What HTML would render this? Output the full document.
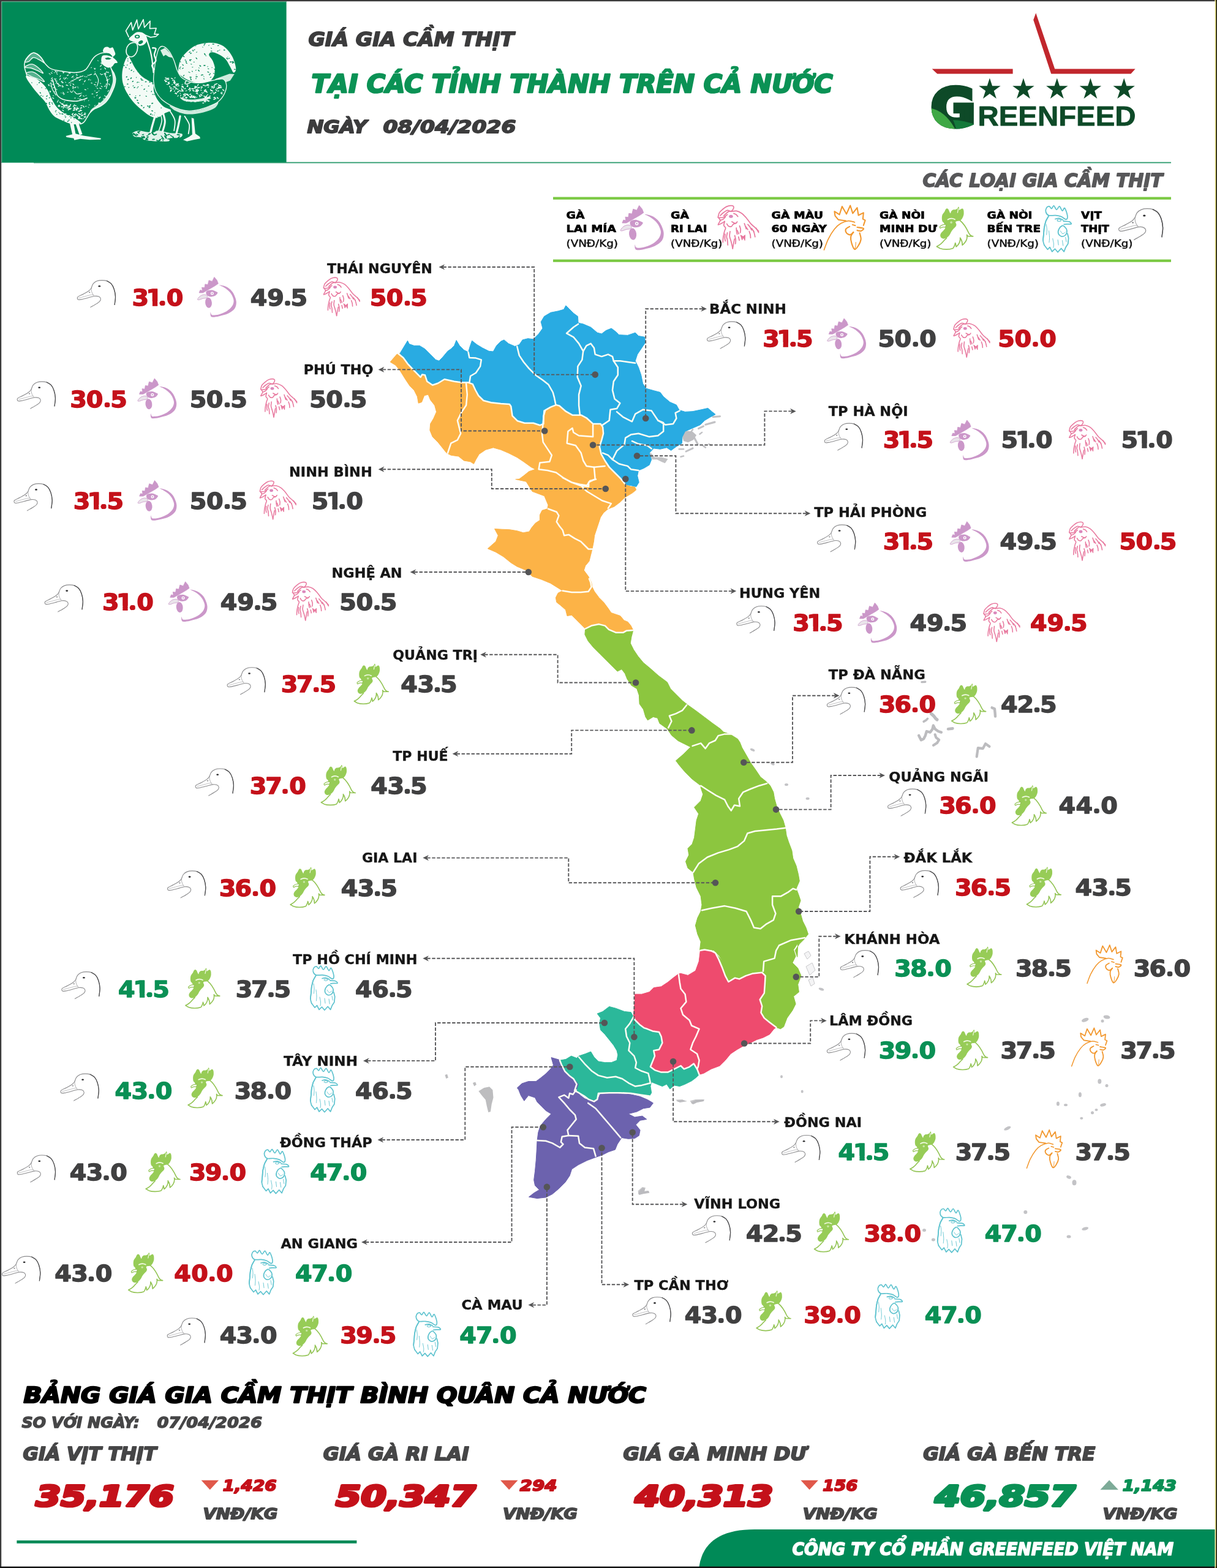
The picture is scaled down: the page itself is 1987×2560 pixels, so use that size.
<!DOCTYPE html>
<html lang="vi">
<head>
<meta charset="utf-8">
<title>Giá gia cầm thịt tại các tỉnh thành trên cả nước - GreenFeed</title>
<style>
html,body{margin:0;padding:0;background:#fff;}
body{width:1987px;height:2560px;overflow:hidden;}
svg{display:block;}
text{font-family:"Liberation Sans","DejaVu Sans",sans-serif;font-weight:bold;}
.lb,.nm,.hd{font-family:"DejaVu Sans","Liberation Sans",sans-serif;}
.it{font-style:italic;}
.rg{font-weight:normal;}
</style>
</head>
<body>
<svg width="1987" height="2560" viewBox="0 0 1987 2560">
<rect x="0" y="0" width="1987" height="2560" fill="#ffffff"/>
<defs>
<g id="ic-duck" fill="none" stroke-linecap="round" stroke-linejoin="round"><path d="M61.4,40.5 C61.6,38.3 62.9,31.6 62.8,27.4 C62.6,23.1 61.7,18.5 60.5,15.0 C59.3,11.5 57.8,8.4 55.8,6.2 C53.8,4.0 51.2,2.5 48.7,1.6 C46.2,0.7 43.4,0.6 40.7,0.6 C38.0,0.6 35.1,0.9 32.7,1.8 C30.3,2.7 28.1,4.3 26.5,6.2 C24.9,8.1 23.9,12.1 23.4,13.3" stroke="#8c8c8e" stroke-width="1.15"/><path d="M61.4,40.5 C61.6,38.3 62.9,31.6 62.8,27.4 C62.6,23.1 61.7,18.5 60.5,15.0 C59.3,11.5 57.8,8.4 55.8,6.2 C53.8,4.0 49.9,2.4 48.7,1.6" stroke="#4a4a4c" stroke-width="1.2"/><path d="M23.4,13.3 C22.8,14.0 21.6,16.1 19.5,17.7 C17.4,19.3 13.5,21.4 10.6,23.0 C7.7,24.6 3.5,26.2 1.8,27.4 C0.1,28.6 0.5,29.3 0.6,30.1 C0.7,30.9 1.1,31.9 2.2,32.2 C3.3,32.5 4.2,32.5 7.1,31.9 C10.0,31.3 16.0,29.7 19.5,28.8 C23.0,27.9 25.7,26.8 28.3,26.5 C30.9,26.2 33.7,26.4 35.4,27.1 C37.1,27.8 38.3,29.3 38.6,30.6 C38.9,31.9 38.3,33.5 37.2,34.9 C36.1,36.3 34.4,37.3 31.9,38.9 C29.4,40.5 23.7,43.6 22.1,44.6" stroke="#8e8e90" stroke-width="1.1"/><path d="M23.4,13.3 C23.5,14.2 23.4,16.9 23.8,18.5 C24.2,20.1 24.9,21.7 25.6,23.0 C26.4,24.3 27.9,25.9 28.3,26.5" stroke="#a5a5a7" stroke-width="0.9"/><path d="M3.0,29.6 C4.5,29.2 8.8,28.0 12.0,27.2 C15.2,26.4 19.5,25.1 22.0,24.6 C24.5,24.1 26.2,24.4 27.0,24.4" stroke="#b0b0b2" stroke-width="0.8"/><ellipse cx="36.6" cy="10.3" rx="1.9" ry="1.3" fill="#2e2e30" stroke="none"/><ellipse cx="20.4" cy="20.3" rx="1.3" ry="0.8" fill="#77777a" stroke="none"/></g>
<g id="ic-laimia"><path d="M36.3,13.2 C36.5,12.9 41.1,13.9 43.5,14.6 C45.9,15.3 48.2,16.2 50.4,17.6 C52.6,19.0 54.8,20.9 56.6,23.0 C58.4,25.1 59.9,27.4 61.2,30.4 C62.5,33.4 64.1,37.5 64.2,41.0 C64.3,44.5 63.8,48.6 61.6,51.7 C59.4,54.8 55.2,57.7 51.0,59.8 C46.8,61.9 40.5,63.2 36.3,64.2 C32.1,65.2 28.0,65.8 25.7,65.7 C23.4,65.6 22.9,64.8 22.3,63.4 C21.7,62.0 21.9,57.9 22.1,57.5 C22.3,57.1 22.7,60.4 23.4,61.2 C24.1,62.0 24.4,62.5 26.5,62.5 C28.6,62.5 32.6,62.3 36.3,61.2 C40.0,60.1 45.2,58.1 48.7,55.9 C52.2,53.7 55.3,50.9 57.2,48.1 C59.1,45.3 60.0,42.2 60.0,39.3 C60.0,36.4 58.4,33.0 57.3,30.6 C56.2,28.2 54.6,26.3 53.2,24.6 C51.8,22.9 50.5,21.9 48.7,20.5 C46.9,19.1 44.5,17.5 42.4,16.3 C40.3,15.1 36.1,13.5 36.3,13.2Z" fill="#cb97c9"/><path d="M3.5,26.0 L5.3,21.6 L8.8,22.5 L8.0,17.2 L12.4,17.7 L13.3,11.9 L17.7,12.7 L19.5,5.7 L24.8,7.4 L28.3,0.4 L32.7,5.7 L34.7,11.0 L29.2,14.8 L22.1,18.9 L15.9,22.5 L9.7,26.0Z" fill="#cb97c9" stroke="#cb97c9" stroke-width="0.8" stroke-linejoin="round"/><path d="M15.9,23.2 C17.4,22.1 21.4,21.3 23.9,21.4 C26.4,21.5 29.4,23.2 31.0,24.0 C32.6,24.8 33.9,24.9 33.8,26.0 C33.6,27.1 31.8,29.5 30.1,30.6 C28.5,31.7 25.8,32.2 23.9,32.4 C22.0,32.5 20.1,32.3 18.6,31.5 C17.1,30.7 15.4,29.2 15.0,27.8 C14.6,26.4 14.4,24.3 15.9,23.2Z" fill="#cb97c9"/><circle cx="24.8" cy="26.9" r="2.5" fill="#fff"/><circle cx="24.8" cy="26.9" r="1.1" fill="#cb97c9"/><path d="M0.9,36.6 C1.2,35.6 3.5,32.6 5.3,31.3 C7.1,30.0 9.6,29.1 11.5,29.0 C13.4,28.9 16.1,29.5 16.8,30.4 C17.5,31.3 17.1,33.5 15.9,34.3 C14.7,35.1 11.8,34.9 9.7,35.4 C7.6,35.9 5.0,37.3 3.5,37.5 C2.0,37.7 0.6,37.6 0.9,36.6Z" fill="#e9e4ea" stroke="#cb97c9" stroke-width="0.8"/><ellipse cx="18.9" cy="42.2" rx="5.4" ry="8.6" fill="#cb97c9" transform="rotate(-6 18.9 42.2)"/></g>
<g id="ic-rilai" fill="none" stroke="#e8799f" stroke-width="1.55" stroke-linecap="round" stroke-linejoin="round"><path d="M0.8,17.5 C1.1,16.4 1.4,12.9 2.6,11.0 C3.8,9.1 6.1,7.3 7.8,5.8 C9.5,4.3 11.1,3.0 13.0,2.1 C14.9,1.2 17.8,0.6 19.5,0.6 C21.2,0.6 22.9,1.2 23.4,2.1 C23.9,3.0 23.3,4.6 22.7,5.8 C22.1,7.0 20.0,8.5 19.5,9.1"/><path d="M4.0,15.0 C4.8,14.2 7.2,11.8 9.0,10.5 C10.8,9.2 12.8,7.7 14.5,7.5 C16.2,7.3 17.4,8.9 19.5,9.1 C21.6,9.2 24.7,8.0 27.3,8.4 C29.9,8.8 32.6,10.1 35.0,11.7 C37.4,13.3 39.4,15.7 41.6,18.2 C43.8,20.7 45.9,24.2 48.0,26.6 C50.1,29.0 52.5,30.6 54.5,32.5 C56.5,34.4 58.8,36.8 59.7,37.7"/><path d="M0.8,17.5 C1.3,18.2 3.9,20.2 3.9,22.0 C3.9,23.8 0.4,27.7 0.8,28.4 C1.2,29.1 4.9,26.8 6.5,26.0 C8.1,25.2 9.8,23.8 10.4,23.4"/><path d="M3.9,22.0 C4.6,21.8 6.7,21.3 8.0,20.5 C9.3,19.7 10.9,17.6 11.5,17.0"/><path d="M10.4,24.0 C10.2,24.9 8.9,27.7 9.1,29.2 C9.3,30.7 11.5,31.8 11.7,33.1 C11.9,34.4 10.7,35.9 10.4,37.0 C10.1,38.1 10.1,37.9 9.7,39.6 C9.3,41.3 8.5,44.6 8.2,47.0 C7.9,49.4 7.9,52.8 7.8,53.9"/><path d="M13.5,27.0 C13.9,27.6 14.9,29.8 16.0,30.5 C17.1,31.2 18.8,31.5 20.0,31.0 C21.2,30.5 21.8,28.3 23.0,27.5 C24.2,26.7 26.3,26.2 27.0,26.0"/><path d="M14.3,40.0 C14.1,41.0 13.2,44.2 13.2,46.0 C13.2,47.8 14.0,48.5 14.3,50.5 C14.6,52.5 14.8,56.6 14.9,57.8"/><path d="M18.2,38.0 C18.1,39.2 17.3,42.7 17.5,45.0 C17.7,47.3 18.9,49.8 19.5,52.0 C20.1,54.2 20.6,56.2 21.0,58.0 C21.4,59.8 21.8,62.2 22.0,63.0"/><path d="M22.0,63.0 C22.2,61.7 23.0,57.5 23.4,55.2 C23.8,52.9 24.4,50.0 24.6,49.0"/><path d="M27.3,33.0 C27.4,33.8 27.4,36.5 27.6,38.0 C27.8,39.5 28.4,41.5 28.6,42.2"/><path d="M28.6,36.5 L30.8,41.5"/><path d="M39.0,26.6 C39.2,27.2 39.8,28.7 40.2,30.0 C40.6,31.3 41.4,33.7 41.6,34.4"/><path d="M41.0,31.0 L44.0,35.5"/><path d="M52.0,37.0 C52.2,37.7 53.0,39.5 53.4,41.0 C53.8,42.5 54.3,45.2 54.5,46.0"/><path d="M55.8,33.0 C56.1,33.5 57.0,34.9 57.6,36.0 C58.2,37.1 59.4,39.0 59.7,39.6"/><path d="M49.5,33.5 L52.8,38.4"/><path d="M23.5,12.0 C24.1,12.2 26.0,12.8 27.0,13.5 C28.0,14.2 29.1,16.0 29.5,16.5"/><path d="M9.0,15.5 C9.9,14.7 12.8,11.6 14.3,10.4 C15.8,9.2 17.6,8.7 18.2,8.4"/><path d="M2.6,18.2 C3.7,18.1 7.0,18.3 9.0,17.5 C10.9,16.7 13.4,14.2 14.3,13.6"/><path d="M20.8,24.0 C21.7,24.4 24.7,26.6 26.0,26.6 C27.3,26.6 28.2,24.4 28.6,24.0"/><path d="M32.0,30.0 C32.2,30.8 33.3,33.3 33.5,35.0 C33.7,36.7 33.1,39.2 33.0,40.0"/><path d="M44.0,28.0 C44.5,28.6 46.1,30.2 47.0,31.5 C47.9,32.8 49.1,35.2 49.5,36.0"/><path d="M11.0,42.0 C10.9,43.0 10.5,46.3 10.6,48.0 C10.7,49.7 11.3,51.3 11.4,52.0"/><path d="M25.0,44.0 C25.2,45.0 26.2,48.0 26.4,50.0 C26.6,52.0 26.1,55.0 26.0,56.0"/><path d="M46.0,38.0 C46.3,38.8 47.3,41.4 47.6,43.0 C47.9,44.6 47.9,46.8 48.0,47.5"/><path d="M30.5,46.0 L31.6,51.0"/><path d="M33.6,43.6 L35.6,50.4 L37.4,46.4 L39.6,51 L40,43.4 L37.2,45.8Z" fill="#e8799f" stroke-width="1"/><ellipse cx="19.5" cy="16.2" rx="2.9" ry="2.3" fill="#d982b8" stroke="none" opacity="0.95"/></g>
<g id="ic-green"><path d="M36.4,21.9 C41,25.5 45.5,32 49.6,40.9 C50.6,43 52.6,45.4 56.2,46.1 L48.3,45.9 L46.7,43.8 C47.4,47 46.6,51 45,53.7 C43.6,56 41.5,58.2 39.7,59.5 C39.8,56.5 38.6,51.5 36.4,48.3 C36.8,51.5 36.5,55 32.6,59.9 L30.2,62 C30,59.6 29.6,57.8 28.9,56.2 C28.6,58.4 28,60 27.3,61.2 C26.8,62.6 26,63.8 25.2,64.5 C20,66.4 11,66.6 5.4,64.5 L0.3,61.6 C4,60 8.4,56.6 11.6,52.5 L15.5,48.6" fill="none" stroke="#93c455" stroke-width="1.6" stroke-linejoin="round" stroke-linecap="round"/><path d="M14.0,4.6 C14.6,3.8 15.4,3.0 16.1,3.0 C16.8,3.0 17.8,3.8 18.4,4.6 C19.0,5.4 19.3,6.8 19.8,7.8 C20.3,8.8 21.0,10.6 21.5,10.6 C22.0,10.6 22.0,8.5 22.6,7.6 C23.2,6.7 23.9,5.8 25.0,5.3 C26.1,4.8 27.8,5.2 29.0,4.9 C30.2,4.6 31.2,4.0 32.0,3.2 C32.8,2.5 33.4,0.4 33.9,0.4 C34.4,0.4 34.8,2.1 34.9,3.0 C35.0,3.9 34.6,5.3 34.8,5.6 C35.0,5.9 35.6,5.3 36.2,5.0 C36.8,4.7 37.8,3.9 38.5,3.6 C39.2,3.3 39.9,3.0 40.4,3.4 C40.9,3.8 41.4,4.9 41.7,6.0 C42.0,7.1 42.0,8.8 42.0,10.0 C42.0,11.2 42.1,11.8 41.7,13.2 C41.3,14.6 40.6,16.8 39.7,18.2 C38.8,19.6 37.7,21.2 36.4,21.9 C35.1,22.6 33.2,22.2 32.0,22.6 C30.8,23.0 29.5,23.1 29.3,24.0 C29.1,24.9 30.6,26.9 30.6,28.1 C30.6,29.3 30.1,30.3 29.3,31.4 C28.5,32.5 27.0,33.5 26.0,34.7 C25.0,35.9 24.1,36.9 23.1,38.4 C22.1,39.9 21.4,42.2 20.2,43.8 C19.0,45.4 17.6,46.9 16.1,47.9 C14.6,48.9 12.6,49.5 11.2,49.6 C9.8,49.7 8.3,49.1 7.4,48.3 C6.5,47.5 5.8,45.9 5.8,44.6 C5.8,43.3 6.5,41.9 7.4,40.5 C8.3,39.1 10.2,37.8 11.2,36.4 C12.2,35.0 13.6,34.1 13.6,32.2 C13.6,30.3 11.9,26.7 11.2,25.2 C10.4,23.7 9.6,24.3 9.1,23.1 C8.6,21.9 8.3,19.9 8.3,18.2 C8.3,16.5 8.4,14.5 9.1,12.8 C9.8,11.1 11.6,9.3 12.4,7.9 C13.2,6.5 13.4,5.4 14.0,4.6Z" fill="#97cc57"/><path d="M15.3,27.7 C11,27.6 7,29 5,31.4 C5,32.6 5.4,33.2 5.8,33.5 C8,32 10.4,30.8 13.6,32.2Z" fill="#ffffff" stroke="#93c455" stroke-width="1.2" stroke-linejoin="round"/><path d="M17.4,20.2 Q22.5,17 28.3,20" fill="none" stroke="#f4fbe9" stroke-width="1.7" stroke-linecap="round"/><path d="M33.6,3.4 Q33,6.5 32.4,9.5" fill="none" stroke="#f4fbe9" stroke-width="1.2" stroke-linecap="round"/><circle cx="22.7" cy="24.6" r="1.7" fill="#c9e7a6"/></g>
<g id="ic-cyan" fill="none" stroke="#5fc3cf" stroke-width="1.7" stroke-linecap="round" stroke-linejoin="round"><path d="M9.7,15.9 C7.2,15.0 5.9,12.5 5.3,10.6 C4.7,8.7 5.3,5.9 6.2,4.4 C7.1,2.9 9.3,1.7 10.6,1.8 C11.9,1.9 13.0,5.5 14.2,5.3 C15.4,5.1 16.4,0.6 17.7,0.9 C19.0,1.2 20.5,6.8 22.0,7.0 C23.5,7.2 25.0,1.5 26.5,1.8 C28.0,2.1 29.7,8.4 31.0,8.8 C32.3,9.2 33.3,3.8 34.5,4.4 C35.7,5.0 37.2,9.9 38.0,12.4 C38.8,14.9 39.3,17.9 39.0,19.5 C38.7,21.1 37.9,22.4 36.3,22.1 C34.7,21.8 31.8,18.7 29.2,17.7 C26.6,16.7 23.6,16.2 20.4,15.9 C17.1,15.6 12.2,16.8 9.7,15.9Z" fill="#ffffff"/><path d="M9.7,16.8 L5.3,24.8 L2.7,35.4 L1.8,46.0 L0.9,54.9" stroke-width="1.6"/><path d="M9.7,16.8 C9.0,18.1 6.5,21.7 5.3,24.8 C4.1,27.9 3.3,31.9 2.7,35.4 C2.1,38.9 2.1,42.8 1.8,46.0 C1.5,49.2 0.8,52.2 0.9,54.9 C1.1,57.6 2.4,60.8 2.7,62.0"/><path d="M2.7,62.0 L8.0,69.0 L11.5,65.5 L15.0,72.4 L19.5,68.0 L23.9,73.2 L29.2,67.3 L33.6,72.4 L36.3,65.5 L39.8,60.2 L40.7,51.3 L39.0,44.2"/><path d="M32.7,24.8 C34.2,24.9 39.6,25.0 41.6,25.7 C43.6,26.4 45.6,28.6 45.0,29.2 C44.4,29.8 39.9,29.3 38.0,29.4 C36.1,29.5 34.3,29.9 33.6,30.0"/><path d="M20.0,21.5 C21.0,21.3 24.0,20.2 26.0,20.5 C28.0,20.8 31.0,22.6 32.0,23.0"/><ellipse cx="26" cy="23.6" rx="3" ry="1.6" stroke-width="1"/><path d="M31.0,31.9 C29.5,32.5 26.7,35.2 25.7,37.2 C24.7,39.2 24.1,42.3 24.8,44.2 C25.5,46.1 28.1,48.4 30.0,48.7 C31.9,49.0 35.0,47.6 36.3,46.0 C37.6,44.4 38.3,41.1 38.0,39.0 C37.7,36.9 35.7,34.8 34.5,33.6 C33.3,32.4 32.5,31.3 31.0,31.9Z"/><path d="M28.0,40.0 C28.6,40.8 30.2,44.2 31.5,44.5 C32.8,44.8 34.8,42.4 35.5,42.0" stroke-width="0.9"/><path d="M6.0,30.0 C6.2,31.3 6.9,35.3 7.0,38.0 C7.1,40.7 6.5,44.7 6.4,46.0" stroke-width="0.9"/><path d="M10.0,40.0 C10.2,41.7 10.9,47.0 11.0,50.0 C11.1,53.0 10.5,56.7 10.4,58.0" stroke-width="0.9"/><path d="M16.0,52.0 C16.2,53.3 17.3,57.7 17.5,60.0 C17.7,62.3 17.1,65.0 17.0,66.0" stroke-width="0.9"/><path d="M24.0,54.0 L25.0,62.0" stroke-width="0.9"/><path d="M31.0,55.0 L32.2,63.0" stroke-width="0.9"/><path d="M36.0,50.0 L37.2,57.0" stroke-width="0.9"/></g>
<g id="ic-orange" fill="none" stroke="#f2982f" stroke-width="1.8" stroke-linecap="round" stroke-linejoin="round"><path d="M31.0,22.0 L20.4,20.4 L15.9,15.0 L15.0,8.8 L22.0,13.3 L25.7,1.8 L31.9,12.4 L37.2,0.4 L40.7,11.5 L46.9,3.5 L48.7,14.2 L55.8,10.6 L54.9,19.5 L58.2,21.2 L55.8,28.3"/><path d="M0.4,62.8 C1.4,60.3 3.8,52.7 6.2,47.8 C8.6,42.9 12.1,37.3 15.0,33.6 C17.9,29.9 20.6,27.6 23.9,25.7 C27.1,23.8 31.2,22.3 34.5,22.0 C37.8,21.7 41.9,23.6 43.4,23.9" stroke-width="1.5"/><path d="M46.9,31.0 C48.4,31.3 54.9,31.8 55.8,32.7 C56.7,33.6 53.7,35.8 52.2,36.3 C50.7,36.8 47.8,35.5 46.9,35.4"/><path d="M36.3,30.0 C35.4,30.6 31.7,32.1 31.0,33.6 C30.3,35.1 30.9,37.7 31.9,39.0 C32.9,40.3 35.6,41.8 37.2,41.6 C38.8,41.4 40.9,38.6 41.6,38.0"/><path d="M41.6,38.0 C41.0,39.0 38.4,41.7 38.0,44.2 C37.6,46.7 38.1,50.0 39.0,53.0 C39.9,56.0 41.8,61.4 43.4,62.0 C45.0,62.6 47.2,59.0 48.7,56.6 C50.2,54.2 51.9,50.7 52.2,47.8 C52.5,44.9 50.7,40.5 50.4,39.0"/><path d="M43.4,62.0 C43.6,61.3 44.3,59.7 44.6,58.0 C44.9,56.3 44.9,53.0 45.0,52.0" stroke-width="0.9"/><path d="M40.2,27.4 L44.4,28.6" stroke-width="1.6"/></g>
</defs>
<rect x="2" y="2" width="465.6" height="263.6" fill="#008a57"/>
<rect x="2.2" y="2.2" width="465" height="1" fill="#8fcdb4"/>
<rect x="2.2" y="2.2" width="1" height="263" fill="#8fcdb4"/>
<rect x="55" y="264.6" width="1857" height="1.8" fill="#2a9a6c"/>
<g id="chickens">
<path d="M81.0,111.0 C83.8,112.9 85.6,113.2 89.5,114.2 C93.4,115.1 99.2,116.1 104.3,116.8 C109.5,117.5 115.7,118.3 120.3,118.4 C124.9,118.5 128.6,118.2 131.9,117.3 C135.3,116.5 138.1,115.0 140.4,113.1 C142.7,111.1 144.2,108.1 145.7,105.7 C147.3,103.2 148.4,100.5 150.0,98.2 C151.6,95.9 153.2,93.6 155.3,91.9 C157.4,90.1 160.3,88.6 162.7,87.6 C165.2,86.6 167.5,86.2 170.2,86.0 C172.8,85.8 176.4,85.6 178.7,86.5 C181.0,87.5 183.6,88.0 184.0,91.9 C184.3,95.8 180.4,105.3 180.8,109.9 C181.1,114.5 184.8,116.3 186.1,119.5 C187.4,122.7 188.6,125.7 188.8,129.0 C188.9,132.4 188.1,136.1 187.2,139.6 C186.2,143.2 184.3,147.1 182.9,150.3 C181.5,153.4 180.4,155.9 178.7,158.8 C176.9,161.6 174.8,164.8 172.3,167.3 C169.8,169.7 166.8,171.9 163.8,173.6 C160.8,175.4 157.1,176.1 154.2,177.9 C151.4,179.6 148.9,181.8 146.8,184.2 C144.7,186.7 143.1,190.3 141.5,192.7 C139.9,195.2 138.8,197.5 137.3,199.1 C135.7,200.7 134.2,201.8 131.9,202.3 C129.6,202.8 126.3,202.5 123.4,202.3 C120.6,202.1 118.1,202.1 115.0,201.2 C111.8,200.3 108.6,198.9 104.3,197.0 C100.1,195.0 93.4,192.6 89.5,189.6 C85.6,186.5 83.4,182.8 81.0,178.9 C78.5,175.0 77.3,170.1 74.6,166.2 C71.9,162.3 68.4,159.5 65.0,155.6 C61.7,151.7 57.6,147.3 54.4,142.8 C51.2,138.4 47.9,132.9 45.9,129.0 C44.0,125.1 43.7,122.7 42.7,119.5 C41.8,116.3 40.4,113.1 40.1,109.9 C39.7,106.7 39.6,103.4 40.6,100.4 C41.6,97.3 43.8,94.2 45.9,91.9 C48.1,89.6 50.9,87.2 53.4,86.5 C55.8,85.9 58.5,86.9 60.8,88.1 C63.1,89.4 65.2,91.6 67.2,94.0 C69.1,96.4 70.2,99.6 72.5,102.5 C74.8,105.3 78.1,109.0 81.0,111.0Z" fill="#008a57" stroke="#f3fbf6" stroke-width="1.5" stroke-linejoin="round"/>
<path d="M42.7,123.7 C44.5,123.0 52.3,125.8 56.5,128.0 C60.8,130.1 64.7,133.3 68.2,136.5 C71.8,139.6 75.3,143.4 77.8,147.1 C80.3,150.8 81.1,154.9 83.1,158.8 C85.0,162.7 87.0,166.9 89.5,170.4 C91.9,174.0 94.8,177.3 98.0,180.0 C101.1,182.7 105.0,185.0 108.6,186.9 C112.1,188.8 116.0,190.1 119.2,191.7 C122.4,193.3 125.4,194.7 127.7,196.5 C130.0,198.2 133.7,201.2 133.0,202.3 C132.3,203.4 126.5,202.9 123.4,202.8 C120.4,202.7 118.1,202.6 115.0,201.8 C111.8,200.9 108.6,199.5 104.3,197.5 C100.1,195.6 93.4,193.1 89.5,190.1 C85.6,187.1 83.4,183.4 81.0,179.5 C78.5,175.6 77.3,170.6 74.6,166.7 C71.9,162.8 68.4,160.0 65.0,156.1 C61.7,152.2 57.6,147.3 54.4,143.4 C51.2,139.4 47.9,135.5 45.9,132.2 C44.0,128.9 41.0,124.4 42.7,123.7Z" fill="#f3fbf6"/>
<path d="M180.8,109.9 C181.2,109.4 184.8,116.3 186.1,119.5 C187.4,122.7 188.6,125.7 188.8,129.0 C188.9,132.4 188.1,136.1 187.2,139.6 C186.2,143.2 184.3,147.1 182.9,150.3 C181.5,153.4 180.4,155.9 178.7,158.8 C176.9,161.6 174.8,164.8 172.3,167.3 C169.8,169.7 166.8,171.9 163.8,173.6 C160.8,175.4 157.1,176.1 154.2,177.9 C151.4,179.6 147.7,184.1 146.8,184.2 C145.9,184.4 147.2,180.9 148.9,178.9 C150.7,177.0 154.2,175.0 157.4,172.6 C160.6,170.1 165.0,167.1 168.0,164.1 C171.1,161.1 173.4,157.9 175.5,154.5 C177.6,151.1 179.4,147.4 180.8,143.9 C182.2,140.4 183.5,136.8 184.0,133.3 C184.4,129.7 184.0,126.5 183.4,122.7 C182.9,118.8 180.3,110.4 180.8,109.9Z" fill="#f3fbf6" opacity="0.9"/>
<path d="M166.5,91.9 C167.6,90.2 169.9,90.3 172.3,90.3 C174.7,90.3 178.3,90.9 180.8,91.9 C183.3,92.8 185.3,94.4 187.2,96.1 C189.0,97.8 191.9,100.7 191.9,101.9 C191.9,103.2 188.7,102.4 187.2,103.5 C185.7,104.7 184.7,107.7 182.9,108.8 C181.1,110.0 178.8,110.8 176.5,110.4 C174.2,110.1 171.0,108.4 169.1,106.7 C167.3,105.0 165.8,102.8 165.4,100.4 C165.0,97.9 165.3,93.5 166.5,91.9Z" fill="#f3fbf6"/>
<path d="M168.0,83.9 C167.7,82.6 168.9,79.3 170.2,78.1 C171.4,76.8 173.9,76.4 175.5,76.5 C177.1,76.5 178.3,78.4 179.7,78.6 C181.1,78.8 182.8,76.8 184.0,77.5 C185.1,78.2 185.9,81.0 186.6,82.8 C187.3,84.7 188.7,87.2 188.2,88.7 C187.8,90.2 185.6,92.1 184.0,91.9 C182.4,91.6 180.6,88.1 178.7,87.1 C176.7,86.1 174.1,86.5 172.3,86.0 C170.5,85.5 168.4,85.2 168.0,83.9Z" fill="#f3fbf6"/>
<path d="M171.2,95.0 L176.5,93.8 L181.9,95.6 L178.7,97.2 L173.4,97.2Z" fill="#008a57"/>
<path d="M40.6,100.4 C41.7,98.1 49.3,88.0 53.4,86.5 C57.4,85.1 61.9,89.2 65.0,91.9 C68.2,94.5 72.5,101.4 72.5,102.5 C72.5,103.5 68.1,99.6 65.0,98.2 C62.0,96.8 57.4,93.6 54.4,94.0 C51.4,94.3 49.3,99.3 47.0,100.4 C44.7,101.4 39.6,102.7 40.6,100.4Z" fill="#f3fbf6" fill-opacity="0.35" stroke="#f3fbf6" stroke-width="1.3"/>
<path d="M40.1,109.9 C40.3,108.8 47.6,104.6 51.2,104.6 C54.9,104.6 58.7,107.4 61.9,109.9 C65.0,112.4 70.5,118.6 70.4,119.5 C70.2,120.4 64.2,116.6 60.8,115.2 C57.4,113.8 53.6,111.9 50.2,111.0 C46.7,110.1 39.9,111.0 40.1,109.9Z" fill="#f3fbf6" fill-opacity="0.35" stroke="#f3fbf6" stroke-width="1.3"/>
<path d="M42.7,119.5 C43.1,118.2 49.8,116.6 53.4,117.3 C56.9,118.1 60.8,121.1 64.0,123.7 C67.2,126.4 72.8,132.4 72.5,133.3 C72.1,134.2 65.4,130.4 61.9,129.0 C58.3,127.6 54.4,126.4 51.2,124.8 C48.1,123.2 42.4,120.7 42.7,119.5Z" fill="#f3fbf6" fill-opacity="0.35" stroke="#f3fbf6" stroke-width="1.3"/>
<path d="M45.9,129.0 C46.1,127.6 52.1,127.1 55.5,128.0 C58.8,128.8 62.9,131.7 66.1,134.3 C69.3,137.0 75.0,143.0 74.6,143.9 C74.2,144.8 67.3,140.9 64.0,139.6 C60.6,138.4 57.4,138.2 54.4,136.5 C51.4,134.7 45.8,130.4 45.9,129.0Z" fill="#f3fbf6" fill-opacity="0.35" stroke="#f3fbf6" stroke-width="1.3"/>
<path d="M85.2,129.0 C85.9,131.3 88.1,138.4 89.5,142.8 C90.9,147.3 91.6,152.4 93.7,155.6 C95.8,158.8 98.7,160.4 102.2,161.9 C105.7,163.4 111.1,164.1 115.0,164.6 C118.8,165.1 122.0,165.5 125.6,165.1 C129.1,164.8 133.4,163.4 136.2,162.5 C139.0,161.6 141.5,160.3 142.6,159.8" fill="none" stroke="#f3fbf6" stroke-width="1.6"/>
<path d="M115.0,133.3 C116.7,132.4 122.0,129.6 125.6,128.0 C129.1,126.4 134.4,124.4 136.2,123.7" fill="none" stroke="#f3fbf6" stroke-width="1.1"/>
<path d="M113.9,201.2 L120.3,201.8 L123.4,218.2 L136.2,221.4 L164.9,225.7 L164.3,227.8 L146.8,228.3 L130.9,226.7 L121.3,228.8 L120.3,225.7 L108.6,224.1 L107.5,221.9 L118.1,219.3Z" fill="#f3fbf6"/>
<path d="M123.4,202.3 L128.8,202.8 L134.6,219.3 L129.8,220.3Z" fill="#f3fbf6"/>
<g fill="#f3fbf6"><ellipse cx="134.1" cy="129.2" rx="1.0" ry="0.4" transform="rotate(1 134.1 129.2)"/><ellipse cx="81.7" cy="136.4" rx="1.1" ry="0.4" transform="rotate(-49 81.7 136.4)"/><ellipse cx="122.4" cy="177.7" rx="1.1" ry="0.4" transform="rotate(-33 122.4 177.7)"/><ellipse cx="138.5" cy="132.5" rx="2.1" ry="0.7" transform="rotate(-54 138.5 132.5)"/><ellipse cx="168.0" cy="121.2" rx="1.1" ry="0.4" transform="rotate(-46 168.0 121.2)"/><ellipse cx="110.2" cy="176.6" rx="1.2" ry="0.4" transform="rotate(10 110.2 176.6)"/><ellipse cx="145.0" cy="129.9" rx="1.6" ry="0.6" transform="rotate(-52 145.0 129.9)"/><ellipse cx="149.3" cy="135.7" rx="1.3" ry="0.5" transform="rotate(10 149.3 135.7)"/><ellipse cx="125.4" cy="122.3" rx="1.9" ry="0.7" transform="rotate(24 125.4 122.3)"/><ellipse cx="103.4" cy="151.2" rx="1.6" ry="0.6" transform="rotate(45 103.4 151.2)"/><ellipse cx="154.5" cy="121.1" rx="2.1" ry="0.7" transform="rotate(-46 154.5 121.1)"/><ellipse cx="121.7" cy="170.4" rx="1.2" ry="0.4" transform="rotate(-1 121.7 170.4)"/><ellipse cx="158.2" cy="151.0" rx="2.0" ry="0.7" transform="rotate(-22 158.2 151.0)"/><ellipse cx="150.9" cy="153.3" rx="1.6" ry="0.6" transform="rotate(-5 150.9 153.3)"/><ellipse cx="127.6" cy="160.6" rx="1.0" ry="0.4" transform="rotate(24 127.6 160.6)"/><ellipse cx="164.2" cy="120.7" rx="1.4" ry="0.5" transform="rotate(20 164.2 120.7)"/><ellipse cx="80.2" cy="139.3" rx="1.2" ry="0.4" transform="rotate(-46 80.2 139.3)"/><ellipse cx="91.4" cy="116.8" rx="1.4" ry="0.5" transform="rotate(45 91.4 116.8)"/><ellipse cx="86.3" cy="138.0" rx="1.6" ry="0.6" transform="rotate(46 86.3 138.0)"/><ellipse cx="107.1" cy="134.5" rx="1.4" ry="0.5" transform="rotate(46 107.1 134.5)"/><ellipse cx="102.3" cy="141.8" rx="1.6" ry="0.6" transform="rotate(-28 102.3 141.8)"/><ellipse cx="116.6" cy="150.3" rx="2.0" ry="0.7" transform="rotate(23 116.6 150.3)"/><ellipse cx="132.0" cy="155.7" rx="1.7" ry="0.6" transform="rotate(-54 132.0 155.7)"/><ellipse cx="119.0" cy="132.7" rx="1.1" ry="0.4" transform="rotate(16 119.0 132.7)"/><ellipse cx="88.5" cy="129.0" rx="1.0" ry="0.4" transform="rotate(45 88.5 129.0)"/><ellipse cx="104.3" cy="127.3" rx="1.4" ry="0.5" transform="rotate(-45 104.3 127.3)"/><ellipse cx="126.8" cy="141.7" rx="1.1" ry="0.4" transform="rotate(-48 126.8 141.7)"/><ellipse cx="113.8" cy="118.6" rx="1.9" ry="0.7" transform="rotate(-41 113.8 118.6)"/><ellipse cx="133.3" cy="193.7" rx="1.9" ry="0.7" transform="rotate(24 133.3 193.7)"/><ellipse cx="105.2" cy="129.3" rx="1.2" ry="0.4" transform="rotate(33 105.2 129.3)"/><ellipse cx="133.8" cy="172.7" rx="1.3" ry="0.5" transform="rotate(-33 133.8 172.7)"/><ellipse cx="163.8" cy="168.6" rx="1.2" ry="0.4" transform="rotate(2 163.8 168.6)"/><ellipse cx="80.7" cy="120.2" rx="1.3" ry="0.5" transform="rotate(23 80.7 120.2)"/><ellipse cx="178.3" cy="137.8" rx="2.0" ry="0.7" transform="rotate(59 178.3 137.8)"/><ellipse cx="178.2" cy="129.1" rx="1.2" ry="0.4" transform="rotate(-33 178.2 129.1)"/><ellipse cx="166.1" cy="141.2" rx="1.7" ry="0.6" transform="rotate(36 166.1 141.2)"/><ellipse cx="86.7" cy="160.2" rx="2.0" ry="0.7" transform="rotate(34 86.7 160.2)"/><ellipse cx="156.6" cy="141.1" rx="1.2" ry="0.4" transform="rotate(35 156.6 141.1)"/><ellipse cx="112.7" cy="175.0" rx="2.1" ry="0.7" transform="rotate(-12 112.7 175.0)"/><ellipse cx="120.0" cy="190.3" rx="1.8" ry="0.6" transform="rotate(-40 120.0 190.3)"/><ellipse cx="114.6" cy="148.5" rx="1.1" ry="0.4" transform="rotate(-58 114.6 148.5)"/><ellipse cx="133.1" cy="188.9" rx="1.5" ry="0.5" transform="rotate(45 133.1 188.9)"/><ellipse cx="164.6" cy="113.0" rx="1.3" ry="0.5" transform="rotate(-25 164.6 113.0)"/><ellipse cx="103.1" cy="152.4" rx="1.3" ry="0.5" transform="rotate(-10 103.1 152.4)"/><ellipse cx="115.0" cy="139.0" rx="1.6" ry="0.6" transform="rotate(49 115.0 139.0)"/><ellipse cx="122.0" cy="187.3" rx="1.5" ry="0.6" transform="rotate(4 122.0 187.3)"/><ellipse cx="95.9" cy="140.6" rx="1.8" ry="0.6" transform="rotate(7 95.9 140.6)"/><ellipse cx="112.1" cy="145.3" rx="1.6" ry="0.6" transform="rotate(34 112.1 145.3)"/><ellipse cx="88.9" cy="149.7" rx="1.3" ry="0.4" transform="rotate(-27 88.9 149.7)"/><ellipse cx="159.0" cy="144.2" rx="1.6" ry="0.6" transform="rotate(31 159.0 144.2)"/><ellipse cx="173.7" cy="137.4" rx="1.7" ry="0.6" transform="rotate(1 173.7 137.4)"/><ellipse cx="131.6" cy="163.6" rx="1.5" ry="0.5" transform="rotate(4 131.6 163.6)"/><ellipse cx="128.0" cy="189.8" rx="1.8" ry="0.6" transform="rotate(45 128.0 189.8)"/><ellipse cx="176.8" cy="118.1" rx="1.6" ry="0.6" transform="rotate(53 176.8 118.1)"/><ellipse cx="166.1" cy="105.2" rx="1.1" ry="0.4" transform="rotate(-7 166.1 105.2)"/><ellipse cx="85.4" cy="116.1" rx="1.1" ry="0.4" transform="rotate(20 85.4 116.1)"/><ellipse cx="94.0" cy="166.1" rx="1.7" ry="0.6" transform="rotate(-43 94.0 166.1)"/><ellipse cx="119.7" cy="142.0" rx="2.1" ry="0.7" transform="rotate(40 119.7 142.0)"/><ellipse cx="94.8" cy="136.2" rx="1.6" ry="0.6" transform="rotate(-19 94.8 136.2)"/><ellipse cx="98.4" cy="124.3" rx="1.8" ry="0.6" transform="rotate(-58 98.4 124.3)"/><ellipse cx="136.0" cy="137.1" rx="1.0" ry="0.4" transform="rotate(-20 136.0 137.1)"/><ellipse cx="143.4" cy="144.6" rx="1.1" ry="0.4" transform="rotate(58 143.4 144.6)"/><ellipse cx="88.8" cy="118.7" rx="1.0" ry="0.4" transform="rotate(33 88.8 118.7)"/><ellipse cx="122.2" cy="186.6" rx="1.9" ry="0.7" transform="rotate(-29 122.2 186.6)"/><ellipse cx="137.8" cy="164.4" rx="1.1" ry="0.4" transform="rotate(-53 137.8 164.4)"/><ellipse cx="150.1" cy="135.5" rx="1.1" ry="0.4" transform="rotate(53 150.1 135.5)"/><ellipse cx="144.5" cy="175.1" rx="1.1" ry="0.4" transform="rotate(43 144.5 175.1)"/><ellipse cx="125.5" cy="126.5" rx="1.6" ry="0.6" transform="rotate(51 125.5 126.5)"/><ellipse cx="110.6" cy="122.9" rx="1.8" ry="0.7" transform="rotate(-25 110.6 122.9)"/><ellipse cx="154.9" cy="148.7" rx="1.2" ry="0.4" transform="rotate(-3 154.9 148.7)"/><ellipse cx="163.9" cy="136.2" rx="1.5" ry="0.5" transform="rotate(40 163.9 136.2)"/><ellipse cx="119.1" cy="144.1" rx="1.8" ry="0.6" transform="rotate(58 119.1 144.1)"/><ellipse cx="113.8" cy="178.3" rx="1.8" ry="0.6" transform="rotate(16 113.8 178.3)"/><ellipse cx="120.3" cy="127.3" rx="1.0" ry="0.4" transform="rotate(-44 120.3 127.3)"/><ellipse cx="169.3" cy="161.3" rx="1.3" ry="0.5" transform="rotate(-31 169.3 161.3)"/><ellipse cx="108.6" cy="139.1" rx="1.2" ry="0.4" transform="rotate(-7 108.6 139.1)"/><ellipse cx="110.3" cy="128.3" rx="1.0" ry="0.4" transform="rotate(-14 110.3 128.3)"/><ellipse cx="127.7" cy="143.7" rx="1.2" ry="0.4" transform="rotate(1 127.7 143.7)"/><ellipse cx="87.2" cy="132.8" rx="1.0" ry="0.4" transform="rotate(-57 87.2 132.8)"/><ellipse cx="139.3" cy="146.4" rx="1.8" ry="0.7" transform="rotate(19 139.3 146.4)"/><ellipse cx="118.7" cy="125.1" rx="2.1" ry="0.7" transform="rotate(-42 118.7 125.1)"/><ellipse cx="153.9" cy="158.4" rx="1.0" ry="0.4" transform="rotate(40 153.9 158.4)"/><ellipse cx="171.6" cy="156.7" rx="1.8" ry="0.6" transform="rotate(37 171.6 156.7)"/><ellipse cx="92.4" cy="145.9" rx="1.5" ry="0.6" transform="rotate(40 92.4 145.9)"/><ellipse cx="139.2" cy="184.7" rx="1.7" ry="0.6" transform="rotate(23 139.2 184.7)"/><ellipse cx="91.8" cy="128.7" rx="1.1" ry="0.4" transform="rotate(40 91.8 128.7)"/><ellipse cx="136.5" cy="156.8" rx="1.7" ry="0.6" transform="rotate(22 136.5 156.8)"/><ellipse cx="161.6" cy="169.5" rx="1.5" ry="0.6" transform="rotate(4 161.6 169.5)"/><ellipse cx="155.2" cy="117.3" rx="1.1" ry="0.4" transform="rotate(-28 155.2 117.3)"/><ellipse cx="154.5" cy="112.4" rx="1.8" ry="0.6" transform="rotate(57 154.5 112.4)"/><ellipse cx="129.7" cy="131.0" rx="1.5" ry="0.5" transform="rotate(22 129.7 131.0)"/><ellipse cx="158.4" cy="155.7" rx="1.7" ry="0.6" transform="rotate(-51 158.4 155.7)"/><ellipse cx="93.3" cy="117.5" rx="1.8" ry="0.6" transform="rotate(-23 93.3 117.5)"/><ellipse cx="84.2" cy="119.1" rx="1.7" ry="0.6" transform="rotate(23 84.2 119.1)"/><ellipse cx="148.8" cy="121.4" rx="1.6" ry="0.6" transform="rotate(-4 148.8 121.4)"/><ellipse cx="171.7" cy="111.7" rx="2.1" ry="0.7" transform="rotate(52 171.7 111.7)"/><ellipse cx="79.6" cy="139.0" rx="1.9" ry="0.7" transform="rotate(56 79.6 139.0)"/><ellipse cx="125.0" cy="119.0" rx="1.2" ry="0.4" transform="rotate(53 125.0 119.0)"/><ellipse cx="99.9" cy="151.9" rx="1.1" ry="0.4" transform="rotate(3 99.9 151.9)"/><ellipse cx="164.0" cy="144.3" rx="2.0" ry="0.7" transform="rotate(24 164.0 144.3)"/><ellipse cx="125.2" cy="122.5" rx="1.1" ry="0.4" transform="rotate(-19 125.2 122.5)"/><ellipse cx="111.0" cy="179.1" rx="1.0" ry="0.4" transform="rotate(30 111.0 179.1)"/><ellipse cx="166.0" cy="103.4" rx="2.0" ry="0.7" transform="rotate(26 166.0 103.4)"/><ellipse cx="172.6" cy="121.3" rx="1.4" ry="0.5" transform="rotate(-13 172.6 121.3)"/><ellipse cx="115.7" cy="135.8" rx="1.3" ry="0.5" transform="rotate(-54 115.7 135.8)"/><ellipse cx="104.0" cy="118.7" rx="1.6" ry="0.6" transform="rotate(-37 104.0 118.7)"/><ellipse cx="117.0" cy="191.3" rx="2.0" ry="0.7" transform="rotate(37 117.0 191.3)"/><ellipse cx="176.7" cy="148.5" rx="1.8" ry="0.6" transform="rotate(-54 176.7 148.5)"/><ellipse cx="154.8" cy="138.2" rx="1.8" ry="0.7" transform="rotate(17 154.8 138.2)"/><ellipse cx="127.4" cy="126.9" rx="1.3" ry="0.5" transform="rotate(29 127.4 126.9)"/><ellipse cx="146.8" cy="122.4" rx="1.6" ry="0.6" transform="rotate(-13 146.8 122.4)"/><ellipse cx="102.9" cy="118.0" rx="1.6" ry="0.6" transform="rotate(46 102.9 118.0)"/><ellipse cx="156.6" cy="134.2" rx="1.4" ry="0.5" transform="rotate(3 156.6 134.2)"/><ellipse cx="117.4" cy="126.4" rx="1.0" ry="0.4" transform="rotate(-27 117.4 126.4)"/><ellipse cx="130.7" cy="157.0" rx="1.9" ry="0.7" transform="rotate(-34 130.7 157.0)"/><ellipse cx="119.8" cy="137.7" rx="2.0" ry="0.7" transform="rotate(42 119.8 137.7)"/><ellipse cx="171.9" cy="140.5" rx="1.6" ry="0.6" transform="rotate(-60 171.9 140.5)"/><ellipse cx="118.9" cy="188.2" rx="1.9" ry="0.7" transform="rotate(43 118.9 188.2)"/><ellipse cx="132.7" cy="162.5" rx="2.0" ry="0.7" transform="rotate(27 132.7 162.5)"/><ellipse cx="145.8" cy="171.2" rx="1.5" ry="0.5" transform="rotate(6 145.8 171.2)"/><ellipse cx="145.6" cy="122.7" rx="1.1" ry="0.4" transform="rotate(-30 145.6 122.7)"/><ellipse cx="144.7" cy="164.2" rx="1.1" ry="0.4" transform="rotate(-52 144.7 164.2)"/><ellipse cx="132.9" cy="152.1" rx="1.4" ry="0.5" transform="rotate(-33 132.9 152.1)"/><ellipse cx="109.5" cy="139.2" rx="2.1" ry="0.7" transform="rotate(17 109.5 139.2)"/><ellipse cx="170.7" cy="140.8" rx="1.2" ry="0.4" transform="rotate(-30 170.7 140.8)"/><ellipse cx="130.2" cy="161.7" rx="1.5" ry="0.5" transform="rotate(-29 130.2 161.7)"/><ellipse cx="113.3" cy="135.0" rx="1.7" ry="0.6" transform="rotate(-36 113.3 135.0)"/><ellipse cx="161.6" cy="168.5" rx="1.5" ry="0.6" transform="rotate(-35 161.6 168.5)"/><ellipse cx="179.7" cy="123.6" rx="1.9" ry="0.7" transform="rotate(-32 179.7 123.6)"/><ellipse cx="101.1" cy="170.7" rx="1.3" ry="0.5" transform="rotate(54 101.1 170.7)"/><ellipse cx="101.3" cy="134.6" rx="1.7" ry="0.6" transform="rotate(54 101.3 134.6)"/><ellipse cx="93.2" cy="132.2" rx="1.2" ry="0.4" transform="rotate(57 93.2 132.2)"/><ellipse cx="84.1" cy="132.1" rx="2.0" ry="0.7" transform="rotate(46 84.1 132.1)"/><ellipse cx="175.7" cy="125.4" rx="1.2" ry="0.4" transform="rotate(52 175.7 125.4)"/><ellipse cx="147.6" cy="130.6" rx="1.4" ry="0.5" transform="rotate(-20 147.6 130.6)"/><ellipse cx="107.2" cy="127.7" rx="2.1" ry="0.7" transform="rotate(-45 107.2 127.7)"/><ellipse cx="115.3" cy="177.2" rx="1.9" ry="0.7" transform="rotate(-8 115.3 177.2)"/><ellipse cx="83.0" cy="140.6" rx="1.4" ry="0.5" transform="rotate(50 83.0 140.6)"/><ellipse cx="98.1" cy="129.1" rx="2.0" ry="0.7" transform="rotate(-56 98.1 129.1)"/><ellipse cx="121.0" cy="176.1" rx="1.8" ry="0.7" transform="rotate(-55 121.0 176.1)"/><ellipse cx="174.5" cy="117.8" rx="1.8" ry="0.6" transform="rotate(48 174.5 117.8)"/><ellipse cx="113.4" cy="119.4" rx="2.1" ry="0.7" transform="rotate(14 113.4 119.4)"/><ellipse cx="105.3" cy="166.1" rx="1.3" ry="0.5" transform="rotate(-27 105.3 166.1)"/><ellipse cx="174.1" cy="157.4" rx="2.0" ry="0.7" transform="rotate(-57 174.1 157.4)"/><ellipse cx="102.4" cy="140.8" rx="2.1" ry="0.7" transform="rotate(54 102.4 140.8)"/><ellipse cx="123.0" cy="142.7" rx="2.0" ry="0.7" transform="rotate(-38 123.0 142.7)"/><ellipse cx="162.2" cy="168.4" rx="1.9" ry="0.7" transform="rotate(33 162.2 168.4)"/><ellipse cx="141.6" cy="125.3" rx="1.3" ry="0.5" transform="rotate(-17 141.6 125.3)"/><ellipse cx="160.0" cy="99.1" rx="1.2" ry="0.4" transform="rotate(30 160.0 99.1)"/><ellipse cx="81.3" cy="148.9" rx="1.3" ry="0.5" transform="rotate(58 81.3 148.9)"/><ellipse cx="87.9" cy="143.2" rx="1.8" ry="0.6" transform="rotate(-6 87.9 143.2)"/><ellipse cx="102.4" cy="134.6" rx="1.7" ry="0.6" transform="rotate(21 102.4 134.6)"/><ellipse cx="166.2" cy="121.7" rx="1.6" ry="0.6" transform="rotate(-15 166.2 121.7)"/><ellipse cx="155.4" cy="111.7" rx="1.3" ry="0.4" transform="rotate(-31 155.4 111.7)"/><ellipse cx="138.6" cy="125.1" rx="1.4" ry="0.5" transform="rotate(59 138.6 125.1)"/><ellipse cx="162.8" cy="159.5" rx="2.1" ry="0.7" transform="rotate(-48 162.8 159.5)"/><ellipse cx="127.7" cy="176.9" rx="1.9" ry="0.7" transform="rotate(50 127.7 176.9)"/><ellipse cx="82.0" cy="121.7" rx="1.1" ry="0.4" transform="rotate(-37 82.0 121.7)"/><ellipse cx="175.6" cy="129.9" rx="2.0" ry="0.7" transform="rotate(-6 175.6 129.9)"/><ellipse cx="105.1" cy="172.6" rx="2.0" ry="0.7" transform="rotate(-47 105.1 172.6)"/><ellipse cx="140.5" cy="156.0" rx="1.2" ry="0.4" transform="rotate(-16 140.5 156.0)"/><ellipse cx="104.6" cy="153.8" rx="1.7" ry="0.6" transform="rotate(-36 104.6 153.8)"/><ellipse cx="149.1" cy="110.3" rx="1.3" ry="0.5" transform="rotate(-36 149.1 110.3)"/><ellipse cx="161.4" cy="148.4" rx="1.1" ry="0.4" transform="rotate(-48 161.4 148.4)"/><ellipse cx="119.3" cy="148.6" rx="1.7" ry="0.6" transform="rotate(-49 119.3 148.6)"/><ellipse cx="95.0" cy="163.9" rx="1.4" ry="0.5" transform="rotate(-26 95.0 163.9)"/><ellipse cx="110.6" cy="150.4" rx="1.4" ry="0.5" transform="rotate(-10 110.6 150.4)"/><ellipse cx="154.3" cy="112.2" rx="1.0" ry="0.4" transform="rotate(48 154.3 112.2)"/><ellipse cx="122.3" cy="177.0" rx="1.4" ry="0.5" transform="rotate(46 122.3 177.0)"/><ellipse cx="87.1" cy="156.2" rx="1.4" ry="0.5" transform="rotate(1 87.1 156.2)"/><ellipse cx="93.1" cy="120.6" rx="1.6" ry="0.6" transform="rotate(51 93.1 120.6)"/><ellipse cx="89.2" cy="142.4" rx="1.9" ry="0.7" transform="rotate(56 89.2 142.4)"/><ellipse cx="175.2" cy="131.6" rx="2.0" ry="0.7" transform="rotate(14 175.2 131.6)"/><ellipse cx="164.5" cy="107.6" rx="1.9" ry="0.7" transform="rotate(-33 164.5 107.6)"/><ellipse cx="120.3" cy="179.8" rx="1.9" ry="0.7" transform="rotate(-38 120.3 179.8)"/><ellipse cx="100.7" cy="132.8" rx="1.6" ry="0.6" transform="rotate(-14 100.7 132.8)"/><ellipse cx="90.7" cy="116.8" rx="1.8" ry="0.6" transform="rotate(48 90.7 116.8)"/><ellipse cx="82.1" cy="149.9" rx="1.8" ry="0.7" transform="rotate(-55 82.1 149.9)"/><ellipse cx="165.9" cy="103.2" rx="1.7" ry="0.6" transform="rotate(6 165.9 103.2)"/><ellipse cx="143.7" cy="123.0" rx="1.5" ry="0.5" transform="rotate(10 143.7 123.0)"/><ellipse cx="122.5" cy="160.1" rx="1.5" ry="0.5" transform="rotate(-7 122.5 160.1)"/><ellipse cx="158.1" cy="172.8" rx="1.5" ry="0.5" transform="rotate(-38 158.1 172.8)"/><ellipse cx="91.3" cy="136.1" rx="1.1" ry="0.4" transform="rotate(-7 91.3 136.1)"/><ellipse cx="154.9" cy="172.5" rx="1.6" ry="0.6" transform="rotate(-53 154.9 172.5)"/><ellipse cx="130.8" cy="130.5" rx="2.0" ry="0.7" transform="rotate(-44 130.8 130.5)"/><ellipse cx="129.5" cy="191.4" rx="2.0" ry="0.7" transform="rotate(-40 129.5 191.4)"/><ellipse cx="84.7" cy="127.7" rx="1.8" ry="0.7" transform="rotate(-41 84.7 127.7)"/><ellipse cx="172.0" cy="119.7" rx="1.9" ry="0.7" transform="rotate(-43 172.0 119.7)"/><ellipse cx="130.6" cy="187.5" rx="1.2" ry="0.4" transform="rotate(-28 130.6 187.5)"/><ellipse cx="131.0" cy="124.3" rx="1.0" ry="0.4" transform="rotate(-38 131.0 124.3)"/></g>
<g fill="#f3fbf6"><ellipse cx="128.4" cy="193.8" rx="1.5" ry="0.6" transform="rotate(34 128.4 193.8)"/><ellipse cx="126.0" cy="177.3" rx="2.2" ry="0.8" transform="rotate(7 126.0 177.3)"/><ellipse cx="122.7" cy="193.4" rx="1.4" ry="0.5" transform="rotate(59 122.7 193.4)"/><ellipse cx="125.6" cy="178.3" rx="2.1" ry="0.8" transform="rotate(-28 125.6 178.3)"/><ellipse cx="114.8" cy="171.6" rx="2.1" ry="0.8" transform="rotate(-54 114.8 171.6)"/><ellipse cx="136.5" cy="174.0" rx="2.0" ry="0.8" transform="rotate(58 136.5 174.0)"/><ellipse cx="123.1" cy="186.6" rx="1.6" ry="0.6" transform="rotate(-60 123.1 186.6)"/><ellipse cx="124.8" cy="179.5" rx="1.8" ry="0.7" transform="rotate(47 124.8 179.5)"/><ellipse cx="97.0" cy="173.2" rx="2.0" ry="0.8" transform="rotate(-57 97.0 173.2)"/><ellipse cx="123.2" cy="172.5" rx="1.9" ry="0.7" transform="rotate(-3 123.2 172.5)"/><ellipse cx="103.4" cy="170.8" rx="1.4" ry="0.5" transform="rotate(17 103.4 170.8)"/><ellipse cx="139.4" cy="190.3" rx="1.7" ry="0.7" transform="rotate(-28 139.4 190.3)"/><ellipse cx="121.7" cy="177.0" rx="2.0" ry="0.8" transform="rotate(-7 121.7 177.0)"/><ellipse cx="112.7" cy="173.5" rx="1.4" ry="0.5" transform="rotate(33 112.7 173.5)"/><ellipse cx="118.5" cy="185.9" rx="2.1" ry="0.8" transform="rotate(-39 118.5 185.9)"/><ellipse cx="107.2" cy="175.4" rx="1.4" ry="0.5" transform="rotate(47 107.2 175.4)"/><ellipse cx="134.4" cy="188.2" rx="1.3" ry="0.5" transform="rotate(41 134.4 188.2)"/><ellipse cx="132.2" cy="180.5" rx="2.1" ry="0.8" transform="rotate(-6 132.2 180.5)"/><ellipse cx="102.4" cy="169.4" rx="1.5" ry="0.6" transform="rotate(-55 102.4 169.4)"/><ellipse cx="129.3" cy="192.2" rx="2.0" ry="0.8" transform="rotate(-28 129.3 192.2)"/><ellipse cx="121.2" cy="179.6" rx="2.1" ry="0.8" transform="rotate(3 121.2 179.6)"/><ellipse cx="104.4" cy="173.5" rx="2.1" ry="0.8" transform="rotate(53 104.4 173.5)"/><ellipse cx="132.3" cy="176.3" rx="2.2" ry="0.9" transform="rotate(-21 132.3 176.3)"/><ellipse cx="125.6" cy="187.5" rx="2.0" ry="0.8" transform="rotate(57 125.6 187.5)"/><ellipse cx="129.5" cy="192.6" rx="1.8" ry="0.7" transform="rotate(27 129.5 192.6)"/><ellipse cx="122.2" cy="175.7" rx="1.5" ry="0.6" transform="rotate(15 122.2 175.7)"/><ellipse cx="97.8" cy="167.0" rx="1.4" ry="0.5" transform="rotate(51 97.8 167.0)"/><ellipse cx="109.2" cy="170.6" rx="1.3" ry="0.5" transform="rotate(-55 109.2 170.6)"/><ellipse cx="129.2" cy="185.7" rx="2.0" ry="0.8" transform="rotate(28 129.2 185.7)"/><ellipse cx="136.5" cy="193.6" rx="1.4" ry="0.5" transform="rotate(44 136.5 193.6)"/><ellipse cx="95.6" cy="172.5" rx="1.4" ry="0.5" transform="rotate(-56 95.6 172.5)"/><ellipse cx="138.1" cy="191.2" rx="2.0" ry="0.8" transform="rotate(39 138.1 191.2)"/><ellipse cx="125.7" cy="175.0" rx="1.4" ry="0.5" transform="rotate(-48 125.7 175.0)"/><ellipse cx="132.9" cy="172.5" rx="1.6" ry="0.6" transform="rotate(-9 132.9 172.5)"/><ellipse cx="110.6" cy="176.1" rx="2.3" ry="0.9" transform="rotate(0 110.6 176.1)"/><ellipse cx="138.3" cy="185.2" rx="1.3" ry="0.5" transform="rotate(-10 138.3 185.2)"/><ellipse cx="114.5" cy="190.0" rx="1.7" ry="0.6" transform="rotate(25 114.5 190.0)"/><ellipse cx="120.3" cy="172.9" rx="2.2" ry="0.8" transform="rotate(-49 120.3 172.9)"/><ellipse cx="117.7" cy="190.7" rx="1.5" ry="0.6" transform="rotate(-1 117.7 190.7)"/><ellipse cx="105.7" cy="172.8" rx="2.0" ry="0.8" transform="rotate(-0 105.7 172.8)"/><ellipse cx="129.4" cy="190.4" rx="2.0" ry="0.8" transform="rotate(-17 129.4 190.4)"/><ellipse cx="112.5" cy="178.3" rx="2.2" ry="0.9" transform="rotate(-50 112.5 178.3)"/><ellipse cx="101.3" cy="174.3" rx="2.2" ry="0.9" transform="rotate(0 101.3 174.3)"/><ellipse cx="102.9" cy="180.4" rx="1.9" ry="0.7" transform="rotate(31 102.9 180.4)"/><ellipse cx="132.6" cy="186.1" rx="1.7" ry="0.6" transform="rotate(-21 132.6 186.1)"/><ellipse cx="127.4" cy="189.0" rx="1.5" ry="0.6" transform="rotate(-7 127.4 189.0)"/><ellipse cx="133.8" cy="184.0" rx="1.4" ry="0.6" transform="rotate(-5 133.8 184.0)"/><ellipse cx="140.2" cy="173.5" rx="1.5" ry="0.6" transform="rotate(-24 140.2 173.5)"/><ellipse cx="129.8" cy="192.2" rx="1.5" ry="0.6" transform="rotate(-41 129.8 192.2)"/><ellipse cx="103.7" cy="176.2" rx="1.8" ry="0.7" transform="rotate(-41 103.7 176.2)"/><ellipse cx="108.3" cy="172.0" rx="2.3" ry="0.9" transform="rotate(27 108.3 172.0)"/><ellipse cx="131.5" cy="179.6" rx="1.5" ry="0.6" transform="rotate(17 131.5 179.6)"/><ellipse cx="95.6" cy="172.5" rx="1.7" ry="0.7" transform="rotate(-56 95.6 172.5)"/><ellipse cx="129.2" cy="181.6" rx="2.0" ry="0.8" transform="rotate(-4 129.2 181.6)"/><ellipse cx="112.7" cy="189.0" rx="2.2" ry="0.9" transform="rotate(-8 112.7 189.0)"/><ellipse cx="122.4" cy="189.3" rx="1.7" ry="0.7" transform="rotate(-33 122.4 189.3)"/><ellipse cx="130.9" cy="193.3" rx="2.1" ry="0.8" transform="rotate(24 130.9 193.3)"/><ellipse cx="138.3" cy="187.1" rx="2.0" ry="0.8" transform="rotate(-6 138.3 187.1)"/><ellipse cx="107.4" cy="185.5" rx="1.4" ry="0.5" transform="rotate(-10 107.4 185.5)"/><ellipse cx="134.3" cy="188.2" rx="2.0" ry="0.8" transform="rotate(-30 134.3 188.2)"/></g>
<path d="M83.1,134.3 C83.4,136.1 83.8,141.4 85.2,145.0 C86.6,148.5 90.5,153.8 91.6,155.6" fill="none" stroke="#f3fbf6" stroke-width="1.2"/>
<path d="M89.5,128.0 C90.2,129.4 91.9,134.3 93.7,136.5 C95.5,138.6 99.0,140.0 100.1,140.7" fill="none" stroke="#f3fbf6" stroke-width="1.2"/>
<path d="M98.0,167.3 C99.4,168.1 103.6,171.5 106.5,172.6 C109.3,173.6 113.5,173.4 115.0,173.6" fill="none" stroke="#f3fbf6" stroke-width="1.2"/>
<path d="M155.3,119.5 C156.2,121.2 160.1,126.5 160.6,130.1 C161.1,133.6 158.8,138.9 158.5,140.7" fill="none" stroke="#f3fbf6" stroke-width="1.2"/>
<path d="M170.2,119.5 C171.1,121.6 175.0,128.0 175.5,132.2 C176.0,136.5 173.7,142.8 173.4,145.0" fill="none" stroke="#f3fbf6" stroke-width="1.2"/>
<path d="M121.3,149.2 C122.0,149.9 123.8,152.9 125.6,153.4 C127.3,154.0 130.9,152.6 131.9,152.4" fill="none" stroke="#f3fbf6" stroke-width="1.2"/>
<g fill="#008a57"><ellipse cx="81.0" cy="159.7" rx="1.3" ry="0.6" transform="rotate(-11 81.0 159.7)"/><ellipse cx="91.6" cy="180.5" rx="1.2" ry="0.6" transform="rotate(17 91.6 180.5)"/><ellipse cx="67.5" cy="155.3" rx="0.8" ry="0.4" transform="rotate(-10 67.5 155.3)"/><ellipse cx="74.5" cy="144.7" rx="1.0" ry="0.5" transform="rotate(29 74.5 144.7)"/><ellipse cx="85.1" cy="168.2" rx="1.0" ry="0.5" transform="rotate(56 85.1 168.2)"/><ellipse cx="68.1" cy="143.1" rx="1.0" ry="0.5" transform="rotate(-2 68.1 143.1)"/><ellipse cx="81.4" cy="174.1" rx="1.3" ry="0.7" transform="rotate(-17 81.4 174.1)"/><ellipse cx="51.9" cy="135.0" rx="1.0" ry="0.5" transform="rotate(33 51.9 135.0)"/><ellipse cx="97.7" cy="185.5" rx="1.3" ry="0.7" transform="rotate(47 97.7 185.5)"/><ellipse cx="113.9" cy="190.1" rx="1.0" ry="0.5" transform="rotate(23 113.9 190.1)"/><ellipse cx="90.7" cy="182.4" rx="1.2" ry="0.6" transform="rotate(46 90.7 182.4)"/><ellipse cx="63.9" cy="134.7" rx="1.2" ry="0.6" transform="rotate(-53 63.9 134.7)"/><ellipse cx="85.0" cy="168.2" rx="1.3" ry="0.7" transform="rotate(41 85.0 168.2)"/><ellipse cx="76.6" cy="156.8" rx="1.6" ry="0.8" transform="rotate(-51 76.6 156.8)"/><ellipse cx="104.4" cy="197.4" rx="1.1" ry="0.5" transform="rotate(58 104.4 197.4)"/><ellipse cx="75.8" cy="161.3" rx="1.2" ry="0.6" transform="rotate(32 75.8 161.3)"/><ellipse cx="80.9" cy="167.5" rx="1.5" ry="0.7" transform="rotate(-25 80.9 167.5)"/><ellipse cx="101.8" cy="186.4" rx="1.1" ry="0.5" transform="rotate(-22 101.8 186.4)"/><ellipse cx="100.0" cy="185.8" rx="0.8" ry="0.4" transform="rotate(27 100.0 185.8)"/><ellipse cx="102.1" cy="186.1" rx="1.5" ry="0.8" transform="rotate(13 102.1 186.1)"/><ellipse cx="112.7" cy="196.0" rx="1.3" ry="0.7" transform="rotate(-16 112.7 196.0)"/><ellipse cx="70.0" cy="157.1" rx="1.1" ry="0.5" transform="rotate(-8 70.0 157.1)"/><ellipse cx="107.1" cy="191.4" rx="1.4" ry="0.7" transform="rotate(-50 107.1 191.4)"/><ellipse cx="75.9" cy="169.2" rx="1.2" ry="0.6" transform="rotate(21 75.9 169.2)"/><ellipse cx="106.2" cy="189.2" rx="1.1" ry="0.5" transform="rotate(13 106.2 189.2)"/><ellipse cx="80.9" cy="170.1" rx="1.5" ry="0.7" transform="rotate(46 80.9 170.1)"/><ellipse cx="116.0" cy="192.3" rx="1.3" ry="0.6" transform="rotate(-27 116.0 192.3)"/><ellipse cx="104.5" cy="196.0" rx="1.1" ry="0.5" transform="rotate(-50 104.5 196.0)"/><ellipse cx="92.7" cy="186.8" rx="1.0" ry="0.5" transform="rotate(30 92.7 186.8)"/><ellipse cx="85.8" cy="170.3" rx="1.0" ry="0.5" transform="rotate(-37 85.8 170.3)"/><ellipse cx="75.5" cy="168.4" rx="1.1" ry="0.6" transform="rotate(2 75.5 168.4)"/><ellipse cx="116.7" cy="199.9" rx="1.0" ry="0.5" transform="rotate(-55 116.7 199.9)"/><ellipse cx="60.9" cy="138.0" rx="0.9" ry="0.4" transform="rotate(-54 60.9 138.0)"/><ellipse cx="129.9" cy="202.2" rx="1.0" ry="0.5" transform="rotate(-55 129.9 202.2)"/><ellipse cx="65.8" cy="151.6" rx="1.5" ry="0.8" transform="rotate(49 65.8 151.6)"/><ellipse cx="110.9" cy="198.0" rx="1.3" ry="0.7" transform="rotate(-24 110.9 198.0)"/><ellipse cx="96.1" cy="183.7" rx="0.9" ry="0.4" transform="rotate(-21 96.1 183.7)"/><ellipse cx="64.3" cy="135.0" rx="1.3" ry="0.7" transform="rotate(-58 64.3 135.0)"/><ellipse cx="121.0" cy="194.0" rx="0.9" ry="0.5" transform="rotate(-6 121.0 194.0)"/><ellipse cx="66.8" cy="156.3" rx="0.9" ry="0.5" transform="rotate(-27 66.8 156.3)"/></g>
<path d="M291.6,109.2 C292.2,105.5 293.3,100.8 295.3,96.8 C297.4,92.9 300.1,89.4 304.0,85.7 C307.9,82.0 313.5,77.1 318.9,74.5 C324.2,71.9 330.4,70.8 336.2,70.2 C342.0,69.6 348.2,69.5 353.6,70.8 C358.9,72.1 364.1,74.5 368.4,78.2 C372.8,82.0 376.8,87.5 379.6,93.1 C382.4,98.7 384.9,107.5 385.2,111.7 C385.5,115.9 383.0,118.9 381.4,118.5 C379.9,118.1 378.0,112.8 375.9,109.2 C373.7,105.6 371.3,100.1 368.4,96.8 C365.5,93.5 362.2,91.3 358.5,89.4 C354.8,87.5 349.0,85.7 346.1,85.7 C343.2,85.7 341.0,87.1 341.2,89.4 C341.4,91.7 345.7,95.6 347.4,99.3 C349.0,103.0 350.7,107.8 351.1,111.7 C351.5,115.6 351.1,119.5 349.9,122.9 C348.6,126.2 345.9,129.5 343.7,131.5 C341.4,133.6 339.5,134.5 336.2,135.2 C332.9,136.0 328.4,136.5 323.8,135.9 C319.3,135.2 313.3,133.3 309.0,131.5 C304.6,129.8 300.7,127.4 297.8,125.3 C294.9,123.3 292.6,121.8 291.6,119.1 C290.6,116.4 291.0,112.9 291.6,109.2Z" fill="#f3fbf6"/>
<path d="M342.4,86.9 C342.8,84.8 346.8,84.8 349.9,85.7 C352.9,86.5 357.7,89.2 361.0,91.9 C364.3,94.6 367.2,98.1 369.7,101.8 C372.2,105.5 375.3,111.1 375.9,114.2 C376.5,117.3 375.5,118.7 373.4,120.4 C371.3,122.0 367.0,122.9 363.5,124.1 C360.0,125.3 354.5,128.6 352.3,127.8 C350.2,127.0 350.7,122.2 350.5,119.1 C350.3,116.0 351.6,112.7 351.1,109.2 C350.6,105.7 348.8,101.8 347.4,98.1 C345.9,94.3 342.0,89.0 342.4,86.9Z" fill="#008a57"/>
<g fill="#008a57"><ellipse cx="333.9" cy="106.9" rx="1.8" ry="0.8" transform="rotate(-4 333.9 106.9)"/><ellipse cx="339.1" cy="108.8" rx="1.1" ry="0.5" transform="rotate(1 339.1 108.8)"/><ellipse cx="300.1" cy="123.4" rx="1.6" ry="0.7" transform="rotate(-55 300.1 123.4)"/><ellipse cx="341.0" cy="74.1" rx="1.1" ry="0.5" transform="rotate(-31 341.0 74.1)"/><ellipse cx="294.4" cy="100.7" rx="1.4" ry="0.6" transform="rotate(41 294.4 100.7)"/><ellipse cx="340.2" cy="112.2" rx="1.4" ry="0.6" transform="rotate(19 340.2 112.2)"/><ellipse cx="334.4" cy="88.5" rx="1.9" ry="0.8" transform="rotate(59 334.4 88.5)"/><ellipse cx="321.1" cy="85.3" rx="1.2" ry="0.5" transform="rotate(-52 321.1 85.3)"/><ellipse cx="370.8" cy="95.6" rx="1.9" ry="0.8" transform="rotate(42 370.8 95.6)"/><ellipse cx="376.8" cy="101.1" rx="1.9" ry="0.8" transform="rotate(-12 376.8 101.1)"/><ellipse cx="298.4" cy="111.5" rx="1.7" ry="0.7" transform="rotate(-28 298.4 111.5)"/><ellipse cx="299.8" cy="92.0" rx="1.9" ry="0.8" transform="rotate(31 299.8 92.0)"/><ellipse cx="366.2" cy="81.9" rx="1.5" ry="0.6" transform="rotate(-6 366.2 81.9)"/><ellipse cx="309.5" cy="118.3" rx="1.1" ry="0.5" transform="rotate(17 309.5 118.3)"/><ellipse cx="302.5" cy="97.8" rx="1.2" ry="0.5" transform="rotate(-28 302.5 97.8)"/><ellipse cx="320.1" cy="128.3" rx="1.2" ry="0.5" transform="rotate(-13 320.1 128.3)"/><ellipse cx="311.6" cy="87.1" rx="1.7" ry="0.7" transform="rotate(-21 311.6 87.1)"/><ellipse cx="319.3" cy="75.0" rx="1.0" ry="0.4" transform="rotate(10 319.3 75.0)"/><ellipse cx="314.3" cy="109.7" rx="1.3" ry="0.5" transform="rotate(-6 314.3 109.7)"/><ellipse cx="381.3" cy="102.0" rx="1.5" ry="0.6" transform="rotate(44 381.3 102.0)"/><ellipse cx="315.0" cy="82.7" rx="1.7" ry="0.7" transform="rotate(53 315.0 82.7)"/><ellipse cx="331.0" cy="77.0" rx="1.0" ry="0.4" transform="rotate(56 331.0 77.0)"/><ellipse cx="313.9" cy="116.5" rx="1.2" ry="0.5" transform="rotate(39 313.9 116.5)"/><ellipse cx="308.0" cy="117.5" rx="1.0" ry="0.4" transform="rotate(-33 308.0 117.5)"/><ellipse cx="343.9" cy="126.2" rx="1.5" ry="0.6" transform="rotate(-26 343.9 126.2)"/><ellipse cx="333.3" cy="74.2" rx="1.1" ry="0.5" transform="rotate(-16 333.3 74.2)"/><ellipse cx="345.1" cy="78.8" rx="1.3" ry="0.5" transform="rotate(47 345.1 78.8)"/><ellipse cx="383.3" cy="113.3" rx="1.6" ry="0.7" transform="rotate(10 383.3 113.3)"/><ellipse cx="293.6" cy="112.0" rx="1.4" ry="0.6" transform="rotate(28 293.6 112.0)"/><ellipse cx="298.7" cy="106.1" rx="1.7" ry="0.7" transform="rotate(48 298.7 106.1)"/><ellipse cx="324.5" cy="115.2" rx="1.8" ry="0.8" transform="rotate(45 324.5 115.2)"/><ellipse cx="330.6" cy="122.1" rx="1.8" ry="0.7" transform="rotate(9 330.6 122.1)"/><ellipse cx="346.1" cy="110.2" rx="1.0" ry="0.4" transform="rotate(17 346.1 110.2)"/><ellipse cx="332.8" cy="125.2" rx="1.0" ry="0.4" transform="rotate(30 332.8 125.2)"/><ellipse cx="294.4" cy="109.7" rx="1.4" ry="0.6" transform="rotate(-32 294.4 109.7)"/><ellipse cx="319.8" cy="114.7" rx="1.2" ry="0.5" transform="rotate(-40 319.8 114.7)"/><ellipse cx="333.0" cy="128.8" rx="1.3" ry="0.5" transform="rotate(20 333.0 128.8)"/><ellipse cx="310.2" cy="98.5" rx="1.7" ry="0.7" transform="rotate(50 310.2 98.5)"/><ellipse cx="374.0" cy="95.4" rx="1.5" ry="0.6" transform="rotate(-22 374.0 95.4)"/><ellipse cx="304.4" cy="102.8" rx="1.8" ry="0.7" transform="rotate(42 304.4 102.8)"/><ellipse cx="317.5" cy="81.3" rx="1.4" ry="0.6" transform="rotate(-27 317.5 81.3)"/><ellipse cx="311.6" cy="97.4" rx="1.6" ry="0.7" transform="rotate(-1 311.6 97.4)"/><ellipse cx="321.1" cy="125.3" rx="1.9" ry="0.8" transform="rotate(-6 321.1 125.3)"/><ellipse cx="320.5" cy="122.2" rx="1.0" ry="0.4" transform="rotate(-44 320.5 122.2)"/><ellipse cx="334.2" cy="71.8" rx="1.8" ry="0.7" transform="rotate(-32 334.2 71.8)"/><ellipse cx="350.5" cy="113.2" rx="1.7" ry="0.7" transform="rotate(55 350.5 113.2)"/><ellipse cx="355.6" cy="83.3" rx="1.4" ry="0.6" transform="rotate(-39 355.6 83.3)"/><ellipse cx="358.4" cy="81.9" rx="1.2" ry="0.5" transform="rotate(-19 358.4 81.9)"/><ellipse cx="349.1" cy="119.9" rx="1.3" ry="0.6" transform="rotate(35 349.1 119.9)"/><ellipse cx="303.8" cy="100.0" rx="1.6" ry="0.7" transform="rotate(49 303.8 100.0)"/><ellipse cx="326.9" cy="107.5" rx="1.8" ry="0.8" transform="rotate(36 326.9 107.5)"/><ellipse cx="380.0" cy="100.6" rx="1.6" ry="0.7" transform="rotate(-35 380.0 100.6)"/><ellipse cx="311.6" cy="129.3" rx="1.9" ry="0.8" transform="rotate(57 311.6 129.3)"/><ellipse cx="341.8" cy="122.1" rx="1.3" ry="0.5" transform="rotate(49 341.8 122.1)"/><ellipse cx="371.7" cy="93.1" rx="1.0" ry="0.4" transform="rotate(-7 371.7 93.1)"/><ellipse cx="343.1" cy="120.6" rx="1.4" ry="0.6" transform="rotate(-57 343.1 120.6)"/><ellipse cx="366.4" cy="81.5" rx="1.3" ry="0.5" transform="rotate(35 366.4 81.5)"/><ellipse cx="339.9" cy="117.7" rx="1.8" ry="0.7" transform="rotate(23 339.9 117.7)"/><ellipse cx="380.1" cy="102.5" rx="1.9" ry="0.8" transform="rotate(-50 380.1 102.5)"/><ellipse cx="312.3" cy="104.8" rx="1.2" ry="0.5" transform="rotate(27 312.3 104.8)"/><ellipse cx="320.8" cy="95.2" rx="1.8" ry="0.7" transform="rotate(48 320.8 95.2)"/><ellipse cx="311.1" cy="126.1" rx="1.9" ry="0.8" transform="rotate(3 311.1 126.1)"/><ellipse cx="345.2" cy="83.4" rx="1.5" ry="0.6" transform="rotate(0 345.2 83.4)"/><ellipse cx="348.2" cy="72.0" rx="1.9" ry="0.8" transform="rotate(2 348.2 72.0)"/><ellipse cx="329.1" cy="122.8" rx="1.5" ry="0.6" transform="rotate(-1 329.1 122.8)"/><ellipse cx="356.3" cy="74.5" rx="1.5" ry="0.6" transform="rotate(-10 356.3 74.5)"/><ellipse cx="316.8" cy="101.3" rx="1.1" ry="0.5" transform="rotate(-8 316.8 101.3)"/><ellipse cx="336.2" cy="91.0" rx="1.1" ry="0.5" transform="rotate(14 336.2 91.0)"/><ellipse cx="309.8" cy="85.1" rx="1.6" ry="0.7" transform="rotate(-21 309.8 85.1)"/><ellipse cx="324.9" cy="110.9" rx="1.1" ry="0.4" transform="rotate(28 324.9 110.9)"/></g>
<path d="M351.1,129.0 L374.6,120.4 L382.7,121.0 L375.9,131.5 L366.0,135.2 L354.8,132.8Z" fill="#f3fbf6" opacity="0.85"/>
<path d="M259.4,79.5 C261.5,76.0 263.9,74.9 266.8,75.8 C269.7,76.6 273.8,80.5 276.7,84.4 C279.6,88.4 282.1,94.3 284.2,99.3 C286.2,104.3 287.1,109.6 289.1,114.2 C291.2,118.7 292.9,123.3 296.6,126.6 C300.3,129.9 306.1,132.6 311.4,134.0 C316.8,135.4 323.0,135.7 328.8,135.2 C334.6,134.8 340.4,132.6 346.1,131.5 C351.9,130.5 359.6,127.8 363.5,129.0 C367.4,130.3 369.3,134.8 369.7,139.0 C370.1,143.1 368.2,149.3 366.0,153.8 C363.7,158.4 360.2,162.9 356.0,166.2 C351.9,169.5 346.1,171.6 341.2,173.7 C336.2,175.7 331.7,177.4 326.3,178.6 C320.9,179.9 314.3,181.1 309.0,181.1 C303.6,181.1 299.0,180.1 294.1,178.6 C289.1,177.2 284.2,175.1 279.2,172.4 C274.3,169.7 268.5,166.4 264.3,162.5 C260.2,158.6 256.7,154.0 254.4,148.9 C252.2,143.7 251.1,137.3 250.7,131.5 C250.3,125.7 251.3,120.0 252.0,114.2 C252.6,108.4 253.2,102.6 254.4,96.8 C255.7,91.0 257.3,83.0 259.4,79.5Z" fill="#008a57" stroke="#f3fbf6" stroke-width="1.3"/>
<g fill="#f3fbf6"><ellipse cx="279.0" cy="146.9" rx="1.6" ry="0.6" transform="rotate(-36 279.0 146.9)"/><ellipse cx="319.4" cy="143.6" rx="1.8" ry="0.7" transform="rotate(-10 319.4 143.6)"/><ellipse cx="287.1" cy="152.3" rx="2.1" ry="0.8" transform="rotate(4 287.1 152.3)"/><ellipse cx="351.2" cy="151.4" rx="2.4" ry="0.9" transform="rotate(-32 351.2 151.4)"/><ellipse cx="340.3" cy="160.2" rx="2.5" ry="1.0" transform="rotate(-22 340.3 160.2)"/><ellipse cx="290.6" cy="156.5" rx="1.6" ry="0.6" transform="rotate(-48 290.6 156.5)"/><ellipse cx="349.3" cy="142.9" rx="2.3" ry="0.9" transform="rotate(-45 349.3 142.9)"/><ellipse cx="306.8" cy="154.7" rx="1.3" ry="0.5" transform="rotate(-36 306.8 154.7)"/><ellipse cx="334.5" cy="164.7" rx="2.6" ry="1.0" transform="rotate(-46 334.5 164.7)"/><ellipse cx="317.0" cy="157.9" rx="2.0" ry="0.8" transform="rotate(22 317.0 157.9)"/><ellipse cx="285.6" cy="127.2" rx="1.4" ry="0.6" transform="rotate(-56 285.6 127.2)"/><ellipse cx="321.5" cy="147.1" rx="2.0" ry="0.8" transform="rotate(-42 321.5 147.1)"/><ellipse cx="285.1" cy="133.2" rx="2.4" ry="0.9" transform="rotate(59 285.1 133.2)"/><ellipse cx="312.6" cy="158.2" rx="1.7" ry="0.7" transform="rotate(-4 312.6 158.2)"/><ellipse cx="317.9" cy="143.3" rx="2.1" ry="0.8" transform="rotate(-58 317.9 143.3)"/><ellipse cx="336.3" cy="161.8" rx="1.5" ry="0.6" transform="rotate(-6 336.3 161.8)"/><ellipse cx="340.1" cy="142.2" rx="1.6" ry="0.6" transform="rotate(-40 340.1 142.2)"/><ellipse cx="355.4" cy="159.9" rx="2.2" ry="0.9" transform="rotate(43 355.4 159.9)"/><ellipse cx="329.2" cy="142.1" rx="2.1" ry="0.8" transform="rotate(1 329.2 142.1)"/><ellipse cx="340.6" cy="158.8" rx="2.4" ry="0.9" transform="rotate(-11 340.6 158.8)"/><ellipse cx="335.7" cy="158.3" rx="2.3" ry="0.9" transform="rotate(-11 335.7 158.3)"/><ellipse cx="300.7" cy="145.0" rx="1.3" ry="0.5" transform="rotate(-17 300.7 145.0)"/><ellipse cx="330.1" cy="151.9" rx="1.6" ry="0.6" transform="rotate(53 330.1 151.9)"/><ellipse cx="332.9" cy="139.2" rx="2.2" ry="0.8" transform="rotate(8 332.9 139.2)"/><ellipse cx="319.7" cy="141.5" rx="2.6" ry="1.0" transform="rotate(17 319.7 141.5)"/><ellipse cx="336.3" cy="158.1" rx="2.6" ry="1.0" transform="rotate(-57 336.3 158.1)"/><ellipse cx="327.8" cy="157.0" rx="1.6" ry="0.6" transform="rotate(-12 327.8 157.0)"/><ellipse cx="271.8" cy="132.8" rx="1.8" ry="0.7" transform="rotate(-48 271.8 132.8)"/><ellipse cx="321.4" cy="146.7" rx="2.6" ry="1.0" transform="rotate(8 321.4 146.7)"/><ellipse cx="326.1" cy="158.0" rx="1.4" ry="0.5" transform="rotate(52 326.1 158.0)"/><ellipse cx="282.7" cy="145.1" rx="1.5" ry="0.6" transform="rotate(-1 282.7 145.1)"/><ellipse cx="360.5" cy="142.9" rx="2.0" ry="0.8" transform="rotate(12 360.5 142.9)"/><ellipse cx="303.1" cy="136.8" rx="2.2" ry="0.8" transform="rotate(7 303.1 136.8)"/><ellipse cx="294.9" cy="156.1" rx="1.7" ry="0.6" transform="rotate(-58 294.9 156.1)"/><ellipse cx="305.5" cy="164.1" rx="2.3" ry="0.9" transform="rotate(-54 305.5 164.1)"/><ellipse cx="309.4" cy="145.4" rx="2.6" ry="1.0" transform="rotate(-31 309.4 145.4)"/><ellipse cx="318.7" cy="165.9" rx="2.2" ry="0.9" transform="rotate(-4 318.7 165.9)"/><ellipse cx="328.7" cy="144.4" rx="1.6" ry="0.6" transform="rotate(-54 328.7 144.4)"/><ellipse cx="310.7" cy="153.9" rx="1.9" ry="0.7" transform="rotate(-29 310.7 153.9)"/><ellipse cx="324.5" cy="142.8" rx="2.3" ry="0.9" transform="rotate(4 324.5 142.8)"/><ellipse cx="344.6" cy="152.0" rx="1.8" ry="0.7" transform="rotate(-27 344.6 152.0)"/><ellipse cx="334.7" cy="149.3" rx="2.1" ry="0.8" transform="rotate(16 334.7 149.3)"/><ellipse cx="270.7" cy="126.8" rx="1.7" ry="0.6" transform="rotate(-9 270.7 126.8)"/><ellipse cx="321.4" cy="152.2" rx="1.8" ry="0.7" transform="rotate(-3 321.4 152.2)"/><ellipse cx="287.7" cy="139.4" rx="2.3" ry="0.9" transform="rotate(41 287.7 139.4)"/><ellipse cx="274.2" cy="129.4" rx="2.4" ry="0.9" transform="rotate(15 274.2 129.4)"/><ellipse cx="308.9" cy="135.6" rx="2.4" ry="0.9" transform="rotate(-16 308.9 135.6)"/><ellipse cx="331.6" cy="168.2" rx="1.7" ry="0.7" transform="rotate(6 331.6 168.2)"/><ellipse cx="340.8" cy="165.2" rx="1.9" ry="0.7" transform="rotate(-16 340.8 165.2)"/><ellipse cx="274.6" cy="127.8" rx="2.0" ry="0.8" transform="rotate(-2 274.6 127.8)"/><ellipse cx="288.0" cy="153.6" rx="1.4" ry="0.5" transform="rotate(-24 288.0 153.6)"/><ellipse cx="338.7" cy="155.0" rx="1.7" ry="0.6" transform="rotate(-43 338.7 155.0)"/><ellipse cx="302.3" cy="156.5" rx="1.8" ry="0.7" transform="rotate(-46 302.3 156.5)"/><ellipse cx="337.1" cy="149.5" rx="2.5" ry="1.0" transform="rotate(53 337.1 149.5)"/><ellipse cx="357.4" cy="143.6" rx="2.3" ry="0.9" transform="rotate(-23 357.4 143.6)"/><ellipse cx="298.3" cy="141.9" rx="2.5" ry="1.0" transform="rotate(47 298.3 141.9)"/><ellipse cx="291.4" cy="140.2" rx="1.8" ry="0.7" transform="rotate(-16 291.4 140.2)"/><ellipse cx="306.0" cy="141.4" rx="1.6" ry="0.6" transform="rotate(8 306.0 141.4)"/><ellipse cx="345.8" cy="148.2" rx="2.4" ry="0.9" transform="rotate(8 345.8 148.2)"/><ellipse cx="354.2" cy="136.6" rx="1.3" ry="0.5" transform="rotate(2 354.2 136.6)"/><ellipse cx="320.8" cy="149.4" rx="2.6" ry="1.0" transform="rotate(18 320.8 149.4)"/><ellipse cx="321.0" cy="159.2" rx="1.4" ry="0.5" transform="rotate(-50 321.0 159.2)"/><ellipse cx="339.9" cy="164.2" rx="1.4" ry="0.5" transform="rotate(16 339.9 164.2)"/><ellipse cx="318.5" cy="158.2" rx="1.8" ry="0.7" transform="rotate(-19 318.5 158.2)"/><ellipse cx="315.8" cy="148.1" rx="2.2" ry="0.9" transform="rotate(25 315.8 148.1)"/><ellipse cx="357.5" cy="142.4" rx="2.4" ry="0.9" transform="rotate(20 357.5 142.4)"/><ellipse cx="351.4" cy="160.0" rx="2.4" ry="0.9" transform="rotate(47 351.4 160.0)"/><ellipse cx="361.8" cy="152.7" rx="2.0" ry="0.8" transform="rotate(25 361.8 152.7)"/><ellipse cx="346.4" cy="142.9" rx="1.8" ry="0.7" transform="rotate(-42 346.4 142.9)"/><ellipse cx="287.1" cy="143.0" rx="1.7" ry="0.6" transform="rotate(56 287.1 143.0)"/><ellipse cx="272.7" cy="137.8" rx="1.4" ry="0.6" transform="rotate(18 272.7 137.8)"/><ellipse cx="324.7" cy="164.7" rx="1.3" ry="0.5" transform="rotate(-47 324.7 164.7)"/><ellipse cx="285.1" cy="133.8" rx="1.6" ry="0.6" transform="rotate(26 285.1 133.8)"/><ellipse cx="285.2" cy="136.6" rx="1.5" ry="0.6" transform="rotate(31 285.2 136.6)"/><ellipse cx="297.7" cy="148.5" rx="2.4" ry="0.9" transform="rotate(-2 297.7 148.5)"/><ellipse cx="357.5" cy="139.3" rx="2.0" ry="0.8" transform="rotate(55 357.5 139.3)"/><ellipse cx="346.3" cy="141.3" rx="2.0" ry="0.8" transform="rotate(2 346.3 141.3)"/><ellipse cx="303.7" cy="159.6" rx="2.2" ry="0.9" transform="rotate(13 303.7 159.6)"/><ellipse cx="282.4" cy="131.1" rx="1.7" ry="0.7" transform="rotate(-29 282.4 131.1)"/><ellipse cx="353.0" cy="147.1" rx="2.1" ry="0.8" transform="rotate(59 353.0 147.1)"/><ellipse cx="293.2" cy="147.9" rx="1.5" ry="0.6" transform="rotate(32 293.2 147.9)"/><ellipse cx="350.7" cy="160.8" rx="1.4" ry="0.5" transform="rotate(-28 350.7 160.8)"/><ellipse cx="314.4" cy="145.0" rx="2.5" ry="1.0" transform="rotate(10 314.4 145.0)"/><ellipse cx="351.8" cy="137.6" rx="2.3" ry="0.9" transform="rotate(-10 351.8 137.6)"/><ellipse cx="320.7" cy="147.5" rx="1.5" ry="0.6" transform="rotate(40 320.7 147.5)"/><ellipse cx="297.7" cy="138.0" rx="1.4" ry="0.5" transform="rotate(-23 297.7 138.0)"/><ellipse cx="313.1" cy="156.0" rx="1.8" ry="0.7" transform="rotate(22 313.1 156.0)"/><ellipse cx="277.3" cy="141.7" rx="1.9" ry="0.7" transform="rotate(56 277.3 141.7)"/><ellipse cx="349.1" cy="153.3" rx="1.3" ry="0.5" transform="rotate(-15 349.1 153.3)"/><ellipse cx="322.8" cy="144.5" rx="1.3" ry="0.5" transform="rotate(59 322.8 144.5)"/><ellipse cx="304.1" cy="148.2" rx="1.7" ry="0.6" transform="rotate(-20 304.1 148.2)"/><ellipse cx="305.7" cy="153.8" rx="1.6" ry="0.6" transform="rotate(-36 305.7 153.8)"/><ellipse cx="339.3" cy="138.8" rx="2.5" ry="1.0" transform="rotate(8 339.3 138.8)"/><ellipse cx="338.6" cy="138.9" rx="2.4" ry="0.9" transform="rotate(-49 338.6 138.9)"/><ellipse cx="280.8" cy="128.3" rx="2.2" ry="0.8" transform="rotate(25 280.8 128.3)"/><ellipse cx="284.7" cy="142.0" rx="2.4" ry="0.9" transform="rotate(11 284.7 142.0)"/><ellipse cx="275.8" cy="134.2" rx="1.5" ry="0.6" transform="rotate(-45 275.8 134.2)"/><ellipse cx="358.1" cy="143.1" rx="2.0" ry="0.8" transform="rotate(18 358.1 143.1)"/><ellipse cx="342.8" cy="160.7" rx="1.8" ry="0.7" transform="rotate(-20 342.8 160.7)"/><ellipse cx="306.6" cy="155.3" rx="2.6" ry="1.0" transform="rotate(35 306.6 155.3)"/><ellipse cx="332.3" cy="151.2" rx="1.3" ry="0.5" transform="rotate(-20 332.3 151.2)"/><ellipse cx="300.8" cy="153.1" rx="1.4" ry="0.6" transform="rotate(-15 300.8 153.1)"/><ellipse cx="317.3" cy="159.3" rx="2.4" ry="0.9" transform="rotate(13 317.3 159.3)"/><ellipse cx="356.3" cy="148.5" rx="1.8" ry="0.7" transform="rotate(0 356.3 148.5)"/><ellipse cx="364.6" cy="147.1" rx="2.2" ry="0.9" transform="rotate(40 364.6 147.1)"/><ellipse cx="275.1" cy="135.0" rx="2.0" ry="0.8" transform="rotate(24 275.1 135.0)"/><ellipse cx="302.6" cy="144.7" rx="1.5" ry="0.6" transform="rotate(57 302.6 144.7)"/><ellipse cx="320.7" cy="149.1" rx="2.0" ry="0.8" transform="rotate(-28 320.7 149.1)"/><ellipse cx="347.9" cy="150.9" rx="1.5" ry="0.6" transform="rotate(39 347.9 150.9)"/><ellipse cx="290.7" cy="149.7" rx="2.4" ry="0.9" transform="rotate(-38 290.7 149.7)"/><ellipse cx="270.0" cy="132.1" rx="2.6" ry="1.0" transform="rotate(53 270.0 132.1)"/><ellipse cx="333.4" cy="157.0" rx="1.8" ry="0.7" transform="rotate(11 333.4 157.0)"/><ellipse cx="286.6" cy="145.0" rx="1.5" ry="0.6" transform="rotate(-14 286.6 145.0)"/><ellipse cx="323.1" cy="138.9" rx="2.1" ry="0.8" transform="rotate(-55 323.1 138.9)"/><ellipse cx="361.9" cy="150.9" rx="1.9" ry="0.7" transform="rotate(-11 361.9 150.9)"/><ellipse cx="328.7" cy="154.8" rx="2.3" ry="0.9" transform="rotate(30 328.7 154.8)"/><ellipse cx="349.9" cy="162.2" rx="1.8" ry="0.7" transform="rotate(-8 349.9 162.2)"/><ellipse cx="322.9" cy="164.5" rx="2.0" ry="0.8" transform="rotate(3 322.9 164.5)"/><ellipse cx="309.7" cy="164.4" rx="1.7" ry="0.7" transform="rotate(-53 309.7 164.4)"/><ellipse cx="338.8" cy="164.2" rx="2.3" ry="0.9" transform="rotate(12 338.8 164.2)"/><ellipse cx="279.2" cy="144.0" rx="2.0" ry="0.8" transform="rotate(-12 279.2 144.0)"/><ellipse cx="297.2" cy="141.7" rx="1.6" ry="0.6" transform="rotate(-52 297.2 141.7)"/><ellipse cx="332.8" cy="162.7" rx="1.8" ry="0.7" transform="rotate(37 332.8 162.7)"/><ellipse cx="323.0" cy="164.4" rx="1.4" ry="0.5" transform="rotate(35 323.0 164.4)"/><ellipse cx="279.1" cy="148.1" rx="2.5" ry="1.0" transform="rotate(-60 279.1 148.1)"/><ellipse cx="291.0" cy="137.4" rx="1.7" ry="0.7" transform="rotate(-52 291.0 137.4)"/><ellipse cx="306.2" cy="140.0" rx="2.1" ry="0.8" transform="rotate(-54 306.2 140.0)"/><ellipse cx="297.3" cy="146.3" rx="2.5" ry="1.0" transform="rotate(57 297.3 146.3)"/><ellipse cx="349.9" cy="139.9" rx="1.9" ry="0.7" transform="rotate(-39 349.9 139.9)"/><ellipse cx="286.9" cy="152.3" rx="1.5" ry="0.6" transform="rotate(46 286.9 152.3)"/><ellipse cx="271.8" cy="128.8" rx="2.2" ry="0.9" transform="rotate(-22 271.8 128.8)"/><ellipse cx="335.8" cy="165.9" rx="1.9" ry="0.7" transform="rotate(-51 335.8 165.9)"/><ellipse cx="289.0" cy="137.8" rx="2.2" ry="0.9" transform="rotate(-36 289.0 137.8)"/><ellipse cx="284.8" cy="134.6" rx="2.2" ry="0.8" transform="rotate(35 284.8 134.6)"/><ellipse cx="303.8" cy="153.6" rx="2.4" ry="0.9" transform="rotate(11 303.8 153.6)"/><ellipse cx="289.5" cy="137.5" rx="2.5" ry="1.0" transform="rotate(20 289.5 137.5)"/><ellipse cx="294.3" cy="152.6" rx="1.4" ry="0.5" transform="rotate(58 294.3 152.6)"/><ellipse cx="310.5" cy="147.7" rx="2.0" ry="0.8" transform="rotate(-55 310.5 147.7)"/><ellipse cx="275.5" cy="136.8" rx="2.3" ry="0.9" transform="rotate(-30 275.5 136.8)"/><ellipse cx="294.5" cy="148.5" rx="1.5" ry="0.6" transform="rotate(48 294.5 148.5)"/><ellipse cx="312.6" cy="157.6" rx="1.8" ry="0.7" transform="rotate(52 312.6 157.6)"/><ellipse cx="321.9" cy="152.9" rx="1.8" ry="0.7" transform="rotate(19 321.9 152.9)"/><ellipse cx="344.4" cy="147.1" rx="2.0" ry="0.8" transform="rotate(41 344.4 147.1)"/><ellipse cx="334.7" cy="147.3" rx="2.5" ry="1.0" transform="rotate(-39 334.7 147.3)"/><ellipse cx="310.5" cy="158.6" rx="2.3" ry="0.9" transform="rotate(35 310.5 158.6)"/><ellipse cx="290.2" cy="145.9" rx="1.6" ry="0.6" transform="rotate(10 290.2 145.9)"/><ellipse cx="326.0" cy="156.0" rx="2.0" ry="0.8" transform="rotate(45 326.0 156.0)"/><ellipse cx="284.7" cy="130.9" rx="1.3" ry="0.5" transform="rotate(-0 284.7 130.9)"/><ellipse cx="309.9" cy="143.8" rx="1.6" ry="0.6" transform="rotate(36 309.9 143.8)"/><ellipse cx="323.2" cy="148.3" rx="2.3" ry="0.9" transform="rotate(-31 323.2 148.3)"/><ellipse cx="281.3" cy="138.0" rx="1.4" ry="0.5" transform="rotate(-22 281.3 138.0)"/><ellipse cx="328.4" cy="147.5" rx="1.6" ry="0.6" transform="rotate(11 328.4 147.5)"/><ellipse cx="283.8" cy="135.5" rx="1.5" ry="0.6" transform="rotate(23 283.8 135.5)"/><ellipse cx="349.2" cy="159.2" rx="1.4" ry="0.5" transform="rotate(-11 349.2 159.2)"/><ellipse cx="303.0" cy="133.7" rx="2.6" ry="1.0" transform="rotate(-55 303.0 133.7)"/><ellipse cx="315.4" cy="158.0" rx="2.6" ry="1.0" transform="rotate(-43 315.4 158.0)"/><ellipse cx="312.0" cy="157.3" rx="1.4" ry="0.5" transform="rotate(-31 312.0 157.3)"/><ellipse cx="305.8" cy="137.4" rx="1.9" ry="0.7" transform="rotate(-51 305.8 137.4)"/><ellipse cx="342.5" cy="156.8" rx="1.6" ry="0.6" transform="rotate(-30 342.5 156.8)"/><ellipse cx="312.6" cy="165.7" rx="1.8" ry="0.7" transform="rotate(-20 312.6 165.7)"/><ellipse cx="300.9" cy="155.1" rx="2.4" ry="0.9" transform="rotate(11 300.9 155.1)"/><ellipse cx="354.7" cy="144.7" rx="1.8" ry="0.7" transform="rotate(41 354.7 144.7)"/><ellipse cx="304.6" cy="158.9" rx="1.6" ry="0.6" transform="rotate(-18 304.6 158.9)"/><ellipse cx="285.0" cy="148.6" rx="1.5" ry="0.6" transform="rotate(-36 285.0 148.6)"/><ellipse cx="288.1" cy="145.0" rx="1.7" ry="0.7" transform="rotate(-6 288.1 145.0)"/><ellipse cx="335.4" cy="140.3" rx="1.7" ry="0.6" transform="rotate(-58 335.4 140.3)"/><ellipse cx="284.9" cy="135.8" rx="1.8" ry="0.7" transform="rotate(51 284.9 135.8)"/><ellipse cx="359.7" cy="140.1" rx="2.3" ry="0.9" transform="rotate(27 359.7 140.1)"/><ellipse cx="298.8" cy="141.2" rx="1.4" ry="0.5" transform="rotate(46 298.8 141.2)"/><ellipse cx="299.1" cy="158.5" rx="2.0" ry="0.8" transform="rotate(-53 299.1 158.5)"/></g>
<path d="M294.1,158.8 C295.3,158.4 303.6,162.1 309.0,162.5 C314.3,162.9 320.5,162.1 326.3,161.3 C332.1,160.4 342.0,157.1 343.7,157.5 C345.3,158.0 340.4,162.3 336.2,163.7 C332.1,165.2 324.7,166.0 318.9,166.2 C313.1,166.4 305.7,166.2 301.5,165.0 C297.4,163.7 292.9,159.2 294.1,158.8Z" fill="#f3fbf6" opacity="0.9"/>
<path d="M276.7,172.4 C278.0,172.1 288.7,177.7 294.1,179.2 C299.5,180.8 303.6,181.7 309.0,181.7 C314.3,181.7 320.9,180.5 326.3,179.2 C331.7,178.0 336.2,176.3 341.2,174.3 C346.1,172.2 354.4,166.5 356.0,166.8 C357.7,167.1 354.4,173.6 351.1,176.1 C347.8,178.7 341.6,180.7 336.2,182.3 C330.9,184.0 324.7,185.4 318.9,186.0 C313.1,186.7 306.9,186.9 301.5,186.0 C296.2,185.2 290.8,183.4 286.7,181.1 C282.5,178.8 275.5,172.7 276.7,172.4Z" fill="#f3fbf6" opacity="0.85"/>
<path d="M261.9,82.0 L269.3,78.2 L276.7,85.7 L281.7,94.3 L275.5,93.1 L270.5,89.4 L266.8,91.9 L264.3,86.9Z" fill="#f3fbf6" opacity="0.9"/>
<path d="M208.6,91.9 C206.6,92.7 203.9,99.3 202.4,104.3 C200.8,109.2 199.5,116.0 199.3,121.6 C199.1,127.2 199.6,132.4 201.2,137.7 C202.7,143.1 205.5,148.7 208.6,153.8 C211.7,159.0 215.6,164.2 219.7,168.7 C223.9,173.2 229.0,177.6 233.4,181.1 C237.7,184.6 241.8,187.9 245.8,189.8 C249.7,191.6 253.0,193.1 256.9,192.2 C260.8,191.4 265.6,186.9 269.3,184.8 C273.0,182.7 279.6,181.7 279.2,179.9 C278.8,178.0 270.5,176.5 266.8,173.7 C263.1,170.8 259.5,166.6 256.9,162.5 C254.3,158.4 252.5,153.2 251.3,148.9 C250.2,144.5 251.6,139.4 250.1,136.5 C248.6,133.6 245.2,133.6 242.0,131.5 C238.8,129.5 234.4,127.4 230.9,124.1 C227.4,120.8 223.8,115.8 221.0,111.7 C218.2,107.6 216.2,102.6 214.2,99.3 C212.1,96.0 210.5,91.0 208.6,91.9Z" fill="#f3fbf6"/>
<g fill="#008a57"><ellipse cx="202.6" cy="107.0" rx="1.3" ry="0.7" transform="rotate(-56 202.6 107.0)"/><ellipse cx="224.3" cy="134.4" rx="1.3" ry="0.7" transform="rotate(-44 224.3 134.4)"/><ellipse cx="211.1" cy="112.4" rx="1.0" ry="0.6" transform="rotate(26 211.1 112.4)"/><ellipse cx="231.7" cy="130.7" rx="1.5" ry="0.8" transform="rotate(-33 231.7 130.7)"/><ellipse cx="222.6" cy="126.5" rx="1.0" ry="0.5" transform="rotate(-55 222.6 126.5)"/><ellipse cx="244.5" cy="173.0" rx="1.6" ry="0.9" transform="rotate(-24 244.5 173.0)"/><ellipse cx="252.9" cy="184.1" rx="1.0" ry="0.5" transform="rotate(23 252.9 184.1)"/><ellipse cx="252.6" cy="187.7" rx="1.5" ry="0.8" transform="rotate(-32 252.6 187.7)"/><ellipse cx="233.5" cy="131.3" rx="0.9" ry="0.5" transform="rotate(-14 233.5 131.3)"/><ellipse cx="225.5" cy="141.8" rx="1.0" ry="0.6" transform="rotate(-41 225.5 141.8)"/><ellipse cx="231.5" cy="139.6" rx="0.9" ry="0.5" transform="rotate(20 231.5 139.6)"/><ellipse cx="226.6" cy="134.3" rx="0.9" ry="0.5" transform="rotate(10 226.6 134.3)"/><ellipse cx="230.6" cy="128.4" rx="0.9" ry="0.5" transform="rotate(-11 230.6 128.4)"/><ellipse cx="203.7" cy="141.6" rx="1.3" ry="0.7" transform="rotate(-4 203.7 141.6)"/><ellipse cx="225.3" cy="117.3" rx="0.8" ry="0.5" transform="rotate(-18 225.3 117.3)"/><ellipse cx="220.2" cy="158.9" rx="1.0" ry="0.5" transform="rotate(-4 220.2 158.9)"/><ellipse cx="248.5" cy="187.7" rx="1.1" ry="0.6" transform="rotate(9 248.5 187.7)"/><ellipse cx="249.4" cy="154.2" rx="1.1" ry="0.6" transform="rotate(-10 249.4 154.2)"/><ellipse cx="210.2" cy="142.8" rx="1.1" ry="0.6" transform="rotate(-17 210.2 142.8)"/><ellipse cx="214.7" cy="114.8" rx="1.4" ry="0.8" transform="rotate(-32 214.7 114.8)"/><ellipse cx="238.7" cy="157.1" rx="1.3" ry="0.7" transform="rotate(15 238.7 157.1)"/><ellipse cx="244.1" cy="175.3" rx="1.6" ry="0.9" transform="rotate(-20 244.1 175.3)"/><ellipse cx="224.3" cy="163.7" rx="1.4" ry="0.8" transform="rotate(22 224.3 163.7)"/><ellipse cx="212.0" cy="154.3" rx="1.2" ry="0.7" transform="rotate(8 212.0 154.3)"/><ellipse cx="218.2" cy="116.9" rx="1.1" ry="0.6" transform="rotate(-39 218.2 116.9)"/><ellipse cx="208.3" cy="137.2" rx="1.4" ry="0.8" transform="rotate(-2 208.3 137.2)"/><ellipse cx="219.6" cy="142.8" rx="1.5" ry="0.8" transform="rotate(-13 219.6 142.8)"/><ellipse cx="226.0" cy="168.1" rx="1.5" ry="0.8" transform="rotate(39 226.0 168.1)"/><ellipse cx="244.6" cy="134.1" rx="1.4" ry="0.8" transform="rotate(15 244.6 134.1)"/><ellipse cx="209.3" cy="129.7" rx="1.4" ry="0.8" transform="rotate(-32 209.3 129.7)"/><ellipse cx="246.1" cy="186.3" rx="1.6" ry="0.9" transform="rotate(-44 246.1 186.3)"/><ellipse cx="208.8" cy="96.1" rx="1.0" ry="0.6" transform="rotate(28 208.8 96.1)"/><ellipse cx="242.7" cy="140.4" rx="1.1" ry="0.6" transform="rotate(-23 242.7 140.4)"/><ellipse cx="263.3" cy="176.1" rx="1.0" ry="0.6" transform="rotate(-13 263.3 176.1)"/><ellipse cx="248.7" cy="168.7" rx="1.6" ry="0.9" transform="rotate(-13 248.7 168.7)"/><ellipse cx="213.3" cy="102.6" rx="1.6" ry="0.9" transform="rotate(-30 213.3 102.6)"/><ellipse cx="217.5" cy="140.3" rx="1.1" ry="0.6" transform="rotate(-29 217.5 140.3)"/><ellipse cx="205.6" cy="110.2" rx="1.2" ry="0.7" transform="rotate(60 205.6 110.2)"/><ellipse cx="238.0" cy="133.5" rx="1.5" ry="0.8" transform="rotate(-12 238.0 133.5)"/><ellipse cx="251.8" cy="154.4" rx="1.0" ry="0.6" transform="rotate(53 251.8 154.4)"/><ellipse cx="234.7" cy="175.6" rx="1.4" ry="0.8" transform="rotate(-39 234.7 175.6)"/><ellipse cx="208.8" cy="99.4" rx="1.1" ry="0.6" transform="rotate(30 208.8 99.4)"/><ellipse cx="224.1" cy="143.5" rx="0.8" ry="0.5" transform="rotate(-35 224.1 143.5)"/><ellipse cx="241.4" cy="173.2" rx="1.5" ry="0.8" transform="rotate(28 241.4 173.2)"/><ellipse cx="231.2" cy="172.5" rx="1.5" ry="0.8" transform="rotate(32 231.2 172.5)"/><ellipse cx="230.3" cy="128.9" rx="1.3" ry="0.7" transform="rotate(37 230.3 128.9)"/><ellipse cx="228.4" cy="155.9" rx="1.1" ry="0.6" transform="rotate(-26 228.4 155.9)"/><ellipse cx="206.8" cy="125.5" rx="1.4" ry="0.8" transform="rotate(-35 206.8 125.5)"/><ellipse cx="207.8" cy="106.2" rx="1.1" ry="0.6" transform="rotate(-8 207.8 106.2)"/><ellipse cx="224.9" cy="167.6" rx="0.9" ry="0.5" transform="rotate(59 224.9 167.6)"/><ellipse cx="216.8" cy="132.8" rx="1.4" ry="0.8" transform="rotate(-39 216.8 132.8)"/><ellipse cx="221.1" cy="159.8" rx="1.6" ry="0.9" transform="rotate(-21 221.1 159.8)"/><ellipse cx="214.0" cy="127.7" rx="1.6" ry="0.9" transform="rotate(-42 214.0 127.7)"/><ellipse cx="248.5" cy="181.0" rx="1.5" ry="0.8" transform="rotate(15 248.5 181.0)"/><ellipse cx="239.6" cy="148.9" rx="0.9" ry="0.5" transform="rotate(40 239.6 148.9)"/><ellipse cx="247.3" cy="149.4" rx="1.2" ry="0.7" transform="rotate(-56 247.3 149.4)"/><ellipse cx="249.4" cy="136.7" rx="1.3" ry="0.7" transform="rotate(11 249.4 136.7)"/><ellipse cx="258.2" cy="191.2" rx="1.1" ry="0.6" transform="rotate(44 258.2 191.2)"/><ellipse cx="235.6" cy="145.7" rx="1.5" ry="0.8" transform="rotate(-36 235.6 145.7)"/><ellipse cx="221.6" cy="156.5" rx="0.9" ry="0.5" transform="rotate(7 221.6 156.5)"/></g>
<path d="M237.1,57.2 C237.9,59.7 240.6,67.5 242.0,72.0 C243.5,76.6 244.7,80.3 245.8,84.4 C246.8,88.6 247.6,92.7 248.2,96.8 C248.9,101.0 249.1,105.5 249.5,109.2 C249.9,112.9 250.5,117.5 250.7,119.1" fill="none" stroke="#f3fbf6" stroke-width="2.2"/>
<path d="M248.2,78.2 C249.3,78.4 253.8,77.6 254.4,79.5 C255.1,81.3 252.0,86.1 252.0,89.4 C252.0,92.7 255.1,96.4 254.4,99.3 C253.8,102.2 248.7,104.3 248.2,106.7 C247.8,109.2 251.3,112.9 252.0,114.2" fill="none" stroke="#f3fbf6" stroke-width="2.4"/>
<path d="M216.6,57.2 C218.8,55.4 220.9,53.1 223.5,52.5 C226.0,51.8 229.7,52.2 232.1,53.2 C234.6,54.2 237.1,56.1 238.3,58.4 C239.6,60.7 240.2,64.6 239.6,67.1 C238.9,69.6 236.7,72.0 234.6,73.3 C232.5,74.5 229.2,75.1 227.2,74.5 C225.1,73.9 224.3,70.8 222.2,69.6 C220.2,68.3 216.7,68.1 214.8,67.1 C212.8,66.1 210.1,65.0 210.4,63.4 C210.8,61.7 214.5,59.0 216.6,57.2Z" fill="#f3fbf6"/>
<ellipse cx="224.1" cy="59.7" rx="4.2" ry="3" fill="#008a57"/>
<ellipse cx="224.1" cy="59.7" rx="2.2" ry="1.5" fill="#f3fbf6"/>
<ellipse cx="229.7" cy="68.9" rx="4" ry="2.6" fill="#008a57" transform="rotate(-30 229.7 68.9)"/>
<path d="M210.4,60.9 L205.5,50.4 L214.2,36.7 L216.6,49.1 L223.5,32.4 L225.9,47.3 L234.0,31.8 L235.8,44.8 L245.1,34.3 L244.5,46.6 L255.1,46.0 L252.0,55.9 L258.8,55.9 L254.4,59.7 L245.8,60.9 L237.1,57.2 L230.9,53.5" fill="none" stroke="#f3fbf6" stroke-width="1.7" stroke-linejoin="round"/>
<path d="M216.6,69.6 C214.5,70.0 211.6,71.2 209.8,73.3 C208.1,75.3 206.3,79.1 206.1,82.0 C205.9,84.8 206.9,88.9 208.6,90.6 C210.2,92.4 213.8,93.1 216.0,92.5 C218.3,91.9 220.8,89.3 222.2,86.9 C223.7,84.5 224.6,80.9 224.7,78.2 C224.8,75.6 224.2,72.3 222.8,70.8 C221.5,69.4 218.8,69.2 216.6,69.6Z" fill="none" stroke="#f3fbf6" stroke-width="1.7"/>
<path d="M254.4,186.0 C253.6,188.7 250.9,197.1 249.5,202.2 C248.0,207.2 246.4,214.0 245.8,216.4" fill="none" stroke="#f3fbf6" stroke-width="3.2" stroke-linecap="round"/>
<path d="M265.6,182.3 C266.2,185.0 269.3,193.1 269.3,198.4 C269.3,203.8 266.2,211.9 265.6,214.5" fill="none" stroke="#f3fbf6" stroke-width="3.0" stroke-linecap="round"/>
<path d="M259.4,181.1 C260.2,183.6 264.3,190.6 264.3,196.0 C264.3,201.3 260.2,210.4 259.4,213.3" fill="none" stroke="#f3fbf6" stroke-width="1.6" stroke-linecap="round"/>
<path d="M276.7,179.9 C278.2,182.5 284.2,190.4 285.4,196.0 C286.7,201.5 284.4,210.4 284.2,213.3" fill="none" stroke="#f3fbf6" stroke-width="1.8" stroke-linecap="round"/>
<path d="M294.1,189.8 C293.6,192.4 292.0,201.1 291.0,205.9 C290.0,210.6 288.4,216.2 287.9,218.3" fill="none" stroke="#f3fbf6" stroke-width="3.2" stroke-linecap="round"/>
<path d="M301.5,189.8 C302.8,192.0 307.9,198.6 309.0,203.4 C310.0,208.1 307.9,215.8 307.7,218.3" fill="none" stroke="#f3fbf6" stroke-width="1.8" stroke-linecap="round"/>
<path d="M312.7,192.2 L316.4,193.5 L318.9,218.3 L326.3,223.2 L326.9,226.3 L316.4,228.2 L305.2,230.7 L299.0,228.2 L309.0,223.2 L313.9,219.5Z" fill="#f3fbf6"/>
<path d="M216.6,217.0 C217.9,215.4 222.9,213.5 227.2,213.3 C231.4,213.1 236.7,215.8 242.0,215.8 C247.4,215.8 253.6,213.1 259.4,213.3 C265.2,213.5 270.5,216.2 276.7,217.0 C282.9,217.9 293.7,217.0 296.6,218.3 C299.5,219.5 297.4,223.2 294.1,224.5 C290.8,225.7 280.0,224.7 276.7,225.7 C273.4,226.7 280.5,230.0 274.3,230.7 C268.1,231.3 246.8,230.5 239.6,229.4 C232.3,228.4 234.2,225.5 230.9,224.5 C227.6,223.4 222.1,224.5 219.7,223.2 C217.4,222.0 215.4,218.7 216.6,217.0Z" fill="#f3fbf6" opacity="0.92"/>
<g fill="#008a57"><ellipse cx="279.6" cy="221.8" rx="2.2" ry="0.8" transform="rotate(36 279.6 221.8)"/><ellipse cx="260.5" cy="229.0" rx="3.1" ry="1.2" transform="rotate(-42 260.5 229.0)"/><ellipse cx="219.6" cy="219.3" rx="3.2" ry="1.2" transform="rotate(40 219.6 219.3)"/><ellipse cx="226.0" cy="216.5" rx="2.4" ry="0.9" transform="rotate(42 226.0 216.5)"/><ellipse cx="266.0" cy="229.0" rx="1.9" ry="0.7" transform="rotate(59 266.0 229.0)"/><ellipse cx="233.2" cy="224.2" rx="3.2" ry="1.2" transform="rotate(27 233.2 224.2)"/><ellipse cx="232.4" cy="224.9" rx="2.5" ry="1.0" transform="rotate(-58 232.4 224.9)"/><ellipse cx="243.8" cy="218.8" rx="2.8" ry="1.1" transform="rotate(-27 243.8 218.8)"/><ellipse cx="264.8" cy="225.4" rx="2.1" ry="0.8" transform="rotate(-45 264.8 225.4)"/><ellipse cx="272.1" cy="221.4" rx="2.0" ry="0.8" transform="rotate(-46 272.1 221.4)"/><ellipse cx="291.9" cy="223.9" rx="2.4" ry="0.9" transform="rotate(-36 291.9 223.9)"/><ellipse cx="275.5" cy="219.6" rx="2.3" ry="0.9" transform="rotate(-11 275.5 219.6)"/><ellipse cx="250.6" cy="227.5" rx="2.5" ry="0.9" transform="rotate(-5 250.6 227.5)"/><ellipse cx="257.1" cy="229.6" rx="2.4" ry="0.9" transform="rotate(24 257.1 229.6)"/><ellipse cx="235.4" cy="223.4" rx="2.3" ry="0.9" transform="rotate(45 235.4 223.4)"/><ellipse cx="239.5" cy="228.1" rx="2.9" ry="1.1" transform="rotate(-5 239.5 228.1)"/><ellipse cx="291.3" cy="220.0" rx="3.0" ry="1.1" transform="rotate(12 291.3 220.0)"/><ellipse cx="252.5" cy="214.4" rx="2.5" ry="1.0" transform="rotate(-26 252.5 214.4)"/><ellipse cx="240.1" cy="225.4" rx="2.9" ry="1.1" transform="rotate(-31 240.1 225.4)"/><ellipse cx="249.5" cy="215.6" rx="3.2" ry="1.2" transform="rotate(-30 249.5 215.6)"/><ellipse cx="250.3" cy="219.2" rx="3.1" ry="1.2" transform="rotate(42 250.3 219.2)"/><ellipse cx="263.9" cy="222.8" rx="2.0" ry="0.8" transform="rotate(48 263.9 222.8)"/><ellipse cx="223.7" cy="219.6" rx="2.4" ry="0.9" transform="rotate(27 223.7 219.6)"/><ellipse cx="270.1" cy="219.3" rx="3.2" ry="1.2" transform="rotate(54 270.1 219.3)"/><ellipse cx="254.1" cy="219.6" rx="2.5" ry="1.0" transform="rotate(-22 254.1 219.6)"/><ellipse cx="270.3" cy="223.8" rx="3.3" ry="1.3" transform="rotate(57 270.3 223.8)"/><ellipse cx="282.9" cy="224.6" rx="2.9" ry="1.1" transform="rotate(60 282.9 224.6)"/><ellipse cx="222.0" cy="221.3" rx="2.4" ry="0.9" transform="rotate(19 222.0 221.3)"/><ellipse cx="233.4" cy="219.7" rx="2.0" ry="0.8" transform="rotate(-13 233.4 219.7)"/><ellipse cx="266.4" cy="226.2" rx="2.2" ry="0.9" transform="rotate(37 266.4 226.2)"/><ellipse cx="275.1" cy="226.8" rx="2.0" ry="0.8" transform="rotate(-4 275.1 226.8)"/><ellipse cx="218.6" cy="219.4" rx="2.7" ry="1.0" transform="rotate(4 218.6 219.4)"/><ellipse cx="240.7" cy="222.1" rx="2.0" ry="0.8" transform="rotate(8 240.7 222.1)"/><ellipse cx="227.0" cy="214.8" rx="2.6" ry="1.0" transform="rotate(-25 227.0 214.8)"/></g>
</g>
<text x="503.4" y="75.0" font-size="31.9" fill="#3c3c3d" textLength="336.0" lengthAdjust="spacingAndGlyphs" class="hd it" stroke="#3c3c3d" stroke-width="1.9" stroke-linejoin="round">GIÁ GIA CẦM THỊT</text>
<text x="508.6" y="150.8" font-size="40.6" fill="#0b9255" textLength="851.0" lengthAdjust="spacingAndGlyphs" class="hd it" stroke="#0b9255" stroke-width="2.6" stroke-linejoin="round">TẠI CÁC TỈNH THÀNH TRÊN CẢ NƯỚC</text>
<text x="501.4" y="217.3" font-size="29.2" fill="#3c3c3d" textLength="98.0" lengthAdjust="spacingAndGlyphs" class="hd it" stroke="#3c3c3d" stroke-width="1.9" stroke-linejoin="round">NGÀY</text>
<text x="625.4" y="217.3" font-size="29.2" fill="#3c3c3d" textLength="217.0" lengthAdjust="spacingAndGlyphs" class="hd it" stroke="#3c3c3d" stroke-width="1.9" stroke-linejoin="round">08/04/2026</text>
<path d="M1521.7,112.6 L1653.6,112.6 L1653.6,120.4 L1530.3,120.4Z" fill="#c1272d"/>
<path d="M1691.3,21.2 L1722.2,112.6 L1853.6,112.6 L1846.4,120.4 L1716.2,120.4 L1687.2,32.6Z" fill="#c1272d"/>
<path d="M1615.9,127.4 L1620.1,140.3 L1633.6,140.3 L1622.7,148.2 L1626.8,161.0 L1615.9,153.1 L1605.0,161.0 L1609.1,148.2 L1598.2,140.3 L1611.7,140.3Z" fill="#0e4a28"/>
<path d="M1670.9,127.4 L1675.1,140.3 L1688.6,140.3 L1677.7,148.2 L1681.8,161.0 L1670.9,153.1 L1660.0,161.0 L1664.1,148.2 L1653.2,140.3 L1666.7,140.3Z" fill="#0e4a28"/>
<path d="M1725.8,127.4 L1730.0,140.3 L1743.5,140.3 L1732.6,148.2 L1736.7,161.0 L1725.8,153.1 L1714.9,161.0 L1719.0,148.2 L1708.1,140.3 L1721.6,140.3Z" fill="#0e4a28"/>
<path d="M1780.4,127.4 L1784.6,140.3 L1798.1,140.3 L1787.2,148.2 L1791.3,161.0 L1780.4,153.1 L1769.5,161.0 L1773.6,148.2 L1762.7,140.3 L1776.2,140.3Z" fill="#0e4a28"/>
<path d="M1835.2,127.4 L1839.4,140.3 L1852.9,140.3 L1842.0,148.2 L1846.1,161.0 L1835.2,153.1 L1824.3,161.0 L1828.4,148.2 L1817.5,140.3 L1831.0,140.3Z" fill="#0e4a28"/>
<text x="1519.7" y="206.0" font-size="85.7" textLength="73.1" lengthAdjust="spacingAndGlyphs" stroke-width="7" stroke-linejoin="miter" class="lb" fill="#0e4a28" stroke="#0e4a28">G</text><text x="1596.5" y="204.6" font-size="45.0" fill="#0e4a28" textLength="258.0" lengthAdjust="spacingAndGlyphs" stroke="#0e4a28" stroke-width="0.8" stroke-linejoin="round">REENFEED</text>
<g mask="url(#gmask)"><path d="M1516,176 Q1545,180 1562,216 L1516,216Z" fill="#3fa845"/><path d="M1556,196 Q1572,196 1594,204 L1594,216 L1562,216 Q1560,204 1556,196Z" fill="#147a3a"/></g>
<mask id="gmask" maskUnits="userSpaceOnUse" x="1510" y="130" width="90" height="90"><text x="1519.7" y="206.0" font-size="85.7" textLength="73.1" lengthAdjust="spacingAndGlyphs" stroke-width="7" stroke-linejoin="miter" class="lb" fill="#fff" stroke="#fff" aria-hidden="true">G</text></mask>
<text x="1506.4" y="305.2" font-size="30.2" fill="#58585a" textLength="392.0" lengthAdjust="spacingAndGlyphs" class="hd it" stroke="#58585a" stroke-width="1.8" stroke-linejoin="round">CÁC LOẠI GIA CẦM THỊT</text>
<rect x="903" y="321.6" width="1009" height="4.2" fill="#7ac943"/>
<rect x="903" y="423.6" width="1009" height="4.2" fill="#7ac943"/>
<text x="924.5" y="357.0" font-size="15.6" fill="#000" textLength="30.0" lengthAdjust="spacingAndGlyphs" class="lb" stroke="#000" stroke-width="0.7" stroke-linejoin="round">GÀ</text>
<text x="924.5" y="379.0" font-size="15.6" fill="#000" textLength="81.5" lengthAdjust="spacingAndGlyphs" class="lb" stroke="#000" stroke-width="0.7" stroke-linejoin="round">LAI MÍA</text>
<text x="924.5" y="403.0" font-size="15.4" fill="#111" textLength="84.5" lengthAdjust="spacingAndGlyphs" class="rg lb" stroke="#111" stroke-width="0.5" stroke-linejoin="round">(VNĐ/Kg)</text>
<use href="#ic-laimia" transform="translate(1012.0,335.0) scale(1.116)"/>
<text x="1095.0" y="357.0" font-size="15.6" fill="#000" textLength="30.0" lengthAdjust="spacingAndGlyphs" class="lb" stroke="#000" stroke-width="0.7" stroke-linejoin="round">GÀ</text>
<text x="1095.0" y="379.0" font-size="15.6" fill="#000" textLength="59.5" lengthAdjust="spacingAndGlyphs" class="lb" stroke="#000" stroke-width="0.7" stroke-linejoin="round">RI LAI</text>
<text x="1095.0" y="403.0" font-size="15.4" fill="#111" textLength="84.5" lengthAdjust="spacingAndGlyphs" class="rg lb" stroke="#111" stroke-width="0.5" stroke-linejoin="round">(VNĐ/Kg)</text>
<use href="#ic-rilai" transform="translate(1171.5,335.0) scale(1.125)"/>
<text x="1259.5" y="357.0" font-size="15.6" fill="#000" textLength="84.5" lengthAdjust="spacingAndGlyphs" class="lb" stroke="#000" stroke-width="0.7" stroke-linejoin="round">GÀ MÀU</text>
<text x="1259.5" y="379.0" font-size="15.6" fill="#000" textLength="90.5" lengthAdjust="spacingAndGlyphs" class="lb" stroke="#000" stroke-width="0.7" stroke-linejoin="round">60 NGÀY</text>
<text x="1259.5" y="403.0" font-size="15.4" fill="#111" textLength="84.5" lengthAdjust="spacingAndGlyphs" class="rg lb" stroke="#111" stroke-width="0.5" stroke-linejoin="round">(VNĐ/Kg)</text>
<use href="#ic-orange" transform="translate(1345.0,335.0) scale(1.162)"/>
<text x="1436.0" y="357.0" font-size="15.6" fill="#000" textLength="74.0" lengthAdjust="spacingAndGlyphs" class="lb" stroke="#000" stroke-width="0.7" stroke-linejoin="round">GÀ NÒI</text>
<text x="1436.0" y="379.0" font-size="15.6" fill="#000" textLength="94.0" lengthAdjust="spacingAndGlyphs" class="lb" stroke="#000" stroke-width="0.7" stroke-linejoin="round">MINH DƯ</text>
<text x="1436.0" y="403.0" font-size="15.4" fill="#111" textLength="84.5" lengthAdjust="spacingAndGlyphs" class="rg lb" stroke="#111" stroke-width="0.5" stroke-linejoin="round">(VNĐ/Kg)</text>
<use href="#ic-green" transform="translate(1529.0,337.0) scale(1.062)"/>
<text x="1611.5" y="357.0" font-size="15.6" fill="#000" textLength="74.0" lengthAdjust="spacingAndGlyphs" class="lb" stroke="#000" stroke-width="0.7" stroke-linejoin="round">GÀ NÒI</text>
<text x="1611.5" y="379.0" font-size="15.6" fill="#000" textLength="87.5" lengthAdjust="spacingAndGlyphs" class="lb" stroke="#000" stroke-width="0.7" stroke-linejoin="round">BẾN TRE</text>
<text x="1611.5" y="403.0" font-size="15.4" fill="#111" textLength="84.5" lengthAdjust="spacingAndGlyphs" class="rg lb" stroke="#111" stroke-width="0.5" stroke-linejoin="round">(VNĐ/Kg)</text>
<use href="#ic-cyan" transform="translate(1702.0,335.0) scale(1.048)"/>
<text x="1765.0" y="357.0" font-size="15.6" fill="#000" textLength="34.0" lengthAdjust="spacingAndGlyphs" class="lb" stroke="#000" stroke-width="0.7" stroke-linejoin="round">VỊT</text>
<text x="1765.0" y="379.0" font-size="15.6" fill="#000" textLength="46.0" lengthAdjust="spacingAndGlyphs" class="lb" stroke="#000" stroke-width="0.7" stroke-linejoin="round">THỊT</text>
<text x="1765.0" y="403.0" font-size="15.4" fill="#111" textLength="84.5" lengthAdjust="spacingAndGlyphs" class="rg lb" stroke="#111" stroke-width="0.5" stroke-linejoin="round">(VNĐ/Kg)</text>
<use href="#ic-duck" transform="translate(1826.0,340.0) scale(1.156)"/>
<g id="map">
<path d="M1113.2,708.7 L1119.8,703.1 L1131.1,705.0 L1137.1,710.6 L1132.0,718.2 L1123.5,722.3 L1116.0,720.1Z" fill="#b7b7ba" opacity="0.9"/>
<path d="M1058.4,738.0 L1064.1,740.8 L1068.8,746.5 L1080.1,746.5 L1090.5,749.3 L1085.8,756.3 L1080.1,754.0 L1072.6,750.3 L1065.0,750.3Z" fill="#b7b7ba" opacity="0.85"/>
<g fill="none" stroke="#bcbcbf" stroke-linecap="round" opacity="0.9"><path d="M1151.9,693.2 L1167.0,689.1" stroke-width="3.2"/><path d="M1140.5,699.7 L1148.5,695.9" stroke-width="3"/><path d="M1164.1,680.8 L1175.5,679.7" stroke-width="3"/><path d="M1133.9,715.3 L1139.0,724.8" stroke-width="3.2"/><path d="M1108.8,733.3 L1116.0,733.3" stroke-width="2.6"/><path d="M1120.1,737.0 L1131.1,731.8" stroke-width="3"/><path d="M1111.5,745.7 L1116.0,744.6" stroke-width="2.6"/><path d="M1148.1,728.0 L1151.9,730.6" stroke-width="2.6"/><path d="M1157.5,725.0 L1161.3,726.9" stroke-width="2.4"/><path d="M1125.4,708.7 L1131.1,701.2" stroke-width="2.6"/><path d="M1142.4,708.7 L1146.2,705.9" stroke-width="2.4"/></g>
<path d="M781.4,1781.4 L790.3,1776.1 L799.1,1774.3 L804.4,1779.6 L805.5,1792.0 L802.7,1802.7 L800.9,1815.0 L797.3,1816.1 L794.9,1806.2 L792.7,1795.6 L786.7,1788.5Z" fill="#bdbdbf" opacity="1"/>
<path d="M771.9,1768.0 L776.1,1766.5 L777.9,1770.8 L774.3,1773.6Z" fill="#bdbdbf" opacity="1"/>
<path d="M726.5,1754.9 L730.1,1753.8 L731.9,1759.5 L728.3,1760.9Z" fill="#bdbdbf" opacity="1"/>
<path d="M1041.6,1944.2 L1048.7,1937.9 L1054.0,1938.9 L1052.2,1945.0 L1059.3,1944.2 L1060.4,1947.8 L1048.7,1949.6 L1042.7,1950.6Z" fill="#bdbdbf" opacity="0.8"/>
<path d="M1103.5,1795.6 L1114.2,1794.9 L1117.7,1797.3 L1107.1,1799.1Z" fill="#bdbdbf" opacity="0.8"/>
<path d="M1126.5,1797.3 L1135.4,1794.9 L1147.8,1794.9 L1148.8,1797.7 L1137.2,1799.8 L1130.1,1802.7Z" fill="#bdbdbf" opacity="0.8"/>
<g fill="none" stroke="#b9b9bc" stroke-linecap="round" stroke-linejoin="round" opacity="0.95">
<path d="M1520.4,1165.3 L1524.6,1169.0 L1527.8,1173.3 L1529.9,1174.9" stroke-width="5.2"/>
<path d="M1508.1,1178.1 L1511.9,1175.9 L1514.5,1173.3" stroke-width="3.6"/>
<path d="M1500.2,1200.9 L1503.9,1208.3 L1508.1,1206.2 L1510.8,1200.9 L1512.9,1194.0 L1518.8,1195.6 L1522.5,1190.3 L1523.8,1184.4 L1526.7,1190.3 L1532.0,1194.0 L1536.8,1195.6" stroke-width="4.4"/>
<path d="M1526.7,1199.3 L1528.3,1204.1 L1533.1,1207.8 L1529.9,1213.1 L1524.1,1216.8" stroke-width="4.2"/>
<path d="M1548.0,1190.3 L1555.4,1189.4" stroke-width="4.6"/>
<path d="M1619.6,1155.4 L1623.9,1157.3 L1624.6,1163.7 L1625.0,1169.6" stroke-width="4.4"/>
<path d="M1594.7,1235.4 L1596.8,1221.1 L1604.8,1222.1 L1609.0,1214.2 L1615.4,1218.7" stroke-width="4.2"/>
<path d="M1505.0,1113.6 L1510.8,1113.2" stroke-width="3.4"/>
</g>

<ellipse cx="1771.7" cy="1665.2" rx="6.0" ry="3.0" fill="#b9b9bc" opacity="0.85" transform="rotate(-20 1771.7 1665.2)"/>
<ellipse cx="1807" cy="1660.5" rx="5.5" ry="3.0" fill="#b9b9bc" opacity="0.85" transform="rotate(10 1807 1660.5)"/>
<ellipse cx="1800" cy="1667" rx="2.5" ry="2.5" fill="#b9b9bc" opacity="0.85" transform="rotate(0 1800 1667)"/>
<ellipse cx="1795.3" cy="1765.5" rx="3.0" ry="4.0" fill="#b9b9bc" opacity="0.85" transform="rotate(0 1795.3 1765.5)"/>
<ellipse cx="1807" cy="1772.6" rx="2.5" ry="2.5" fill="#b9b9bc" opacity="0.85" transform="rotate(0 1807 1772.6)"/>
<ellipse cx="1763.4" cy="1787.3" rx="2.5" ry="4.0" fill="#b9b9bc" opacity="0.85" transform="rotate(0 1763.4 1787.3)"/>
<ellipse cx="1727.4" cy="1802" rx="2.5" ry="3.5" fill="#b9b9bc" opacity="0.85" transform="rotate(0 1727.4 1802)"/>
<ellipse cx="1740" cy="1804" rx="3.0" ry="2.0" fill="#b9b9bc" opacity="0.85" transform="rotate(0 1740 1804)"/>
<ellipse cx="1801" cy="1803.8" rx="5.0" ry="2.5" fill="#b9b9bc" opacity="0.85" transform="rotate(-15 1801 1803.8)"/>
<ellipse cx="1783.5" cy="1816.8" rx="2.5" ry="2.5" fill="#b9b9bc" opacity="0.85" transform="rotate(0 1783.5 1816.8)"/>
<ellipse cx="1765.8" cy="1825.7" rx="2.5" ry="2.0" fill="#b9b9bc" opacity="0.85" transform="rotate(0 1765.8 1825.7)"/>
<ellipse cx="1790" cy="1812" rx="2.5" ry="2.0" fill="#b9b9bc" opacity="0.85" transform="rotate(0 1790 1812)"/>
<ellipse cx="1644.8" cy="1842.2" rx="6.0" ry="2.5" fill="#b9b9bc" opacity="0.85" transform="rotate(-25 1644.8 1842.2)"/>
<ellipse cx="1745" cy="1921.8" rx="4.0" ry="2.5" fill="#b9b9bc" opacity="0.85" transform="rotate(20 1745 1921.8)"/>
<ellipse cx="1754" cy="1930.7" rx="3.5" ry="4.5" fill="#b9b9bc" opacity="0.85" transform="rotate(0 1754 1930.7)"/>
<ellipse cx="1674.3" cy="1979" rx="3.0" ry="3.0" fill="#b9b9bc" opacity="0.85" transform="rotate(0 1674.3 1979)"/>
<ellipse cx="1771.7" cy="2006" rx="5.5" ry="2.5" fill="#b9b9bc" opacity="0.85" transform="rotate(-15 1771.7 2006)"/>
<ellipse cx="1745" cy="2019" rx="3.5" ry="2.5" fill="#b9b9bc" opacity="0.85" transform="rotate(0 1745 2019)"/>
<ellipse cx="1509" cy="2008.6" rx="3.0" ry="2.5" fill="#b9b9bc" opacity="0.85" transform="rotate(0 1509 2008.6)"/>
<ellipse cx="1523.9" cy="2024" rx="3.0" ry="2.5" fill="#b9b9bc" opacity="0.85" transform="rotate(0 1523.9 2024)"/>
<ellipse cx="1341" cy="1615" rx="4.5" ry="2.0" fill="#b9b9bc" opacity="0.85" transform="rotate(20 1341 1615)"/>
<ellipse cx="1276" cy="1757.8" rx="2.0" ry="2.5" fill="#b9b9bc" opacity="0.85" transform="rotate(0 1276 1757.8)"/>
<ellipse cx="1309.7" cy="1782" rx="2.0" ry="2.5" fill="#b9b9bc" opacity="0.85" transform="rotate(0 1309.7 1782)"/>
<ellipse cx="1228.6" cy="1224.3" rx="4.0" ry="2.0" fill="#b9b9bc" opacity="0.85" transform="rotate(25 1228.6 1224.3)"/>
<ellipse cx="1284" cy="1281" rx="3.0" ry="2.0" fill="#b9b9bc" opacity="0.85" transform="rotate(0 1284 1281)"/>
<ellipse cx="1318.6" cy="1303.7" rx="3.0" ry="2.0" fill="#b9b9bc" opacity="0.85" transform="rotate(0 1318.6 1303.7)"/>
<ellipse cx="1261.4" cy="1247" rx="3.5" ry="2.0" fill="#b9b9bc" opacity="0.85" transform="rotate(30 1261.4 1247)"/>
<path d="M1104,1797 L1116,1796 L1122,1798 L1110,1800Z M1128,1800 L1136,1796 L1150,1795 L1149,1798 L1138,1800 L1132,1803Z" fill="#b9b9bc" opacity="0.9"/>
<path d="M1042,1948 L1046,1942 L1050,1939 L1053,1941 L1052,1945 L1058,1944 L1060,1947 L1050,1949 L1044,1951Z" fill="#b9b9bc" opacity="0.85"/>
<g fill="#f4f4f5" stroke="#c9c9cc" stroke-width="1"><path d="M1313,1557 L1320,1553 L1324,1560 L1318,1566Z"/><path d="M1316,1578 L1326,1572 L1331,1584 L1322,1592Z"/><path d="M1320,1600 L1327,1596 L1330,1606 L1324,1610Z"/></g>

<path d="M647.8,578.6 L637.2,591.0 L646.0,596.3 L653.1,605.1 L661.9,619.3 L669.0,629.9 L676.1,637.0 L681.4,647.6 L683.2,658.2 L688.5,656.5 L692.7,645.8 L699.1,644.1 L702.7,652.9 L709.7,661.8 L712.6,672.4 L708.0,683.0 L702.7,691.9 L701.9,702.5 L706.2,713.1 L715.0,721.9 L722.1,730.8 L729.2,739.6 L736.3,743.2 L748.7,745.0 L757.5,752.0 L768.1,753.8 L773.5,757.3 L777.0,750.3 L782.3,741.4 L792.9,734.3 L805.3,730.8 L817.7,734.3 L830.1,739.6 L844.2,746.7 L854.9,753.8 L867.3,762.7 L874.3,766.2 L863.7,769.7 L854.9,776.8 L847.8,782.1 L841.8,782.5 L859.1,786.2 L869.0,802.3 L888.8,809.7 L895.0,824.6 L893.8,830.8 L885.1,833.3 L881.4,840.7 L881.4,849.4 L874.0,854.3 L867.8,861.8 L864.1,868.0 L854.2,869.7 L844.2,866.7 L831.9,864.7 L819.5,864.2 L807.6,863.5 L813.3,874.2 L809.6,884.1 L796.4,895.7 L809.6,901.4 L821.9,908.8 L834.3,918.8 L844.2,924.9 L859.1,931.1 L869.0,941.1 L883.9,946.0 L898.8,952.2 L908.7,958.4 L918.6,964.6 L911.1,968.3 L907.4,975.7 L908.7,983.2 L914.9,988.1 L923.5,995.6 L926.0,1005.5 L933.4,1004.2 L940.9,1011.7 L948.3,1019.1 L955.7,1026.5 L965.6,1021.6 L978.0,1019.1 L987.9,1021.6 L994.1,1027.8 L1005.3,1032.7 L1017.7,1032.7 L1022.6,1029.8 L1033.8,1029.0 L1030.1,1021.6 L1025.1,1015.4 L1018.9,1012.9 L1012.7,1005.5 L1005.3,1003.0 L997.9,1000.5 L992.9,993.1 L985.5,983.2 L978.0,975.7 L970.6,965.8 L966.9,958.4 L965.6,951.0 L960.7,941.1 L953.3,931.1 L955.7,923.7 L961.9,916.3 L964.4,906.4 L966.9,896.5 L969.4,884.1 L970.6,874.2 L975.6,859.3 L980.5,844.4 L985.5,837.0 L992.9,830.8 L1002.8,827.1 L1012.7,819.6 L1020.2,812.2 L1032.5,804.8 L1038.7,799.8 L1036.3,794.9 L1030.1,794.5 L1021.2,791.0 L1012.4,780.4 L1003.5,771.5 L994.7,762.7 L987.6,752.0 L981.6,741.4 L978.8,729.0 L982.3,718.4 L985.1,707.8 L984.1,697.2 L980.5,691.9 L968.1,691.9 L957.5,682.3 L948.7,677.7 L934.5,677.7 L923.9,671.7 L913.3,662.5 L908.0,661.1 L899.1,664.6 L890.3,669.6 L887.4,679.5 L887.4,691.9 L881.4,694.3 L870.8,690.8 L856.6,690.8 L845.0,687.3 L836.5,678.8 L834.3,663.5 L831.9,660.0 L817.7,658.9 L801.8,657.2 L789.4,654.0 L781.2,645.8 L776.3,637.0 L771.7,627.1 L764.6,624.6 L754.0,624.6 L741.6,622.8 L725.7,619.3 L715.0,625.7 L706.2,628.8 L697.3,622.8 L693.8,612.2 L689.2,611.5 L686.7,615.8 L676.1,605.1 L665.5,593.8 L658.4,583.9 L653.1,576.8Z" fill="#fcb347" stroke="#fcb347" stroke-width="1" stroke-linejoin="round"/>
<path d="M653.1,576.8 L665.5,556.3 L668.0,561.6 L676.1,564.4 L685.0,564.4 L693.8,569.7 L702.7,578.6 L711.5,587.4 L716.8,589.2 L722.1,583.9 L731.0,573.3 L736.3,569.7 L741.6,564.4 L745.1,555.6 L750.4,564.4 L757.5,571.5 L764.6,575.0 L767.1,566.2 L770.6,556.3 L778.8,562.7 L787.6,568.0 L798.2,573.3 L805.3,574.0 L810.6,564.4 L817.7,557.3 L823.0,554.9 L830.1,560.9 L840.7,565.5 L847.8,562.7 L853.1,554.9 L861.9,552.7 L870.8,553.8 L879.6,545.0 L886.0,536.1 L883.2,525.5 L888.5,516.6 L899.1,510.3 L911.5,507.8 L920.4,505.3 L923.9,498.9 L929.2,504.2 L936.3,511.3 L943.4,516.6 L944.1,527.3 L952.2,529.0 L964.6,534.3 L975.2,543.2 L982.3,545.0 L989.4,539.6 L998.2,536.1 L1005.3,541.4 L1010.6,546.7 L1024.8,547.4 L1037.2,543.2 L1042.5,548.5 L1052.4,550.3 L1053.8,559.1 L1047.8,568.0 L1040.7,578.6 L1037.2,589.2 L1042.5,599.8 L1046.7,612.2 L1049.6,626.4 L1054.9,634.2 L1067.3,637.7 L1077.9,640.5 L1083.2,647.6 L1093.8,656.5 L1104.4,661.1 L1109.0,669.6 L1118.6,672.4 L1131.0,671.7 L1145.1,668.8 L1155.8,666.4 L1162.8,672.4 L1168.1,676.6 L1159.3,681.2 L1150.4,686.5 L1143.4,693.6 L1131.0,698.9 L1118.6,704.2 L1114.0,713.1 L1113.3,723.7 L1104.4,729.0 L1095.6,735.4 L1088.5,730.8 L1077.9,733.3 L1067.3,731.9 L1060.2,739.6 L1063.7,750.3 L1060.2,759.1 L1051.3,764.4 L1042.5,768.0 L1040.7,776.8 L1043.2,787.4 L1038.9,794.5 L1030.1,792.7 L1021.2,791.0 L1012.4,780.4 L1003.5,771.5 L994.7,762.7 L987.6,752.0 L981.6,741.4 L978.8,729.0 L982.3,718.4 L985.1,707.8 L984.1,697.2 L980.5,691.9 L968.1,691.9 L957.5,682.3 L948.7,677.7 L934.5,677.7 L923.9,671.7 L913.3,662.5 L908.0,661.1 L899.1,664.6 L890.3,669.6 L887.4,679.5 L887.4,691.9 L881.4,694.3 L870.8,690.8 L856.6,690.8 L845.0,687.3 L836.5,678.8 L834.3,663.5 L831.9,660.0 L817.7,658.9 L801.8,657.2 L789.4,654.0 L781.2,645.8 L776.3,637.0 L771.7,627.1 L764.6,624.6 L754.0,624.6 L741.6,622.8 L725.7,619.3 L715.0,625.7 L706.2,628.8 L697.3,622.8 L693.8,612.2 L689.2,611.5 L686.7,615.8 L676.1,605.1 L665.5,593.8 L658.4,583.9Z" fill="#29abe2" stroke="#29abe2" stroke-width="1" stroke-linejoin="round"/>
<path d="M955.7,1026.5 L954.9,1035.9 L960.2,1046.5 L969.0,1057.2 L979.6,1067.8 L990.3,1078.4 L1000.9,1089.0 L1008.0,1096.1 L1015.0,1092.6 L1020.4,1099.6 L1023.9,1108.5 L1031.0,1119.1 L1039.8,1124.4 L1043.4,1135.0 L1044.1,1149.2 L1050.4,1158.1 L1054.0,1170.4 L1057.5,1175.8 L1066.4,1170.4 L1073.5,1172.2 L1077.0,1181.1 L1089.4,1189.9 L1096.5,1200.5 L1107.1,1209.4 L1117.7,1214.7 L1128.3,1220.0 L1133.6,1215.4 L1126.5,1220.7 L1115.9,1231.3 L1103.5,1241.9 L1108.8,1249.0 L1117.7,1259.6 L1130.1,1272.0 L1144.2,1282.7 L1144.2,1286.2 L1147.8,1296.8 L1144.2,1307.4 L1133.6,1318.1 L1140.7,1328.7 L1137.2,1339.3 L1135.4,1353.5 L1133.6,1367.6 L1130.1,1378.2 L1123.0,1385.3 L1124.8,1395.9 L1119.5,1406.5 L1123.0,1417.2 L1131.9,1424.2 L1133.6,1434.9 L1137.2,1449.0 L1144.2,1463.2 L1146.0,1477.3 L1144.2,1488.0 L1138.9,1498.6 L1135.4,1511.0 L1138.9,1525.1 L1144.2,1537.5 L1142.5,1551.7 L1154.9,1549.9 L1165.5,1551.7 L1174.3,1560.5 L1179.6,1569.4 L1168.1,1555.9 L1173.5,1566.5 L1178.8,1578.9 L1184.1,1593.1 L1189.4,1603.0 L1200.0,1596.6 L1207.1,1598.4 L1217.7,1593.1 L1228.3,1589.6 L1244.2,1587.8 L1249.6,1593.1 L1248.8,1607.3 L1247.8,1621.4 L1240.7,1632.0 L1244.2,1642.7 L1242.5,1653.3 L1247.8,1662.1 L1256.6,1669.2 L1267.3,1677.3 L1274.3,1679.8 L1279.6,1676.3 L1285.0,1662.1 L1293.8,1649.7 L1299.1,1639.1 L1295.6,1626.7 L1304.4,1619.6 L1302.7,1607.3 L1308.0,1593.1 L1302.7,1580.7 L1293.8,1571.9 L1299.1,1561.2 L1295.6,1550.6 L1302.7,1540.0 L1301.8,1562.3 L1298.2,1551.7 L1305.3,1541.1 L1312.4,1534.0 L1319.5,1525.1 L1315.9,1514.5 L1310.6,1503.9 L1307.1,1491.5 L1303.5,1480.9 L1307.1,1470.3 L1303.5,1459.6 L1300.0,1450.8 L1305.3,1438.4 L1303.5,1427.8 L1300.0,1413.6 L1294.7,1401.2 L1292.9,1388.8 L1287.6,1374.7 L1284.1,1364.1 L1282.3,1351.7 L1278.8,1339.3 L1273.5,1328.7 L1268.1,1316.3 L1264.6,1303.9 L1262.8,1293.3 L1257.5,1282.7 L1250.4,1275.6 L1241.6,1268.5 L1234.5,1257.9 L1225.7,1245.5 L1218.6,1233.1 L1211.5,1220.7 L1208.0,1211.9 L1204.4,1206.5 L1192.0,1198.8 L1181.4,1195.2 L1176.1,1189.9 L1163.7,1181.1 L1149.6,1170.4 L1135.4,1159.8 L1123.0,1151.0 L1114.2,1143.9 L1103.5,1133.3 L1094.7,1124.4 L1089.4,1113.8 L1075.2,1103.2 L1061.1,1090.8 L1050.4,1081.9 L1041.6,1071.3 L1034.5,1060.7 L1029.2,1050.1 L1031.0,1039.5 L1033.8,1029.0 L1022.6,1029.8 L1017.7,1032.7 L1005.3,1032.7 L994.1,1027.8 L987.9,1021.6 L978.0,1019.1 L965.6,1021.6 L955.7,1026.5Z" fill="#8cc63f" stroke="#8cc63f" stroke-width="1" stroke-linejoin="round"/>
<path d="M1143.4,1551.7 L1150.4,1550.6 L1161.1,1552.4 L1168.1,1555.9 L1173.5,1566.5 L1178.8,1578.9 L1184.1,1593.1 L1189.4,1603.0 L1200.0,1596.6 L1207.1,1598.4 L1217.7,1593.1 L1228.3,1589.6 L1244.2,1587.8 L1249.6,1593.1 L1248.8,1607.3 L1247.8,1621.4 L1240.7,1632.0 L1244.2,1642.7 L1242.5,1653.3 L1247.8,1662.1 L1256.6,1669.2 L1267.3,1677.3 L1263.7,1679.8 L1256.6,1688.7 L1246.0,1694.0 L1235.4,1697.5 L1224.8,1702.8 L1215.9,1706.4 L1203.5,1713.5 L1192.9,1720.5 L1184.1,1731.2 L1175.2,1740.0 L1161.1,1745.3 L1148.7,1752.4 L1141.6,1754.2 L1138.1,1745.3 L1132.7,1736.5 L1125.7,1741.8 L1116.8,1745.3 L1111.5,1740.0 L1100.9,1745.3 L1090.3,1750.6 L1079.6,1750.6 L1069.0,1747.1 L1061.9,1741.8 L1065.5,1732.9 L1069.0,1724.1 L1067.3,1715.2 L1076.1,1713.5 L1081.4,1702.8 L1079.6,1692.2 L1076.1,1685.1 L1065.5,1683.4 L1056.6,1679.8 L1051.3,1678.1 L1044.2,1672.7 L1037.2,1665.7 L1034.3,1660.4 L1035.4,1646.2 L1036.5,1632.0 L1036.5,1623.2 L1047.8,1623.2 L1060.2,1619.6 L1067.3,1612.6 L1079.6,1610.8 L1090.3,1603.7 L1099.1,1596.6 L1106.2,1591.3 L1110.8,1589.2 L1123.2,1592.4 L1135.6,1585.0 L1141.2,1569.7Z" fill="#ee4b6e" stroke="#ee4b6e" stroke-width="1" stroke-linejoin="round"/>
<path d="M994.7,1643.4 L1005.3,1646.2 L1019.5,1651.5 L1030.1,1652.6 L1034.3,1660.4 L1037.2,1665.7 L1044.2,1672.7 L1051.3,1678.1 L1056.6,1679.8 L1065.5,1683.4 L1076.1,1685.1 L1079.6,1692.2 L1081.4,1702.8 L1076.1,1713.5 L1067.3,1715.2 L1069.0,1724.1 L1065.5,1732.9 L1061.9,1741.8 L1069.0,1747.1 L1079.6,1750.6 L1090.3,1750.6 L1100.9,1745.3 L1111.5,1740.0 L1116.8,1745.3 L1125.7,1741.8 L1132.7,1736.5 L1138.1,1745.3 L1141.6,1754.2 L1136.3,1759.5 L1129.2,1764.8 L1118.6,1770.1 L1109.7,1773.6 L1100.9,1771.9 L1093.8,1777.9 L1088.5,1770.1 L1081.4,1773.6 L1072.6,1770.1 L1063.7,1766.5 L1061.9,1773.6 L1063.7,1784.2 L1060.2,1789.6 L1047.8,1787.8 L1030.1,1785.0 L1012.4,1784.2 L994.7,1784.2 L977.0,1785.0 L975.2,1794.9 L969.9,1798.4 L961.1,1794.9 L954.0,1789.6 L945.1,1784.2 L938.1,1780.7 L941.6,1770.1 L936.3,1761.2 L929.2,1755.9 L922.1,1748.8 L916.8,1738.2 L914.0,1731.2 L923.9,1729.4 L932.7,1724.1 L941.6,1727.6 L945.1,1724.1 L955.8,1720.5 L964.6,1717.0 L969.9,1725.8 L977.0,1732.9 L987.6,1734.7 L998.2,1734.7 L1007.1,1731.2 L1008.8,1722.3 L1007.1,1715.2 L1001.8,1706.4 L994.7,1697.5 L987.6,1688.7 L980.5,1681.6 L978.8,1671.0 L980.5,1662.1 L975.2,1655.0 L984.1,1651.5Z" fill="#2bb89a" stroke="#2bb89a" stroke-width="1" stroke-linejoin="round"/>
<path d="M900.0,1726.5 L912.4,1730.1 L915.9,1738.9 L923.0,1749.6 L930.1,1758.4 L940.7,1765.5 L944.2,1770.8 L940.7,1779.6 L947.8,1788.5 L954.9,1793.8 L965.5,1797.3 L976.1,1795.6 L979.6,1786.7 L993.8,1785.0 L1011.5,1785.7 L1029.2,1786.7 L1045.1,1790.3 L1057.5,1795.6 L1066.4,1800.9 L1061.1,1808.0 L1050.4,1809.7 L1039.8,1815.0 L1025.7,1818.6 L1036.3,1823.9 L1048.7,1822.1 L1055.8,1827.4 L1045.1,1829.2 L1038.1,1836.3 L1045.1,1845.1 L1043.4,1854.0 L1036.3,1858.6 L1025.7,1859.3 L1015.0,1857.5 L1008.0,1868.1 L1004.4,1877.0 L993.8,1880.5 L983.2,1885.8 L972.6,1889.4 L958.4,1894.7 L944.2,1901.8 L933.6,1908.8 L930.1,1919.5 L923.0,1930.1 L912.4,1940.7 L901.8,1949.6 L891.2,1954.9 L877.0,1956.6 L863.5,1954.2 L871.7,1947.8 L880.5,1942.5 L873.5,1935.4 L871.7,1926.5 L873.5,1912.4 L875.2,1894.7 L876.3,1877.0 L877.0,1862.8 L878.8,1848.7 L882.3,1838.1 L891.2,1827.4 L900.0,1818.6 L891.2,1813.3 L884.1,1806.2 L877.0,1799.1 L873.5,1792.0 L862.8,1788.5 L855.8,1797.3 L850.4,1788.5 L846.9,1779.6 L844.4,1776.1 L852.2,1769.0 L862.8,1765.5 L875.2,1765.5 L882.3,1760.2 L891.2,1753.1 L898.2,1746.0 L903.5,1738.9Z" fill="#6c62ae" stroke="#6c62ae" stroke-width="1" stroke-linejoin="round"/>
<g fill="none" stroke="#fffef4" stroke-width="2.5" stroke-linejoin="round" stroke-linecap="round">
<path d="M844.2,565.5 L847.8,580.4 L854.9,591.0 L863.7,601.6 L874.3,612.2 L886.7,621.1 L895.6,628.1 L902.7,640.5 L905.1,649.4 L907.3,660.4"/>
<path d="M764.6,575.0 L766.4,583.9 L777.0,584.6 L785.8,587.4 L784.1,598.1 L777.0,608.7 L768.1,614.0 L766.4,624.6"/>
<path d="M944.1,529.0 L936.3,534.3 L925.0,544.2 L936.3,550.3 L945.1,560.9 L952.2,573.3 L950.4,587.4 L943.4,598.1 L942.7,615.8 L948.7,629.9 L945.1,644.1 L945.1,661.8 L946.9,677.7"/>
<path d="M952.2,573.3 L957.5,564.4 L964.6,560.9 L969.9,568.0 L971.7,578.6 L982.3,582.1 L992.9,578.6 L1000.0,582.1 L1001.8,589.2 L1012.4,589.2 L1024.8,591.0 L1037.2,592.7"/>
<path d="M1001.8,589.2 L1008.8,599.8 L1008.8,612.2 L1001.8,622.8 L1000.0,637.0 L1003.5,651.2 L1012.4,658.2 L1007.1,667.1 L996.5,668.8 L994.7,686.5 L984.1,693.6"/>
<path d="M1007.1,672.4 L1017.7,681.2 L1031.9,688.3 L1037.2,675.9 L1049.6,668.8 L1063.7,670.6 L1074.3,686.5 L1083.2,690.1 L1083.2,704.2 L1074.3,711.3 L1060.2,713.1 L1042.5,707.8 L1030.1,709.6 L1021.2,714.9 L1019.5,725.5 L1007.1,736.1 L1000.0,750.3"/>
<path d="M1074.3,686.5 L1086.7,693.6 L1099.1,691.9 L1104.4,683.0 L1102.7,674.2 L1109.7,670.6"/>
<path d="M1031.9,720.2 L1042.5,724.8 L1056.6,727.3 L1063.7,732.6"/>
<path d="M984.1,739.6 L992.9,743.2 L1000.0,750.3 L1010.6,757.3 L1024.8,760.9 L1030.1,766.2 L1042.5,768.0"/>
<path d="M1021.2,791.0 L1012.4,780.4 L1003.5,771.5 L994.7,762.7 L987.6,752.0 L981.6,741.4 L978.8,729.0 L982.3,718.4 L985.1,707.8 L984.1,697.2 L980.5,691.9 L968.1,691.9 L957.5,682.3 L948.7,677.7 L934.5,677.7 L923.9,671.7 L913.3,662.5 L908.0,661.1 L899.1,664.6 L890.3,669.6 L887.4,679.5 L887.4,691.9 L881.4,694.3 L870.8,690.8 L856.6,690.8 L845.0,687.3 L836.5,678.8 L834.3,663.5 L831.9,660.0 L817.7,658.9 L801.8,657.2 L789.4,654.0 L781.2,645.8 L776.3,637.0 L771.7,627.1 L764.6,624.6 L754.0,624.6 L741.6,622.8 L725.7,619.3 L715.0,625.7 L706.2,628.8 L697.3,622.8 L693.8,612.2 L689.2,611.5 L686.7,615.8 L676.1,605.1 L665.5,593.8 L658.4,583.9 L650.3,577.5"/>
<path d="M761.1,626.4 L762.8,644.1 L761.1,661.8 L754.0,672.4 L746.9,686.5 L750.4,700.7 L752.2,707.8 L746.9,718.4 L736.3,723.7 L731.0,739.6"/>
<path d="M888.5,670.6 L886.7,690.1 L885.0,707.8 L886.7,721.9 L893.8,732.6 L900.9,743.2 L897.3,753.8 L881.4,755.6 L879.6,766.2 L893.8,768.0 L908.0,771.5 L920.4,780.4 L932.7,787.4 L946.9,792.7 L961.1,794.5 L961.1,787.4 L971.7,782.1 L969.9,762.7"/>
<path d="M968.1,693.6 L968.1,713.1 L945.1,711.3 L936.3,706.0 L934.5,698.9 L927.4,704.2 L925.7,723.7 L939.8,727.3 L948.7,739.6 L952.2,752.0 L957.5,760.9 L969.9,762.7 L987.6,760.9"/>
<path d="M895.0,830.8 L908.7,835.7 L912.4,841.9 L908.7,851.9 L913.6,859.3 L918.6,865.5 L921.1,874.2 L928.5,872.9 L938.4,879.1 L948.3,884.1 L955.7,891.5 L960.7,896.5 L968.1,896.5"/>
<path d="M918.6,964.6 L933.4,967.1 L948.3,967.1 L960.7,965.8 L965.6,958.4 L964.4,951.0 L961.9,944.8"/>
<path d="M918.6,780.0 L933.4,787.4 L948.3,791.1 L958.2,792.4 L963.2,785.0 L973.1,782.5"/>
<path d="M948.3,792.4 L958.2,802.3 L970.6,809.7 L983.0,817.2 L997.9,822.1 L992.9,829.6"/>
<path d="M955.7,1026.5 L965.6,1021.6 L978.0,1019.1 L987.9,1021.6 L994.1,1027.8 L1005.3,1032.7 L1017.7,1032.7 L1022.6,1029.8 L1033.8,1029.0"/>
<path d="M1121.2,1151.0 L1114.2,1159.8 L1103.5,1165.1 L1092.9,1168.7 L1096.5,1177.5 L1091.2,1188.1"/>
<path d="M1130.6,1217.9 L1144.2,1213.4 L1151.7,1222.1 L1157.9,1213.4 L1167.8,1209.0 L1172.7,1201.1 L1182.6,1198.6 L1195.0,1198.6"/>
<path d="M1144.2,1282.7 L1154.9,1289.7 L1169.0,1298.6 L1183.2,1305.7 L1188.5,1316.3 L1193.8,1323.4 L1199.1,1314.5 L1208.0,1316.3 L1206.2,1303.9 L1213.3,1293.3 L1225.7,1288.0 L1239.8,1282.7 L1252.2,1279.1"/>
<path d="M1131.9,1424.2 L1140.7,1410.1 L1154.9,1399.5 L1172.6,1392.4 L1190.3,1387.1 L1204.4,1381.8 L1215.0,1372.9 L1220.4,1360.5 L1232.7,1357.0 L1250.4,1355.2 L1268.1,1353.5 L1282.3,1351.7"/>
<path d="M1146.0,1486.2 L1161.9,1482.7 L1183.2,1479.1 L1200.9,1482.7 L1218.6,1488.0 L1225.7,1502.1 L1231.0,1514.5 L1241.6,1516.3 L1250.4,1509.2 L1262.8,1502.1 L1266.4,1491.5 L1261.1,1477.3 L1261.1,1463.2 L1275.2,1463.2 L1287.6,1456.1 L1294.7,1450.8 L1300.0,1452.6"/>
<path d="M1314.1,1531.1 L1291.8,1534.9 L1272.0,1543.5 L1267.1,1552.2 L1264.6,1564.6 L1247.2,1569.6 L1246.0,1585.7"/>
<path d="M1143.4,1551.7 L1150.4,1550.6 L1161.1,1552.4 L1168.1,1555.9 L1173.5,1566.5 L1178.8,1578.9 L1184.1,1593.1 L1189.4,1603.0 L1200.0,1596.6 L1207.1,1598.4 L1217.7,1593.1 L1228.3,1589.6 L1244.2,1587.8 L1249.6,1593.1 L1248.8,1607.3 L1247.8,1621.4 L1240.7,1632.0 L1244.2,1642.7 L1242.5,1653.3 L1247.8,1662.1 L1256.6,1669.2 L1267.3,1677.3"/>
<path d="M1108.0,1591.3 L1109.7,1603.7 L1111.5,1614.3 L1118.6,1623.2 L1120.4,1635.6 L1111.5,1646.2 L1115.0,1656.8 L1125.7,1665.7 L1129.2,1674.5 L1141.6,1679.8 L1136.3,1692.2 L1131.0,1702.8 L1127.4,1713.5 L1138.1,1720.5 L1141.6,1731.2 L1139.8,1741.8 L1138.1,1745.3"/>
<path d="M1141.6,1754.2 L1138.1,1745.3 L1132.7,1736.5 L1125.7,1741.8 L1116.8,1745.3 L1111.5,1740.0 L1100.9,1745.3 L1090.3,1750.6 L1079.6,1750.6 L1069.0,1747.1 L1061.9,1741.8 L1065.5,1732.9 L1069.0,1724.1 L1067.3,1715.2 L1076.1,1713.5 L1081.4,1702.8 L1079.6,1692.2 L1076.1,1685.1 L1065.5,1683.4 L1056.6,1679.8 L1051.3,1678.1 L1044.2,1672.7 L1037.2,1665.7 L1034.3,1660.4"/>
<path d="M1034.3,1660.4 L1028.3,1671.0 L1021.2,1679.8 L1023.0,1692.2 L1028.3,1702.8 L1026.5,1715.2 L1035.4,1724.1 L1038.9,1734.7 L1037.2,1743.5 L1047.8,1748.8 L1058.4,1752.4 L1060.2,1759.5 L1061.9,1768.3"/>
<path d="M945.1,1725.8 L955.8,1738.2 L966.4,1748.8 L977.0,1755.9 L991.2,1759.5 L1005.3,1757.7 L1015.9,1761.2 L1026.5,1768.3 L1037.2,1773.6 L1047.8,1771.9 L1061.9,1768.3"/>
<path d="M1060.2,1789.6 L1047.8,1787.8 L1030.1,1785.0 L1012.4,1784.2 L994.7,1784.2 L977.0,1785.0 L975.2,1794.9 L969.9,1798.4 L961.1,1794.9 L954.0,1789.6 L945.1,1784.2 L938.1,1780.7 L941.6,1770.1 L936.3,1761.2 L929.2,1755.9 L922.1,1748.8 L916.8,1738.2 L914.0,1731.2"/>
<path d="M940.7,1779.6 L935.4,1786.7 L930.1,1785.0 L928.3,1792.7 L921.2,1787.8 L912.4,1791.3 L921.2,1800.9 L930.1,1811.5 L938.9,1820.4 L940.7,1827.4 L933.6,1836.3 L926.5,1845.1 L928.3,1854.0 L917.7,1855.8 L915.9,1864.6 L919.5,1868.1 L914.2,1873.5 L901.8,1866.4 L891.2,1862.8 L877.0,1862.1"/>
<path d="M928.3,1854.0 L944.2,1854.7 L946.0,1866.4 L954.9,1873.5 L969.0,1875.2 L972.6,1887.6"/>
<path d="M960.2,1800.9 L972.6,1809.7 L983.2,1822.1 L993.8,1834.5 L1004.4,1846.9 L1013.3,1857.5"/>
</g>
</g>
<g id="rows" font-family="DejaVu Sans, Liberation Sans, sans-serif">
<defs><clipPath id="c31_0" clipPathUnits="userSpaceOnUse"><path clip-rule="evenodd" d="M-80,-50 H80 V15 H-80Z M-15.70,-6.80 H-8.42 V4 H-15.70Z M-0.75,-6.80 L3.17,-6.80 L2.92,-6.45 L2.72,-6.10 L2.56,-5.75 L2.43,-5.40 L2.34,-5.05 L2.27,-4.70 L2.23,-4.35 L2.22,-4.00 L2.24,-3.65 L2.29,-3.30 L2.36,-2.95 L2.46,-2.60 L2.60,-2.25 L2.77,-1.90 L2.99,-1.55 L3.25,-1.20 L3.57,-0.85 L3.97,-0.50 L4.50,-0.15 L5.30,0.20 L5.93,0.55 L5.93,0.90 L5.93,1.25 L5.93,1.60 L5.93,1.95 L5.93,2.30 L5.93,2.65 L5.93,3.00 L5.93,3.35 L5.93,3.70 L-0.75,4.00Z"/></clipPath><clipPath id="c31_5" clipPathUnits="userSpaceOnUse"><path clip-rule="evenodd" d="M-80,-50 H80 V15 H-80Z M-14.49,-6.80 H-7.21 V4 H-14.49Z M0.46,-6.80 L4.38,-6.80 L4.13,-6.45 L3.93,-6.10 L3.77,-5.75 L3.64,-5.40 L3.55,-5.05 L3.48,-4.70 L3.44,-4.35 L3.43,-4.00 L3.45,-3.65 L3.50,-3.30 L3.57,-2.95 L3.67,-2.60 L3.81,-2.25 L3.98,-1.90 L4.20,-1.55 L4.46,-1.20 L4.78,-0.85 L5.18,-0.50 L5.71,-0.15 L6.51,0.20 L7.13,0.55 L7.13,0.90 L7.13,1.25 L7.13,1.60 L7.13,1.95 L7.13,2.30 L7.13,2.65 L7.13,3.00 L7.13,3.35 L7.13,3.70 L0.46,4.00Z"/></clipPath><clipPath id="c51_0" clipPathUnits="userSpaceOnUse"><path clip-rule="evenodd" d="M-80,-50 H80 V15 H-80Z M-15.71,-6.80 H-8.42 V4 H-15.71Z M-0.75,-6.80 L3.17,-6.80 L2.92,-6.45 L2.72,-6.10 L2.56,-5.75 L2.43,-5.40 L2.34,-5.05 L2.27,-4.70 L2.23,-4.35 L2.22,-4.00 L2.24,-3.65 L2.29,-3.30 L2.36,-2.95 L2.46,-2.60 L2.60,-2.25 L2.77,-1.90 L2.99,-1.55 L3.25,-1.20 L3.57,-0.85 L3.97,-0.50 L4.50,-0.15 L5.30,0.20 L5.93,0.55 L5.93,0.90 L5.93,1.25 L5.93,1.60 L5.93,1.95 L5.93,2.30 L5.93,2.65 L5.93,3.00 L5.93,3.35 L5.93,3.70 L-0.75,4.00Z"/></clipPath><clipPath id="c41_5" clipPathUnits="userSpaceOnUse"><path clip-rule="evenodd" d="M-80,-50 H80 V15 H-80Z M-13.46,-6.80 H-6.09 V4 H-13.46Z M1.58,-6.80 L5.49,-6.80 L5.25,-6.45 L5.05,-6.10 L4.89,-5.75 L4.76,-5.40 L4.66,-5.05 L4.60,-4.70 L4.56,-4.35 L4.55,-4.00 L4.57,-3.65 L4.61,-3.30 L4.69,-2.95 L4.79,-2.60 L4.93,-2.25 L5.10,-1.90 L5.31,-1.55 L5.57,-1.20 L5.90,-0.85 L6.30,-0.50 L6.83,-0.15 L7.62,0.20 L8.25,0.55 L8.25,0.90 L8.25,1.25 L8.25,1.60 L8.25,1.95 L8.25,2.30 L8.25,2.65 L8.25,3.00 L8.25,3.35 L8.25,3.70 L1.58,4.00Z"/></clipPath></defs>
<g fill="none" stroke="#58585a" stroke-width="1.9" stroke-dasharray="5.4 2.6">
<path d="M723.5,436.0 L872.2,436.0 L872.2,611.6 L971.7,611.6"/>
<path d="M624.7,603.4 L753.0,603.4 L753.0,703.5 L889.2,703.5"/>
<path d="M624.7,766.2 L802.8,766.2 L802.8,798.0 L988.7,798.0"/>
<path d="M676.6,934.0 L862.8,934.0"/>
<path d="M791.2,1068.8 L910.6,1068.8 L910.6,1114.5 L1038.0,1114.5"/>
<path d="M745.6,1230.7 L933.2,1230.7 L933.2,1192.4 L1129.4,1192.4"/>
<path d="M697.3,1400.6 L928.3,1400.6 L928.3,1441.2 L1168.0,1441.2"/>
<path d="M697.3,1564.8 L1035.4,1564.8 L1035.4,1693.0"/>
<path d="M600.0,1731.9 L711.0,1731.9 L711.0,1670.0 L986.9,1670.0"/>
<path d="M623.5,1861.0 L759.3,1861.0 L759.3,1741.8 L930.3,1741.8"/>
<path d="M597.0,2028.0 L835.5,2028.0 L835.5,1840.3 L886.8,1840.3"/>
<path d="M869.5,2130.6 L892.9,2130.6 L892.9,1937.9"/>
<path d="M1147.0,504.2 L1054.2,504.2 L1054.2,683.0"/>
<path d="M1292.7,671.4 L1248.4,671.4 L1248.4,726.5 L968.1,726.5"/>
<path d="M1316.3,838.2 L1103.4,838.2 L1103.4,744.2 L1040.0,744.2"/>
<path d="M1195.2,965.1 L1021.3,965.1 L1021.3,782.1"/>
<path d="M1363.5,1135.7 L1294.0,1135.7 L1294.0,1244.8 L1214.3,1244.8"/>
<path d="M1438.0,1266.0 L1356.6,1266.0 L1356.6,1321.6 L1267.0,1321.6"/>
<path d="M1462.2,1398.8 L1420.4,1398.8 L1420.4,1488.0 L1304.2,1488.0"/>
<path d="M1365.6,1528.7 L1337.3,1528.7 L1337.3,1594.9 L1299.8,1594.9"/>
<path d="M1342.7,1666.4 L1323.2,1666.4 L1323.2,1703.5 L1215.2,1703.5"/>
<path d="M1265.6,1831.3 L1099.1,1831.3 L1099.1,1733.0"/>
<path d="M1115.3,1966.2 L1032.7,1966.2 L1032.7,1848.7"/>
<path d="M1020.2,2097.3 L982.5,2097.3 L982.5,1874.2"/>
</g>
<path d="M716.5,436.0 L726.1,431.4 L723.3,436.0 L726.1,440.6Z" fill="#555556"/>
<circle cx="971.7" cy="611.6" r="5.3" fill="#555557"/>
<path d="M617.7,603.4 L627.3,598.8 L624.5,603.4 L627.3,608.0Z" fill="#555556"/>
<circle cx="889.2" cy="703.5" r="5.3" fill="#555557"/>
<path d="M617.7,766.2 L627.3,761.6 L624.5,766.2 L627.3,770.8Z" fill="#555556"/>
<circle cx="988.7" cy="798.0" r="5.3" fill="#555557"/>
<path d="M669.6,934.0 L679.2,929.4 L676.4,934.0 L679.2,938.6Z" fill="#555556"/>
<circle cx="862.8" cy="934.0" r="5.3" fill="#555557"/>
<path d="M784.2,1068.8 L793.8,1064.2 L791.0,1068.8 L793.8,1073.4Z" fill="#555556"/>
<circle cx="1038.0" cy="1114.5" r="5.3" fill="#555557"/>
<path d="M738.6,1230.7 L748.2,1226.1 L745.4,1230.7 L748.2,1235.3Z" fill="#555556"/>
<circle cx="1129.4" cy="1192.4" r="5.3" fill="#555557"/>
<path d="M690.3,1400.6 L699.9,1396.0 L697.1,1400.6 L699.9,1405.2Z" fill="#555556"/>
<circle cx="1168.0" cy="1441.2" r="5.3" fill="#555557"/>
<path d="M690.3,1564.8 L699.9,1560.2 L697.1,1564.8 L699.9,1569.4Z" fill="#555556"/>
<circle cx="1035.4" cy="1693.0" r="5.3" fill="#555557"/>
<path d="M593.0,1731.9 L602.6,1727.3 L599.8,1731.9 L602.6,1736.5Z" fill="#555556"/>
<circle cx="986.9" cy="1670.0" r="5.3" fill="#555557"/>
<path d="M616.5,1861.0 L626.1,1856.4 L623.3,1861.0 L626.1,1865.6Z" fill="#555556"/>
<circle cx="930.3" cy="1741.8" r="5.3" fill="#555557"/>
<path d="M590.0,2028.0 L599.6,2023.4 L596.8,2028.0 L599.6,2032.6Z" fill="#555556"/>
<circle cx="886.8" cy="1840.3" r="5.3" fill="#555557"/>
<path d="M862.5,2130.6 L872.1,2126.0 L869.3,2130.6 L872.1,2135.2Z" fill="#555556"/>
<circle cx="892.9" cy="1937.9" r="5.3" fill="#555557"/>
<path d="M1154.0,504.2 L1144.4,508.8 L1147.2,504.2 L1144.4,499.6Z" fill="#555556"/>
<circle cx="1054.2" cy="683.0" r="5.3" fill="#555557"/>
<path d="M1299.7,671.4 L1290.1,676.0 L1292.9,671.4 L1290.1,666.8Z" fill="#555556"/>
<circle cx="968.1" cy="726.5" r="5.3" fill="#555557"/>
<path d="M1323.3,838.2 L1313.7,842.8 L1316.5,838.2 L1313.7,833.6Z" fill="#555556"/>
<circle cx="1040.0" cy="744.2" r="5.3" fill="#555557"/>
<path d="M1202.2,965.1 L1192.6,969.7 L1195.4,965.1 L1192.6,960.5Z" fill="#555556"/>
<circle cx="1021.3" cy="782.1" r="5.3" fill="#555557"/>
<path d="M1370.5,1135.7 L1360.9,1140.3 L1363.7,1135.7 L1360.9,1131.1Z" fill="#555556"/>
<circle cx="1214.3" cy="1244.8" r="5.3" fill="#555557"/>
<path d="M1445.0,1266.0 L1435.4,1270.6 L1438.2,1266.0 L1435.4,1261.4Z" fill="#555556"/>
<circle cx="1267.0" cy="1321.6" r="5.3" fill="#555557"/>
<path d="M1469.2,1398.8 L1459.6,1403.4 L1462.4,1398.8 L1459.6,1394.2Z" fill="#555556"/>
<circle cx="1304.2" cy="1488.0" r="5.3" fill="#555557"/>
<path d="M1372.6,1528.7 L1363.0,1533.3 L1365.8,1528.7 L1363.0,1524.1Z" fill="#555556"/>
<circle cx="1299.8" cy="1594.9" r="5.3" fill="#555557"/>
<path d="M1349.7,1666.4 L1340.1,1671.0 L1342.9,1666.4 L1340.1,1661.8Z" fill="#555556"/>
<circle cx="1215.2" cy="1703.5" r="5.3" fill="#555557"/>
<path d="M1272.6,1831.3 L1263.0,1835.9 L1265.8,1831.3 L1263.0,1826.7Z" fill="#555556"/>
<circle cx="1099.1" cy="1733.0" r="5.3" fill="#555557"/>
<path d="M1122.3,1966.2 L1112.7,1970.8 L1115.5,1966.2 L1112.7,1961.6Z" fill="#555556"/>
<circle cx="1032.7" cy="1848.7" r="5.3" fill="#555557"/>
<path d="M1027.2,2097.3 L1017.6,2101.9 L1020.4,2097.3 L1017.6,2092.7Z" fill="#555556"/>
<circle cx="982.5" cy="1874.2" r="5.3" fill="#555557"/>
<text x="534.0" y="445.5" font-size="21.8" fill="#161616" textLength="172.0" lengthAdjust="spacingAndGlyphs" class="lb" stroke="#161616" stroke-width="0.35" stroke-linejoin="round">THÁI NGUYÊN</text>
<use href="#ic-duck" transform="translate(125.7,457.0) scale(1.000)"/>
<text transform="translate(258.0,498.8) scale(1.075,1)" y="0" font-size="36.9" fill="#c4111a" stroke="#c4111a" stroke-width="1.4" stroke-linejoin="round" class="nm" clip-path="url(#c31_0)"><tspan x="-39.5" y="0">3</tspan><tspan x="-18.3" y="0">1</tspan><tspan x="4.6" y="-3.0" font-size="11.1" stroke-width="6.0">.</tspan><tspan x="12.8" y="0">0</tspan></text>
<use href="#ic-laimia" transform="translate(321.6,452.0) scale(1.000)"/>
<text transform="translate(454.9,498.8) scale(1.075,1)" y="0" font-size="36.9" fill="#404041" stroke="#404041" stroke-width="1.4" stroke-linejoin="round" class="nm"><tspan x="-43.0" y="0">4</tspan><tspan x="-17.4" y="0">9</tspan><tspan x="11.4" y="-3.0" font-size="11.1" stroke-width="6.0">.</tspan><tspan x="18.3" y="0">5</tspan></text>
<use href="#ic-rilai" transform="translate(527.6,452.5) scale(1.000)"/>
<text transform="translate(650.9,498.8) scale(1.075,1)" y="0" font-size="36.9" fill="#c4111a" stroke="#c4111a" stroke-width="1.4" stroke-linejoin="round" class="nm"><tspan x="-43.9" y="0">5</tspan><tspan x="-18.7" y="0">0</tspan><tspan x="11.0" y="-3.0" font-size="11.1" stroke-width="6.0">.</tspan><tspan x="17.9" y="0">5</tspan></text>

<text x="495.7" y="611.0" font-size="21.8" fill="#161616" textLength="113.7" lengthAdjust="spacingAndGlyphs" class="lb" stroke="#161616" stroke-width="0.35" stroke-linejoin="round">PHÚ THỌ</text>
<use href="#ic-duck" transform="translate(27.6,622.5) scale(1.000)"/>
<text transform="translate(160.9,664.5) scale(1.075,1)" y="0" font-size="36.9" fill="#c4111a" stroke="#c4111a" stroke-width="1.4" stroke-linejoin="round" class="nm"><tspan x="-43.5" y="0">3</tspan><tspan x="-18.7" y="0">0</tspan><tspan x="11.0" y="-3.0" font-size="11.1" stroke-width="6.0">.</tspan><tspan x="17.9" y="0">5</tspan></text>
<use href="#ic-laimia" transform="translate(224.0,617.5) scale(1.000)"/>
<text transform="translate(356.9,664.5) scale(1.075,1)" y="0" font-size="36.9" fill="#404041" stroke="#404041" stroke-width="1.4" stroke-linejoin="round" class="nm"><tspan x="-43.9" y="0">5</tspan><tspan x="-18.7" y="0">0</tspan><tspan x="11.0" y="-3.0" font-size="11.1" stroke-width="6.0">.</tspan><tspan x="17.9" y="0">5</tspan></text>
<use href="#ic-rilai" transform="translate(425.0,618.0) scale(1.000)"/>
<text transform="translate(552.4,664.5) scale(1.075,1)" y="0" font-size="36.9" fill="#404041" stroke="#404041" stroke-width="1.4" stroke-linejoin="round" class="nm"><tspan x="-43.9" y="0">5</tspan><tspan x="-18.7" y="0">0</tspan><tspan x="11.0" y="-3.0" font-size="11.1" stroke-width="6.0">.</tspan><tspan x="17.9" y="0">5</tspan></text>

<text x="472.0" y="777.6" font-size="21.8" fill="#161616" textLength="135.7" lengthAdjust="spacingAndGlyphs" class="lb" stroke="#161616" stroke-width="0.35" stroke-linejoin="round">NINH BÌNH</text>
<use href="#ic-duck" transform="translate(22.4,789.1) scale(1.000)"/>
<text transform="translate(160.8,830.9) scale(1.075,1)" y="0" font-size="36.9" fill="#c4111a" stroke="#c4111a" stroke-width="1.4" stroke-linejoin="round" class="nm" clip-path="url(#c31_5)"><tspan x="-38.3" y="0">3</tspan><tspan x="-17.1" y="0">1</tspan><tspan x="5.8" y="-3.0" font-size="11.1" stroke-width="6.0">.</tspan><tspan x="12.7" y="0">5</tspan></text>
<use href="#ic-laimia" transform="translate(224.2,784.1) scale(1.000)"/>
<text transform="translate(357.0,830.9) scale(1.075,1)" y="0" font-size="36.9" fill="#404041" stroke="#404041" stroke-width="1.4" stroke-linejoin="round" class="nm"><tspan x="-43.9" y="0">5</tspan><tspan x="-18.7" y="0">0</tspan><tspan x="11.0" y="-3.0" font-size="11.1" stroke-width="6.0">.</tspan><tspan x="17.9" y="0">5</tspan></text>
<use href="#ic-rilai" transform="translate(423.6,784.6) scale(1.000)"/>
<text transform="translate(551.6,830.9) scale(1.075,1)" y="0" font-size="36.9" fill="#404041" stroke="#404041" stroke-width="1.4" stroke-linejoin="round" class="nm" clip-path="url(#c51_0)"><tspan x="-39.9" y="0">5</tspan><tspan x="-18.3" y="0">1</tspan><tspan x="4.6" y="-3.0" font-size="11.1" stroke-width="6.0">.</tspan><tspan x="12.8" y="0">0</tspan></text>

<text x="541.6" y="942.8" font-size="21.8" fill="#161616" textLength="115.0" lengthAdjust="spacingAndGlyphs" class="lb" stroke="#161616" stroke-width="0.35" stroke-linejoin="round">NGHỆ AN</text>
<use href="#ic-duck" transform="translate(72.6,954.3) scale(1.000)"/>
<text transform="translate(209.4,996.1) scale(1.075,1)" y="0" font-size="36.9" fill="#c4111a" stroke="#c4111a" stroke-width="1.4" stroke-linejoin="round" class="nm" clip-path="url(#c31_0)"><tspan x="-39.5" y="0">3</tspan><tspan x="-18.3" y="0">1</tspan><tspan x="4.6" y="-3.0" font-size="11.1" stroke-width="6.0">.</tspan><tspan x="12.8" y="0">0</tspan></text>
<use href="#ic-laimia" transform="translate(274.3,949.3) scale(1.000)"/>
<text transform="translate(406.0,996.1) scale(1.075,1)" y="0" font-size="36.9" fill="#404041" stroke="#404041" stroke-width="1.4" stroke-linejoin="round" class="nm"><tspan x="-43.0" y="0">4</tspan><tspan x="-17.4" y="0">9</tspan><tspan x="11.4" y="-3.0" font-size="11.1" stroke-width="6.0">.</tspan><tspan x="18.3" y="0">5</tspan></text>
<use href="#ic-rilai" transform="translate(476.7,949.8) scale(1.000)"/>
<text transform="translate(601.5,996.1) scale(1.075,1)" y="0" font-size="36.9" fill="#404041" stroke="#404041" stroke-width="1.4" stroke-linejoin="round" class="nm"><tspan x="-43.9" y="0">5</tspan><tspan x="-18.7" y="0">0</tspan><tspan x="11.0" y="-3.0" font-size="11.1" stroke-width="6.0">.</tspan><tspan x="17.9" y="0">5</tspan></text>

<text x="641.3" y="1076.7" font-size="21.8" fill="#161616" textLength="138.7" lengthAdjust="spacingAndGlyphs" class="lb" stroke="#161616" stroke-width="0.35" stroke-linejoin="round">QUẢNG TRỊ</text>
<use href="#ic-duck" transform="translate(370.5,1089.2) scale(1.000)"/>
<text transform="translate(503.8,1130.4) scale(1.075,1)" y="0" font-size="36.9" fill="#c4111a" stroke="#c4111a" stroke-width="1.4" stroke-linejoin="round" class="nm"><tspan x="-42.0" y="0">3</tspan><tspan x="-18.5" y="0">7</tspan><tspan x="9.5" y="-3.0" font-size="11.1" stroke-width="6.0">.</tspan><tspan x="16.4" y="0">5</tspan></text>
<use href="#ic-green" transform="translate(578.0,1083.2) scale(1.000)"/>
<text transform="translate(700.0,1130.4) scale(1.075,1)" y="0" font-size="36.9" fill="#404041" stroke="#404041" stroke-width="1.4" stroke-linejoin="round" class="nm"><tspan x="-42.5" y="0">4</tspan><tspan x="-17.3" y="0">3</tspan><tspan x="10.9" y="-3.0" font-size="11.1" stroke-width="6.0">.</tspan><tspan x="17.8" y="0">5</tspan></text>

<text x="641.3" y="1241.9" font-size="21.8" fill="#161616" textLength="90.3" lengthAdjust="spacingAndGlyphs" class="lb" stroke="#161616" stroke-width="0.35" stroke-linejoin="round">TP HUẾ</text>
<use href="#ic-duck" transform="translate(318.6,1254.4) scale(1.000)"/>
<text transform="translate(454.3,1295.6) scale(1.075,1)" y="0" font-size="36.9" fill="#c4111a" stroke="#c4111a" stroke-width="1.4" stroke-linejoin="round" class="nm"><tspan x="-43.2" y="0">3</tspan><tspan x="-19.7" y="0">7</tspan><tspan x="8.3" y="-3.0" font-size="11.1" stroke-width="6.0">.</tspan><tspan x="16.6" y="0">0</tspan></text>
<use href="#ic-green" transform="translate(524.0,1248.4) scale(1.000)"/>
<text transform="translate(651.0,1295.6) scale(1.075,1)" y="0" font-size="36.9" fill="#404041" stroke="#404041" stroke-width="1.4" stroke-linejoin="round" class="nm"><tspan x="-42.5" y="0">4</tspan><tspan x="-17.3" y="0">3</tspan><tspan x="10.9" y="-3.0" font-size="11.1" stroke-width="6.0">.</tspan><tspan x="17.8" y="0">5</tspan></text>

<text x="591.0" y="1408.3" font-size="21.8" fill="#161616" textLength="90.4" lengthAdjust="spacingAndGlyphs" class="lb" stroke="#161616" stroke-width="0.35" stroke-linejoin="round">GIA LAI</text>
<use href="#ic-duck" transform="translate(273.0,1421.3) scale(1.000)"/>
<text transform="translate(405.0,1463.2) scale(1.075,1)" y="0" font-size="36.9" fill="#c4111a" stroke="#c4111a" stroke-width="1.4" stroke-linejoin="round" class="nm"><tspan x="-44.0" y="0">3</tspan><tspan x="-20.1" y="0">6</tspan><tspan x="9.1" y="-3.0" font-size="11.1" stroke-width="6.0">.</tspan><tspan x="17.3" y="0">0</tspan></text>
<use href="#ic-green" transform="translate(473.7,1415.3) scale(1.000)"/>
<text transform="translate(602.3,1463.2) scale(1.075,1)" y="0" font-size="36.9" fill="#404041" stroke="#404041" stroke-width="1.4" stroke-linejoin="round" class="nm"><tspan x="-42.5" y="0">4</tspan><tspan x="-17.3" y="0">3</tspan><tspan x="10.9" y="-3.0" font-size="11.1" stroke-width="6.0">.</tspan><tspan x="17.8" y="0">5</tspan></text>

<text x="478.0" y="1573.5" font-size="21.8" fill="#161616" textLength="203.4" lengthAdjust="spacingAndGlyphs" class="lb" stroke="#161616" stroke-width="0.35" stroke-linejoin="round">TP HỒ CHÍ MINH</text>
<use href="#ic-duck" transform="translate(100.3,1586.0) scale(1.000)"/>
<text transform="translate(234.5,1628.0) scale(1.075,1)" y="0" font-size="36.9" fill="#0a9055" stroke="#0a9055" stroke-width="1.4" stroke-linejoin="round" class="nm" clip-path="url(#c41_5)"><tspan x="-38.5" y="0">4</tspan><tspan x="-16.0" y="0">1</tspan><tspan x="6.9" y="-3.0" font-size="11.1" stroke-width="6.0">.</tspan><tspan x="13.8" y="0">5</tspan></text>
<use href="#ic-green" transform="translate(302.6,1580.0) scale(1.000)"/>
<text transform="translate(430.0,1628.0) scale(1.075,1)" y="0" font-size="36.9" fill="#404041" stroke="#404041" stroke-width="1.4" stroke-linejoin="round" class="nm"><tspan x="-42.0" y="0">3</tspan><tspan x="-18.5" y="0">7</tspan><tspan x="9.5" y="-3.0" font-size="11.1" stroke-width="6.0">.</tspan><tspan x="16.4" y="0">5</tspan></text>
<use href="#ic-cyan" transform="translate(506.0,1576.0) scale(1.000)"/>
<text transform="translate(626.3,1628.0) scale(1.075,1)" y="0" font-size="36.9" fill="#404041" stroke="#404041" stroke-width="1.4" stroke-linejoin="round" class="nm"><tspan x="-43.0" y="0">4</tspan><tspan x="-17.7" y="0">6</tspan><tspan x="11.4" y="-3.0" font-size="11.1" stroke-width="6.0">.</tspan><tspan x="18.3" y="0">5</tspan></text>

<text x="463.0" y="1740.0" font-size="21.8" fill="#161616" textLength="121.0" lengthAdjust="spacingAndGlyphs" class="lb" stroke="#161616" stroke-width="0.35" stroke-linejoin="round">TÂY NINH</text>
<use href="#ic-duck" transform="translate(98.5,1752.5) scale(1.000)"/>
<text transform="translate(234.5,1794.3) scale(1.075,1)" y="0" font-size="36.9" fill="#0a9055" stroke="#0a9055" stroke-width="1.4" stroke-linejoin="round" class="nm"><tspan x="-43.7" y="0">4</tspan><tspan x="-18.6" y="0">3</tspan><tspan x="9.7" y="-3.0" font-size="11.1" stroke-width="6.0">.</tspan><tspan x="18.0" y="0">0</tspan></text>
<use href="#ic-green" transform="translate(306.8,1742.5) scale(1.000)"/>
<text transform="translate(430.0,1794.3) scale(1.075,1)" y="0" font-size="36.9" fill="#404041" stroke="#404041" stroke-width="1.4" stroke-linejoin="round" class="nm"><tspan x="-44.0" y="0">3</tspan><tspan x="-19.9" y="0">8</tspan><tspan x="9.1" y="-3.0" font-size="11.1" stroke-width="6.0">.</tspan><tspan x="17.3" y="0">0</tspan></text>
<use href="#ic-cyan" transform="translate(506.0,1742.5) scale(1.000)"/>
<text transform="translate(626.3,1794.3) scale(1.075,1)" y="0" font-size="36.9" fill="#404041" stroke="#404041" stroke-width="1.4" stroke-linejoin="round" class="nm"><tspan x="-43.0" y="0">4</tspan><tspan x="-17.7" y="0">6</tspan><tspan x="11.4" y="-3.0" font-size="11.1" stroke-width="6.0">.</tspan><tspan x="18.3" y="0">5</tspan></text>

<text x="457.0" y="1872.9" font-size="21.8" fill="#161616" textLength="150.7" lengthAdjust="spacingAndGlyphs" class="lb" stroke="#161616" stroke-width="0.35" stroke-linejoin="round">ĐỒNG THÁP</text>
<use href="#ic-duck" transform="translate(27.7,1885.4) scale(1.000)"/>
<text transform="translate(160.8,1926.6) scale(1.075,1)" y="0" font-size="36.9" fill="#404041" stroke="#404041" stroke-width="1.4" stroke-linejoin="round" class="nm"><tspan x="-43.7" y="0">4</tspan><tspan x="-18.6" y="0">3</tspan><tspan x="9.7" y="-3.0" font-size="11.1" stroke-width="6.0">.</tspan><tspan x="18.0" y="0">0</tspan></text>
<use href="#ic-green" transform="translate(237.8,1879.4) scale(1.000)"/>
<text transform="translate(356.0,1926.6) scale(1.075,1)" y="0" font-size="36.9" fill="#c4111a" stroke="#c4111a" stroke-width="1.4" stroke-linejoin="round" class="nm"><tspan x="-44.0" y="0">3</tspan><tspan x="-19.7" y="0">9</tspan><tspan x="9.1" y="-3.0" font-size="11.1" stroke-width="6.0">.</tspan><tspan x="17.3" y="0">0</tspan></text>
<use href="#ic-cyan" transform="translate(426.5,1875.4) scale(1.000)"/>
<text transform="translate(552.8,1926.6) scale(1.075,1)" y="0" font-size="36.9" fill="#0a9055" stroke="#0a9055" stroke-width="1.4" stroke-linejoin="round" class="nm"><tspan x="-43.4" y="0">4</tspan><tspan x="-18.6" y="0">7</tspan><tspan x="9.4" y="-3.0" font-size="11.1" stroke-width="6.0">.</tspan><tspan x="17.7" y="0">0</tspan></text>

<text x="458.4" y="2038.0" font-size="21.8" fill="#161616" textLength="125.6" lengthAdjust="spacingAndGlyphs" class="lb" stroke="#161616" stroke-width="0.35" stroke-linejoin="round">AN GIANG</text>
<use href="#ic-duck" transform="translate(3.0,2050.5) scale(1.000)"/>
<text transform="translate(136.3,2091.7) scale(1.075,1)" y="0" font-size="36.9" fill="#404041" stroke="#404041" stroke-width="1.4" stroke-linejoin="round" class="nm"><tspan x="-43.7" y="0">4</tspan><tspan x="-18.6" y="0">3</tspan><tspan x="9.7" y="-3.0" font-size="11.1" stroke-width="6.0">.</tspan><tspan x="18.0" y="0">0</tspan></text>
<use href="#ic-green" transform="translate(209.4,2044.5) scale(1.000)"/>
<text transform="translate(332.4,2091.7) scale(1.075,1)" y="0" font-size="36.9" fill="#c4111a" stroke="#c4111a" stroke-width="1.4" stroke-linejoin="round" class="nm"><tspan x="-44.9" y="0">4</tspan><tspan x="-18.8" y="0">0</tspan><tspan x="10.9" y="-3.0" font-size="11.1" stroke-width="6.0">.</tspan><tspan x="19.2" y="0">0</tspan></text>
<use href="#ic-cyan" transform="translate(406.0,2040.5) scale(1.000)"/>
<text transform="translate(528.6,2091.7) scale(1.075,1)" y="0" font-size="36.9" fill="#0a9055" stroke="#0a9055" stroke-width="1.4" stroke-linejoin="round" class="nm"><tspan x="-43.4" y="0">4</tspan><tspan x="-18.6" y="0">7</tspan><tspan x="9.4" y="-3.0" font-size="11.1" stroke-width="6.0">.</tspan><tspan x="17.7" y="0">0</tspan></text>

<text x="753.4" y="2138.3" font-size="21.8" fill="#161616" textLength="100.3" lengthAdjust="spacingAndGlyphs" class="lb" stroke="#161616" stroke-width="0.35" stroke-linejoin="round">CÀ MAU</text>
<use href="#ic-duck" transform="translate(272.6,2151.4) scale(1.000)"/>
<text transform="translate(405.6,2193.0) scale(1.075,1)" y="0" font-size="36.9" fill="#404041" stroke="#404041" stroke-width="1.4" stroke-linejoin="round" class="nm"><tspan x="-43.7" y="0">4</tspan><tspan x="-18.6" y="0">3</tspan><tspan x="9.7" y="-3.0" font-size="11.1" stroke-width="6.0">.</tspan><tspan x="18.0" y="0">0</tspan></text>
<use href="#ic-green" transform="translate(478.0,2147.8) scale(1.000)"/>
<text transform="translate(601.2,2193.0) scale(1.075,1)" y="0" font-size="36.9" fill="#c4111a" stroke="#c4111a" stroke-width="1.4" stroke-linejoin="round" class="nm"><tspan x="-42.7" y="0">3</tspan><tspan x="-18.5" y="0">9</tspan><tspan x="10.3" y="-3.0" font-size="11.1" stroke-width="6.0">.</tspan><tspan x="17.2" y="0">5</tspan></text>
<use href="#ic-cyan" transform="translate(674.3,2141.4) scale(1.000)"/>
<text transform="translate(797.0,2193.0) scale(1.075,1)" y="0" font-size="36.9" fill="#0a9055" stroke="#0a9055" stroke-width="1.4" stroke-linejoin="round" class="nm"><tspan x="-43.4" y="0">4</tspan><tspan x="-18.6" y="0">7</tspan><tspan x="9.4" y="-3.0" font-size="11.1" stroke-width="6.0">.</tspan><tspan x="17.7" y="0">0</tspan></text>

<text x="1158.0" y="512.0" font-size="21.8" fill="#161616" textLength="125.8" lengthAdjust="spacingAndGlyphs" class="lb" stroke="#161616" stroke-width="0.35" stroke-linejoin="round">BẮC NINH</text>
<use href="#ic-duck" transform="translate(1154.0,524.5) scale(1.000)"/>
<text transform="translate(1286.4,565.7) scale(1.075,1)" y="0" font-size="36.9" fill="#c4111a" stroke="#c4111a" stroke-width="1.4" stroke-linejoin="round" class="nm" clip-path="url(#c31_5)"><tspan x="-38.3" y="0">3</tspan><tspan x="-17.1" y="0">1</tspan><tspan x="5.8" y="-3.0" font-size="11.1" stroke-width="6.0">.</tspan><tspan x="12.7" y="0">5</tspan></text>
<use href="#ic-laimia" transform="translate(1349.8,519.5) scale(1.000)"/>
<text transform="translate(1482.0,565.7) scale(1.075,1)" y="0" font-size="36.9" fill="#404041" stroke="#404041" stroke-width="1.4" stroke-linejoin="round" class="nm"><tspan x="-45.1" y="0">5</tspan><tspan x="-19.9" y="0">0</tspan><tspan x="9.8" y="-3.0" font-size="11.1" stroke-width="6.0">.</tspan><tspan x="18.0" y="0">0</tspan></text>
<use href="#ic-rilai" transform="translate(1556.3,520.0) scale(1.000)"/>
<text transform="translate(1677.8,565.7) scale(1.075,1)" y="0" font-size="36.9" fill="#c4111a" stroke="#c4111a" stroke-width="1.4" stroke-linejoin="round" class="nm"><tspan x="-45.1" y="0">5</tspan><tspan x="-19.9" y="0">0</tspan><tspan x="9.8" y="-3.0" font-size="11.1" stroke-width="6.0">.</tspan><tspan x="18.0" y="0">0</tspan></text>

<text x="1352.8" y="678.5" font-size="21.8" fill="#161616" textLength="129.8" lengthAdjust="spacingAndGlyphs" class="lb" stroke="#161616" stroke-width="0.35" stroke-linejoin="round">TP HÀ NỘI</text>
<use href="#ic-duck" transform="translate(1345.7,690.5) scale(1.000)"/>
<text transform="translate(1482.9,731.0) scale(1.075,1)" y="0" font-size="36.9" fill="#c4111a" stroke="#c4111a" stroke-width="1.4" stroke-linejoin="round" class="nm" clip-path="url(#c31_5)"><tspan x="-38.3" y="0">3</tspan><tspan x="-17.1" y="0">1</tspan><tspan x="5.8" y="-3.0" font-size="11.1" stroke-width="6.0">.</tspan><tspan x="12.7" y="0">5</tspan></text>
<use href="#ic-laimia" transform="translate(1550.4,685.5) scale(1.000)"/>
<text transform="translate(1677.3,731.0) scale(1.075,1)" y="0" font-size="36.9" fill="#404041" stroke="#404041" stroke-width="1.4" stroke-linejoin="round" class="nm" clip-path="url(#c51_0)"><tspan x="-39.9" y="0">5</tspan><tspan x="-18.3" y="0">1</tspan><tspan x="4.6" y="-3.0" font-size="11.1" stroke-width="6.0">.</tspan><tspan x="12.8" y="0">0</tspan></text>
<use href="#ic-rilai" transform="translate(1745.0,686.0) scale(1.000)"/>
<text transform="translate(1873.4,731.0) scale(1.075,1)" y="0" font-size="36.9" fill="#404041" stroke="#404041" stroke-width="1.4" stroke-linejoin="round" class="nm" clip-path="url(#c51_0)"><tspan x="-39.9" y="0">5</tspan><tspan x="-18.3" y="0">1</tspan><tspan x="4.6" y="-3.0" font-size="11.1" stroke-width="6.0">.</tspan><tspan x="12.8" y="0">0</tspan></text>

<text x="1329.2" y="843.7" font-size="21.8" fill="#161616" textLength="184.0" lengthAdjust="spacingAndGlyphs" class="lb" stroke="#161616" stroke-width="0.35" stroke-linejoin="round">TP HẢI PHÒNG</text>
<use href="#ic-duck" transform="translate(1334.0,856.2) scale(1.000)"/>
<text transform="translate(1482.9,897.4) scale(1.075,1)" y="0" font-size="36.9" fill="#c4111a" stroke="#c4111a" stroke-width="1.4" stroke-linejoin="round" class="nm" clip-path="url(#c31_5)"><tspan x="-38.3" y="0">3</tspan><tspan x="-17.1" y="0">1</tspan><tspan x="5.8" y="-3.0" font-size="11.1" stroke-width="6.0">.</tspan><tspan x="12.7" y="0">5</tspan></text>
<use href="#ic-laimia" transform="translate(1550.4,851.2) scale(1.000)"/>
<text transform="translate(1678.7,897.4) scale(1.075,1)" y="0" font-size="36.9" fill="#404041" stroke="#404041" stroke-width="1.4" stroke-linejoin="round" class="nm"><tspan x="-43.0" y="0">4</tspan><tspan x="-17.4" y="0">9</tspan><tspan x="11.4" y="-3.0" font-size="11.1" stroke-width="6.0">.</tspan><tspan x="18.3" y="0">5</tspan></text>
<use href="#ic-rilai" transform="translate(1745.0,851.7) scale(1.000)"/>
<text transform="translate(1874.6,897.4) scale(1.075,1)" y="0" font-size="36.9" fill="#c4111a" stroke="#c4111a" stroke-width="1.4" stroke-linejoin="round" class="nm"><tspan x="-43.9" y="0">5</tspan><tspan x="-18.7" y="0">0</tspan><tspan x="11.0" y="-3.0" font-size="11.1" stroke-width="6.0">.</tspan><tspan x="17.9" y="0">5</tspan></text>

<text x="1207.0" y="976.4" font-size="21.8" fill="#161616" textLength="132.2" lengthAdjust="spacingAndGlyphs" class="lb" stroke="#161616" stroke-width="0.35" stroke-linejoin="round">HƯNG YÊN</text>
<use href="#ic-duck" transform="translate(1202.3,988.9) scale(1.000)"/>
<text transform="translate(1335.4,1030.1) scale(1.075,1)" y="0" font-size="36.9" fill="#c4111a" stroke="#c4111a" stroke-width="1.4" stroke-linejoin="round" class="nm" clip-path="url(#c31_5)"><tspan x="-38.3" y="0">3</tspan><tspan x="-17.1" y="0">1</tspan><tspan x="5.8" y="-3.0" font-size="11.1" stroke-width="6.0">.</tspan><tspan x="12.7" y="0">5</tspan></text>
<use href="#ic-laimia" transform="translate(1400.0,983.9) scale(1.000)"/>
<text transform="translate(1531.8,1030.1) scale(1.075,1)" y="0" font-size="36.9" fill="#404041" stroke="#404041" stroke-width="1.4" stroke-linejoin="round" class="nm"><tspan x="-43.0" y="0">4</tspan><tspan x="-17.4" y="0">9</tspan><tspan x="11.4" y="-3.0" font-size="11.1" stroke-width="6.0">.</tspan><tspan x="18.3" y="0">5</tspan></text>
<use href="#ic-rilai" transform="translate(1605.3,984.4) scale(1.000)"/>
<text transform="translate(1728.3,1030.1) scale(1.075,1)" y="0" font-size="36.9" fill="#c4111a" stroke="#c4111a" stroke-width="1.4" stroke-linejoin="round" class="nm"><tspan x="-43.0" y="0">4</tspan><tspan x="-17.4" y="0">9</tspan><tspan x="11.4" y="-3.0" font-size="11.1" stroke-width="6.0">.</tspan><tspan x="18.3" y="0">5</tspan></text>

<text x="1352.8" y="1109.0" font-size="21.8" fill="#161616" textLength="158.0" lengthAdjust="spacingAndGlyphs" class="lb" stroke="#161616" stroke-width="0.35" stroke-linejoin="round">TP ĐÀ NẴNG</text>
<use href="#ic-duck" transform="translate(1349.8,1121.5) scale(1.000)"/>
<text transform="translate(1482.0,1162.7) scale(1.075,1)" y="0" font-size="36.9" fill="#c4111a" stroke="#c4111a" stroke-width="1.4" stroke-linejoin="round" class="nm"><tspan x="-44.0" y="0">3</tspan><tspan x="-20.1" y="0">6</tspan><tspan x="9.1" y="-3.0" font-size="11.1" stroke-width="6.0">.</tspan><tspan x="17.3" y="0">0</tspan></text>
<use href="#ic-green" transform="translate(1553.4,1115.5) scale(1.000)"/>
<text transform="translate(1679.3,1162.7) scale(1.075,1)" y="0" font-size="36.9" fill="#404041" stroke="#404041" stroke-width="1.4" stroke-linejoin="round" class="nm"><tspan x="-42.2" y="0">4</tspan><tspan x="-17.4" y="0">2</tspan><tspan x="10.6" y="-3.0" font-size="11.1" stroke-width="6.0">.</tspan><tspan x="17.5" y="0">5</tspan></text>

<text x="1451.3" y="1275.5" font-size="21.8" fill="#161616" textLength="162.7" lengthAdjust="spacingAndGlyphs" class="lb" stroke="#161616" stroke-width="0.35" stroke-linejoin="round">QUẢNG NGÃI</text>
<use href="#ic-duck" transform="translate(1449.0,1287.5) scale(1.000)"/>
<text transform="translate(1580.5,1328.2) scale(1.075,1)" y="0" font-size="36.9" fill="#c4111a" stroke="#c4111a" stroke-width="1.4" stroke-linejoin="round" class="nm"><tspan x="-44.0" y="0">3</tspan><tspan x="-20.1" y="0">6</tspan><tspan x="9.1" y="-3.0" font-size="11.1" stroke-width="6.0">.</tspan><tspan x="17.3" y="0">0</tspan></text>
<use href="#ic-green" transform="translate(1652.0,1281.5) scale(1.000)"/>
<text transform="translate(1776.7,1328.2) scale(1.075,1)" y="0" font-size="36.9" fill="#404041" stroke="#404041" stroke-width="1.4" stroke-linejoin="round" class="nm"><tspan x="-44.8" y="0">4</tspan><tspan x="-18.8" y="0">4</tspan><tspan x="10.8" y="-3.0" font-size="11.1" stroke-width="6.0">.</tspan><tspan x="19.1" y="0">0</tspan></text>

<text x="1475.5" y="1408.3" font-size="21.8" fill="#161616" textLength="112.0" lengthAdjust="spacingAndGlyphs" class="lb" stroke="#161616" stroke-width="0.35" stroke-linejoin="round">ĐẮK LẮK</text>
<use href="#ic-duck" transform="translate(1469.6,1420.8) scale(1.000)"/>
<text transform="translate(1605.0,1462.0) scale(1.075,1)" y="0" font-size="36.9" fill="#c4111a" stroke="#c4111a" stroke-width="1.4" stroke-linejoin="round" class="nm"><tspan x="-42.7" y="0">3</tspan><tspan x="-18.9" y="0">6</tspan><tspan x="10.3" y="-3.0" font-size="11.1" stroke-width="6.0">.</tspan><tspan x="17.2" y="0">5</tspan></text>
<use href="#ic-green" transform="translate(1676.0,1414.8) scale(1.000)"/>
<text transform="translate(1801.2,1462.0) scale(1.075,1)" y="0" font-size="36.9" fill="#404041" stroke="#404041" stroke-width="1.4" stroke-linejoin="round" class="nm"><tspan x="-42.5" y="0">4</tspan><tspan x="-17.3" y="0">3</tspan><tspan x="10.9" y="-3.0" font-size="11.1" stroke-width="6.0">.</tspan><tspan x="17.8" y="0">5</tspan></text>

<text x="1378.2" y="1541.0" font-size="21.8" fill="#161616" textLength="156.3" lengthAdjust="spacingAndGlyphs" class="lb" stroke="#161616" stroke-width="0.35" stroke-linejoin="round">KHÁNH HÒA</text>
<use href="#ic-duck" transform="translate(1371.7,1551.1) scale(1.000)"/>
<text transform="translate(1507.6,1593.5) scale(1.075,1)" y="0" font-size="36.9" fill="#0a9055" stroke="#0a9055" stroke-width="1.4" stroke-linejoin="round" class="nm"><tspan x="-44.0" y="0">3</tspan><tspan x="-19.9" y="0">8</tspan><tspan x="9.1" y="-3.0" font-size="11.1" stroke-width="6.0">.</tspan><tspan x="17.3" y="0">0</tspan></text>
<use href="#ic-green" transform="translate(1578.7,1545.1) scale(1.000)"/>
<text transform="translate(1703.8,1593.5) scale(1.075,1)" y="0" font-size="36.9" fill="#404041" stroke="#404041" stroke-width="1.4" stroke-linejoin="round" class="nm"><tspan x="-42.7" y="0">3</tspan><tspan x="-18.7" y="0">8</tspan><tspan x="10.3" y="-3.0" font-size="11.1" stroke-width="6.0">.</tspan><tspan x="17.2" y="0">5</tspan></text>
<use href="#ic-orange" transform="translate(1774.6,1542.6) scale(1.000)"/>
<text transform="translate(1898.0,1593.5) scale(1.075,1)" y="0" font-size="36.9" fill="#404041" stroke="#404041" stroke-width="1.4" stroke-linejoin="round" class="nm"><tspan x="-44.0" y="0">3</tspan><tspan x="-20.1" y="0">6</tspan><tspan x="9.1" y="-3.0" font-size="11.1" stroke-width="6.0">.</tspan><tspan x="17.3" y="0">0</tspan></text>

<text x="1354.0" y="1674.0" font-size="21.8" fill="#161616" textLength="136.2" lengthAdjust="spacingAndGlyphs" class="lb" stroke="#161616" stroke-width="0.35" stroke-linejoin="round">LÂM ĐỒNG</text>
<use href="#ic-duck" transform="translate(1349.8,1686.5) scale(1.000)"/>
<text transform="translate(1482.0,1727.7) scale(1.075,1)" y="0" font-size="36.9" fill="#0a9055" stroke="#0a9055" stroke-width="1.4" stroke-linejoin="round" class="nm"><tspan x="-44.0" y="0">3</tspan><tspan x="-19.7" y="0">9</tspan><tspan x="9.1" y="-3.0" font-size="11.1" stroke-width="6.0">.</tspan><tspan x="17.3" y="0">0</tspan></text>
<use href="#ic-green" transform="translate(1556.3,1680.5) scale(1.000)"/>
<text transform="translate(1678.7,1727.7) scale(1.075,1)" y="0" font-size="36.9" fill="#404041" stroke="#404041" stroke-width="1.4" stroke-linejoin="round" class="nm"><tspan x="-42.0" y="0">3</tspan><tspan x="-18.5" y="0">7</tspan><tspan x="9.5" y="-3.0" font-size="11.1" stroke-width="6.0">.</tspan><tspan x="16.4" y="0">5</tspan></text>
<use href="#ic-orange" transform="translate(1749.2,1678.0) scale(1.000)"/>
<text transform="translate(1874.3,1727.7) scale(1.075,1)" y="0" font-size="36.9" fill="#404041" stroke="#404041" stroke-width="1.4" stroke-linejoin="round" class="nm"><tspan x="-42.0" y="0">3</tspan><tspan x="-18.5" y="0">7</tspan><tspan x="9.5" y="-3.0" font-size="11.1" stroke-width="6.0">.</tspan><tspan x="16.4" y="0">5</tspan></text>

<text x="1280.2" y="1840.4" font-size="21.8" fill="#161616" textLength="126.8" lengthAdjust="spacingAndGlyphs" class="lb" stroke="#161616" stroke-width="0.35" stroke-linejoin="round">ĐỒNG NAI</text>
<use href="#ic-duck" transform="translate(1276.0,1852.9) scale(1.000)"/>
<text transform="translate(1410.0,1894.1) scale(1.075,1)" y="0" font-size="36.9" fill="#0a9055" stroke="#0a9055" stroke-width="1.4" stroke-linejoin="round" class="nm" clip-path="url(#c41_5)"><tspan x="-38.5" y="0">4</tspan><tspan x="-16.0" y="0">1</tspan><tspan x="6.9" y="-3.0" font-size="11.1" stroke-width="6.0">.</tspan><tspan x="13.8" y="0">5</tspan></text>
<use href="#ic-green" transform="translate(1485.5,1846.9) scale(1.000)"/>
<text transform="translate(1605.0,1894.1) scale(1.075,1)" y="0" font-size="36.9" fill="#404041" stroke="#404041" stroke-width="1.4" stroke-linejoin="round" class="nm"><tspan x="-42.0" y="0">3</tspan><tspan x="-18.5" y="0">7</tspan><tspan x="9.5" y="-3.0" font-size="11.1" stroke-width="6.0">.</tspan><tspan x="16.4" y="0">5</tspan></text>
<use href="#ic-orange" transform="translate(1676.0,1844.4) scale(1.000)"/>
<text transform="translate(1800.6,1894.1) scale(1.075,1)" y="0" font-size="36.9" fill="#404041" stroke="#404041" stroke-width="1.4" stroke-linejoin="round" class="nm"><tspan x="-42.0" y="0">3</tspan><tspan x="-18.5" y="0">7</tspan><tspan x="9.5" y="-3.0" font-size="11.1" stroke-width="6.0">.</tspan><tspan x="16.4" y="0">5</tspan></text>

<text x="1133.3" y="1973.2" font-size="21.8" fill="#161616" textLength="141.0" lengthAdjust="spacingAndGlyphs" class="lb" stroke="#161616" stroke-width="0.35" stroke-linejoin="round">VĨNH LONG</text>
<use href="#ic-duck" transform="translate(1129.8,1984.2) scale(1.000)"/>
<text transform="translate(1263.4,2026.9) scale(1.075,1)" y="0" font-size="36.9" fill="#404041" stroke="#404041" stroke-width="1.4" stroke-linejoin="round" class="nm"><tspan x="-42.2" y="0">4</tspan><tspan x="-17.4" y="0">2</tspan><tspan x="10.6" y="-3.0" font-size="11.1" stroke-width="6.0">.</tspan><tspan x="17.5" y="0">5</tspan></text>
<use href="#ic-green" transform="translate(1329.2,1977.7) scale(1.000)"/>
<text transform="translate(1457.8,2026.9) scale(1.075,1)" y="0" font-size="36.9" fill="#c4111a" stroke="#c4111a" stroke-width="1.4" stroke-linejoin="round" class="nm"><tspan x="-44.0" y="0">3</tspan><tspan x="-19.9" y="0">8</tspan><tspan x="9.1" y="-3.0" font-size="11.1" stroke-width="6.0">.</tspan><tspan x="17.3" y="0">0</tspan></text>
<use href="#ic-cyan" transform="translate(1529.8,1971.7) scale(1.000)"/>
<text transform="translate(1654.3,2026.9) scale(1.075,1)" y="0" font-size="36.9" fill="#0a9055" stroke="#0a9055" stroke-width="1.4" stroke-linejoin="round" class="nm"><tspan x="-43.4" y="0">4</tspan><tspan x="-18.6" y="0">7</tspan><tspan x="9.4" y="-3.0" font-size="11.1" stroke-width="6.0">.</tspan><tspan x="17.7" y="0">0</tspan></text>

<text x="1035.4" y="2105.8" font-size="21.8" fill="#161616" textLength="154.0" lengthAdjust="spacingAndGlyphs" class="lb" stroke="#161616" stroke-width="0.35" stroke-linejoin="round">TP CẦN THƠ</text>
<use href="#ic-duck" transform="translate(1032.4,2117.1) scale(1.000)"/>
<text transform="translate(1164.6,2159.5) scale(1.075,1)" y="0" font-size="36.9" fill="#404041" stroke="#404041" stroke-width="1.4" stroke-linejoin="round" class="nm"><tspan x="-43.7" y="0">4</tspan><tspan x="-18.6" y="0">3</tspan><tspan x="9.7" y="-3.0" font-size="11.1" stroke-width="6.0">.</tspan><tspan x="18.0" y="0">0</tspan></text>
<use href="#ic-green" transform="translate(1234.8,2106.6) scale(1.000)"/>
<text transform="translate(1359.6,2159.5) scale(1.075,1)" y="0" font-size="36.9" fill="#c4111a" stroke="#c4111a" stroke-width="1.4" stroke-linejoin="round" class="nm"><tspan x="-44.0" y="0">3</tspan><tspan x="-19.7" y="0">9</tspan><tspan x="9.1" y="-3.0" font-size="11.1" stroke-width="6.0">.</tspan><tspan x="17.3" y="0">0</tspan></text>
<use href="#ic-cyan" transform="translate(1428.3,2095.9) scale(1.000)"/>
<text transform="translate(1556.3,2159.5) scale(1.075,1)" y="0" font-size="36.9" fill="#0a9055" stroke="#0a9055" stroke-width="1.4" stroke-linejoin="round" class="nm"><tspan x="-43.4" y="0">4</tspan><tspan x="-18.6" y="0">7</tspan><tspan x="9.4" y="-3.0" font-size="11.1" stroke-width="6.0">.</tspan><tspan x="17.7" y="0">0</tspan></text>

</g>
<text x="38.4" y="2290.0" font-size="35.4" fill="#000" textLength="1016.5" lengthAdjust="spacingAndGlyphs" class="hd it" stroke="#000" stroke-width="2.5" stroke-linejoin="round">BẢNG GIÁ GIA CẦM THỊT BÌNH QUÂN CẢ NƯỚC</text>
<text x="35.4" y="2331.4" font-size="24.8" fill="#464647" textLength="192.5" lengthAdjust="spacingAndGlyphs" class="hd it" stroke="#464647" stroke-width="1.5" stroke-linejoin="round">SO VỚI NGÀY:</text>
<text x="256.4" y="2331.4" font-size="24.8" fill="#464647" textLength="171.5" lengthAdjust="spacingAndGlyphs" class="hd it" stroke="#464647" stroke-width="1.5" stroke-linejoin="round">07/04/2026</text>
<text x="37.6" y="2384.0" font-size="29.6" fill="#464647" textLength="218.0" lengthAdjust="spacingAndGlyphs" class="hd it" stroke="#464647" stroke-width="2.0" stroke-linejoin="round">GIÁ VỊT THỊT</text>
<text x="58.5" y="2459.0" font-size="46.6" fill="#c4111a" textLength="225.5" lengthAdjust="spacingAndGlyphs" class="hd it" stroke="#c4111a" stroke-width="4.2" stroke-linejoin="round">35,176</text>
<path d="M328.6,2416.8 L357.1,2416.8 L342.8,2432.2Z" fill="#e0584a"/>
<text x="363.8" y="2434.2" font-size="24.8" fill="#c4111a" textLength="87.7" lengthAdjust="spacingAndGlyphs" class="hd it" stroke="#c4111a" stroke-width="2.0" stroke-linejoin="round">1,426</text>
<text x="331.4" y="2480.2" font-size="24.6" fill="#464647" textLength="122.0" lengthAdjust="spacingAndGlyphs" class="hd it" stroke="#464647" stroke-width="1.8" stroke-linejoin="round">VNĐ/KG</text>
<text x="527.8" y="2384.0" font-size="29.6" fill="#464647" textLength="238.0" lengthAdjust="spacingAndGlyphs" class="hd it" stroke="#464647" stroke-width="2.0" stroke-linejoin="round">GIÁ GÀ RI LAI</text>
<text x="548.2" y="2459.0" font-size="46.6" fill="#c4111a" textLength="228.5" lengthAdjust="spacingAndGlyphs" class="hd it" stroke="#c4111a" stroke-width="4.2" stroke-linejoin="round">50,347</text>
<path d="M817,2416.8 L845.5,2416.8 L831.2,2432.2Z" fill="#e0584a"/>
<text x="848.8" y="2434.2" font-size="24.8" fill="#c4111a" textLength="60.5" lengthAdjust="spacingAndGlyphs" class="hd it" stroke="#c4111a" stroke-width="2.0" stroke-linejoin="round">294</text>
<text x="821.0" y="2480.2" font-size="24.6" fill="#464647" textLength="122.0" lengthAdjust="spacingAndGlyphs" class="hd it" stroke="#464647" stroke-width="1.8" stroke-linejoin="round">VNĐ/KG</text>
<text x="1017.5" y="2384.0" font-size="29.6" fill="#464647" textLength="299.0" lengthAdjust="spacingAndGlyphs" class="hd it" stroke="#464647" stroke-width="2.0" stroke-linejoin="round">GIÁ GÀ MINH DƯ</text>
<text x="1036.7" y="2459.0" font-size="46.6" fill="#c4111a" textLength="225.5" lengthAdjust="spacingAndGlyphs" class="hd it" stroke="#c4111a" stroke-width="4.2" stroke-linejoin="round">40,313</text>
<path d="M1307.4,2416.8 L1335.9,2416.8 L1321.6000000000001,2432.2Z" fill="#e0584a"/>
<text x="1343.2" y="2434.2" font-size="24.8" fill="#c4111a" textLength="57.0" lengthAdjust="spacingAndGlyphs" class="hd it" stroke="#c4111a" stroke-width="2.0" stroke-linejoin="round">156</text>
<text x="1310.7" y="2480.2" font-size="24.6" fill="#464647" textLength="122.0" lengthAdjust="spacingAndGlyphs" class="hd it" stroke="#464647" stroke-width="1.8" stroke-linejoin="round">VNĐ/KG</text>
<text x="1507.2" y="2384.0" font-size="29.6" fill="#464647" textLength="281.0" lengthAdjust="spacingAndGlyphs" class="hd it" stroke="#464647" stroke-width="2.0" stroke-linejoin="round">GIÁ GÀ BẾN TRE</text>
<text x="1526.4" y="2459.0" font-size="46.6" fill="#0a9055" textLength="229.5" lengthAdjust="spacingAndGlyphs" class="hd it" stroke="#0a9055" stroke-width="4.2" stroke-linejoin="round">46,857</text>
<path d="M1796.4,2432.2 L1825.9,2432.2 L1811.1000000000001,2416.5Z" fill="#7dab98"/>
<text x="1832.8" y="2434.2" font-size="24.8" fill="#0a9055" textLength="88.2" lengthAdjust="spacingAndGlyphs" class="hd it" stroke="#0a9055" stroke-width="2.0" stroke-linejoin="round">1,143</text>
<text x="1800.4" y="2480.2" font-size="24.6" fill="#464647" textLength="122.0" lengthAdjust="spacingAndGlyphs" class="hd it" stroke="#464647" stroke-width="1.8" stroke-linejoin="round">VNĐ/KG</text>
<rect x="27.4" y="2515" width="555" height="4.8" fill="#008a57"/>
<path d="M1141.5,2558 Q1150,2497 1232,2497 L1984,2497 L1984,2558Z" fill="#008a57"/>
<text x="1293.5" y="2539.2" font-size="28.6" fill="#ffffff" textLength="622.5" lengthAdjust="spacingAndGlyphs" class="hd it" stroke="#ffffff" stroke-width="1.7" stroke-linejoin="round">CÔNG TY CỔ PHẦN GREENFEED VIỆT NAM</text>
<rect x="0" y="0" width="1987" height="2.2" fill="#3a3a3a"/>
<rect x="0" y="0" width="2.2" height="2560" fill="#3a3a3a"/>
<rect x="0" y="2557.6" width="1987" height="2.4" fill="#111111"/>
<rect x="1983.4" y="0" width="1" height="2560" fill="#fbf9d0"/>
<rect x="1984.3" y="0" width="1.2" height="2560" fill="#d6cf4a"/>
<rect x="1985.4" y="0" width="1.6" height="2560" fill="#1c1a05"/>

</svg>
</body>
</html>
